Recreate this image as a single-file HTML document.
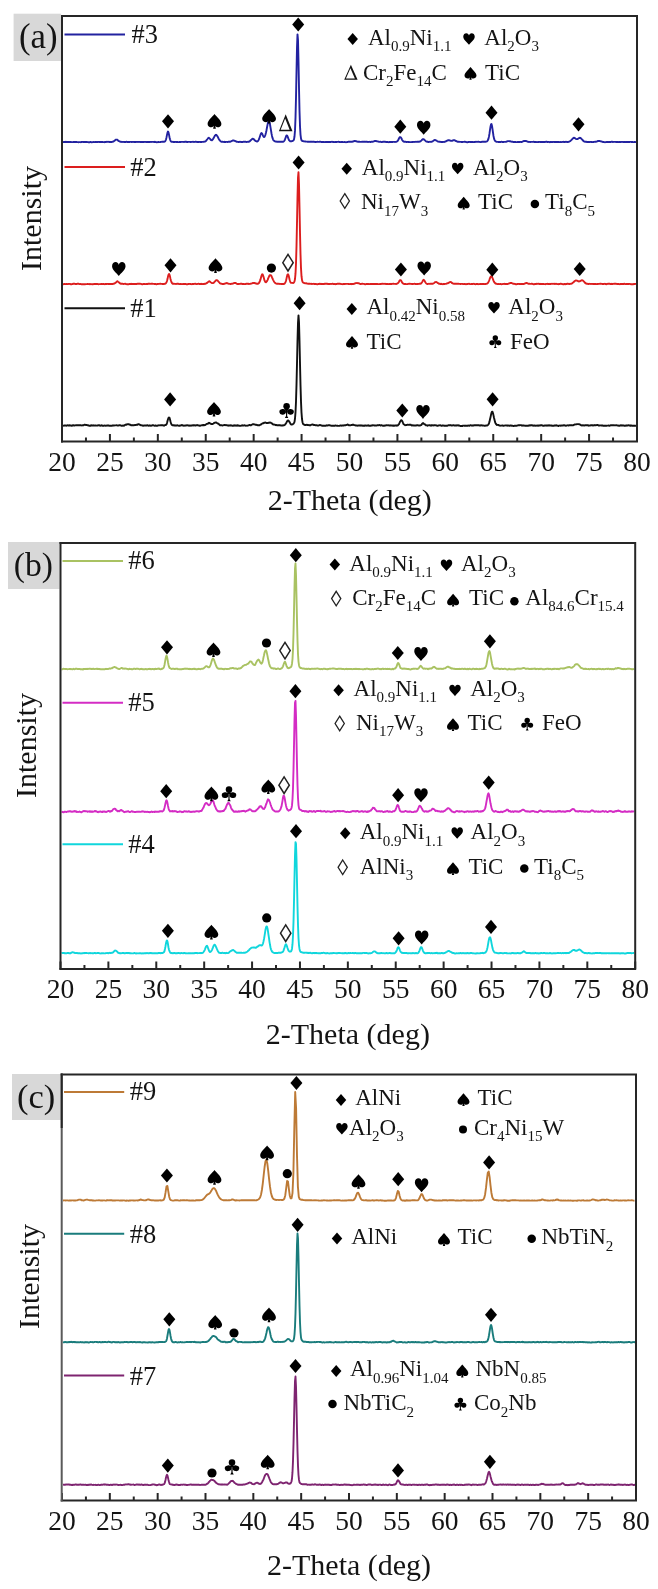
<!DOCTYPE html>
<html><head><meta charset="utf-8"><style>
html,body{margin:0;padding:0;background:#fff;overflow:hidden;}
svg{display:block;font-family:"Liberation Serif", serif;will-change:transform;}
</style></head><body>
<svg width="658" height="1589" viewBox="0 0 658 1589">
<rect width="658" height="1589" fill="#fff"/>
<rect x="13.6" y="13.7" width="47.4" height="47.3" fill="#d8d8d8"/>
<text x="19.0" y="48.0" font-size="34.8" fill="#141414">(a)</text>
<text x="267.7" y="510" font-size="30" fill="#141414">2-Theta (deg)</text>
<text transform="translate(40.5,218.5) rotate(-90)" font-size="30" text-anchor="middle" fill="#141414">Intensity</text>
<text x="62.00" y="470.5" font-size="27.5" text-anchor="middle" fill="#141414">20</text>
<text x="109.92" y="470.5" font-size="27.5" text-anchor="middle" fill="#141414">25</text>
<text x="157.83" y="470.5" font-size="27.5" text-anchor="middle" fill="#141414">30</text>
<text x="205.75" y="470.5" font-size="27.5" text-anchor="middle" fill="#141414">35</text>
<text x="253.67" y="470.5" font-size="27.5" text-anchor="middle" fill="#141414">40</text>
<text x="301.58" y="470.5" font-size="27.5" text-anchor="middle" fill="#141414">45</text>
<text x="349.50" y="470.5" font-size="27.5" text-anchor="middle" fill="#141414">50</text>
<text x="397.42" y="470.5" font-size="27.5" text-anchor="middle" fill="#141414">55</text>
<text x="445.33" y="470.5" font-size="27.5" text-anchor="middle" fill="#141414">60</text>
<text x="493.25" y="470.5" font-size="27.5" text-anchor="middle" fill="#141414">65</text>
<text x="541.17" y="470.5" font-size="27.5" text-anchor="middle" fill="#141414">70</text>
<text x="589.08" y="470.5" font-size="27.5" text-anchor="middle" fill="#141414">75</text>
<text x="637.00" y="470.5" font-size="27.5" text-anchor="middle" fill="#141414">80</text>
<rect x="8" y="542" width="51.5" height="47" fill="#d8d8d8"/>
<text x="13.8" y="576.4" font-size="33.6" fill="#141414">(b)</text>
<text x="265.8" y="1043.5" font-size="30" fill="#141414">2-Theta (deg)</text>
<text transform="translate(35.8,745.5) rotate(-90)" font-size="30" text-anchor="middle" fill="#141414">Intensity</text>
<text x="60.50" y="997.5" font-size="27.5" text-anchor="middle" fill="#141414">20</text>
<text x="108.39" y="997.5" font-size="27.5" text-anchor="middle" fill="#141414">25</text>
<text x="156.28" y="997.5" font-size="27.5" text-anchor="middle" fill="#141414">30</text>
<text x="204.18" y="997.5" font-size="27.5" text-anchor="middle" fill="#141414">35</text>
<text x="252.07" y="997.5" font-size="27.5" text-anchor="middle" fill="#141414">40</text>
<text x="299.96" y="997.5" font-size="27.5" text-anchor="middle" fill="#141414">45</text>
<text x="347.85" y="997.5" font-size="27.5" text-anchor="middle" fill="#141414">50</text>
<text x="395.74" y="997.5" font-size="27.5" text-anchor="middle" fill="#141414">55</text>
<text x="443.63" y="997.5" font-size="27.5" text-anchor="middle" fill="#141414">60</text>
<text x="491.53" y="997.5" font-size="27.5" text-anchor="middle" fill="#141414">65</text>
<text x="539.42" y="997.5" font-size="27.5" text-anchor="middle" fill="#141414">70</text>
<text x="587.31" y="997.5" font-size="27.5" text-anchor="middle" fill="#141414">75</text>
<text x="635.20" y="997.5" font-size="27.5" text-anchor="middle" fill="#141414">80</text>
<rect x="12" y="1074" width="49" height="46" fill="#d8d8d8"/>
<text x="17.0" y="1108.4" font-size="34.5" fill="#141414">(c)</text>
<text x="267" y="1575" font-size="30" fill="#141414">2-Theta (deg)</text>
<text transform="translate(38.6,1276.5) rotate(-90)" font-size="30" text-anchor="middle" fill="#141414">Intensity</text>
<text x="62.00" y="1529.5" font-size="27.5" text-anchor="middle" fill="#141414">20</text>
<text x="109.83" y="1529.5" font-size="27.5" text-anchor="middle" fill="#141414">25</text>
<text x="157.67" y="1529.5" font-size="27.5" text-anchor="middle" fill="#141414">30</text>
<text x="205.50" y="1529.5" font-size="27.5" text-anchor="middle" fill="#141414">35</text>
<text x="253.33" y="1529.5" font-size="27.5" text-anchor="middle" fill="#141414">40</text>
<text x="301.17" y="1529.5" font-size="27.5" text-anchor="middle" fill="#141414">45</text>
<text x="349.00" y="1529.5" font-size="27.5" text-anchor="middle" fill="#141414">50</text>
<text x="396.83" y="1529.5" font-size="27.5" text-anchor="middle" fill="#141414">55</text>
<text x="444.67" y="1529.5" font-size="27.5" text-anchor="middle" fill="#141414">60</text>
<text x="492.50" y="1529.5" font-size="27.5" text-anchor="middle" fill="#141414">65</text>
<text x="540.33" y="1529.5" font-size="27.5" text-anchor="middle" fill="#141414">70</text>
<text x="588.17" y="1529.5" font-size="27.5" text-anchor="middle" fill="#141414">75</text>
<text x="636.00" y="1529.5" font-size="27.5" text-anchor="middle" fill="#141414">80</text>
<polyline points="63.0,141.9 63.5,142.0 64.0,142.0 64.5,142.0 65.0,142.0 65.5,141.9 66.0,141.8 66.5,142.0 67.0,141.9 67.5,141.9 68.0,142.1 68.5,142.0 69.0,142.1 69.5,142.0 70.0,142.1 70.5,142.0 71.0,142.0 71.5,142.1 72.0,142.1 72.5,142.1 73.0,142.1 73.5,142.0 74.0,142.0 74.5,142.0 75.0,142.0 75.5,141.9 76.0,142.0 76.5,142.0 77.0,142.1 77.5,142.1 78.0,142.1 78.5,142.2 79.0,142.1 79.5,142.1 80.0,142.1 80.5,142.1 81.0,142.2 81.5,142.0 82.0,141.9 82.5,141.9 83.0,142.0 83.5,142.0 84.0,142.0 84.5,142.0 85.0,142.0 85.5,142.0 86.0,141.9 86.5,142.0 87.0,142.0 87.5,142.1 88.0,142.1 88.5,142.2 89.0,142.2 89.5,142.2 90.0,142.2 90.5,142.0 91.0,142.1 91.5,142.2 92.0,142.2 92.5,142.1 93.0,142.1 93.5,142.0 94.0,142.1 94.5,142.1 95.0,142.0 95.5,141.9 96.0,142.0 96.5,142.1 97.0,142.0 97.5,142.1 98.0,142.0 98.5,141.9 99.0,141.9 99.5,142.0 100.0,142.1 100.5,141.9 101.0,142.0 101.5,141.9 102.0,142.0 102.5,141.9 103.0,142.1 103.5,142.1 104.0,142.1 104.5,142.2 105.0,142.0 105.5,141.9 106.0,142.0 106.5,141.9 107.0,141.8 107.5,141.9 108.0,141.9 108.5,141.9 109.0,141.8 109.5,142.0 110.0,141.9 110.5,142.0 111.0,142.1 111.5,142.0 112.0,141.9 112.5,141.8 113.0,141.7 113.5,141.4 114.0,141.1 114.5,140.7 115.0,140.4 115.5,139.9 116.0,139.6 116.5,139.6 117.0,139.6 117.5,139.9 118.0,140.5 118.5,140.9 119.0,141.2 119.5,141.4 120.0,141.6 120.5,141.8 121.0,141.8 121.5,141.9 122.0,142.0 122.5,141.9 123.0,141.9 123.5,141.9 124.0,142.0 124.5,142.0 125.0,142.0 125.5,142.1 126.0,141.9 126.5,141.8 127.0,141.9 127.5,142.1 128.0,142.0 128.5,142.0 129.0,142.0 129.5,142.0 130.0,141.9 130.5,141.9 131.0,141.9 131.5,142.0 132.0,141.9 132.5,141.9 133.0,142.0 133.5,141.9 134.0,141.9 134.5,142.0 135.0,142.0 135.5,141.9 136.0,142.0 136.5,141.9 137.0,141.9 137.5,141.9 138.0,142.0 138.5,141.9 139.0,141.9 139.5,141.9 140.0,142.0 140.5,142.0 141.0,142.1 141.5,142.0 142.0,141.9 142.5,142.0 143.0,142.1 143.5,142.0 144.0,142.0 144.5,141.9 145.0,141.9 145.5,141.9 146.0,142.0 146.5,142.1 147.0,142.0 147.5,141.9 148.0,142.0 148.5,142.0 149.0,142.1 149.5,142.0 150.0,141.9 150.5,141.9 151.0,142.0 151.5,141.9 152.0,141.9 152.5,141.9 153.0,141.9 153.5,141.9 154.0,142.0 154.5,141.9 155.0,141.8 155.5,142.0 156.0,142.1 156.5,142.2 157.0,142.1 157.5,142.1 158.0,142.2 158.5,142.0 159.0,142.1 159.5,142.1 160.0,142.1 160.5,142.0 161.0,141.9 161.5,141.9 162.0,141.8 162.5,141.8 163.0,141.8 163.5,141.8 164.0,141.8 164.5,141.6 165.0,141.4 165.5,140.7 166.0,139.5 166.5,137.4 167.0,134.9 167.5,132.6 168.0,131.5 168.5,132.5 169.0,134.6 169.5,137.2 170.0,139.3 170.5,140.7 171.0,141.4 171.5,141.8 172.0,141.9 172.5,141.9 173.0,141.8 173.5,142.0 174.0,142.0 174.5,142.0 175.0,142.0 175.5,141.9 176.0,141.9 176.5,142.0 177.0,141.9 177.5,142.0 178.0,142.1 178.5,142.1 179.0,142.1 179.5,142.0 180.0,142.0 180.5,142.1 181.0,141.9 181.5,141.9 182.0,141.9 182.5,141.9 183.0,141.9 183.5,141.9 184.0,142.0 184.5,141.9 185.0,141.8 185.5,141.8 186.0,141.8 186.5,141.8 187.0,142.0 187.5,142.0 188.0,141.9 188.5,141.9 189.0,141.9 189.5,141.9 190.0,141.9 190.5,142.0 191.0,142.0 191.5,141.9 192.0,141.9 192.5,141.9 193.0,141.8 193.5,141.9 194.0,142.0 194.5,141.9 195.0,141.9 195.5,141.8 196.0,141.8 196.5,141.9 197.0,142.0 197.5,142.0 198.0,142.0 198.5,142.0 199.0,142.0 199.5,141.9 200.0,141.9 200.5,142.0 201.0,141.9 201.5,142.0 202.0,141.9 202.5,141.9 203.0,141.9 203.5,141.9 204.0,141.7 204.5,141.6 205.0,141.5 205.5,141.3 206.0,140.9 206.5,140.2 207.0,139.6 207.5,139.0 208.0,138.3 208.5,137.9 209.0,137.8 209.5,138.3 210.0,138.8 210.5,139.5 211.0,140.0 211.5,140.2 212.0,140.2 212.5,139.8 213.0,139.1 213.5,138.3 214.0,137.3 214.5,136.3 215.0,135.7 215.5,135.0 216.0,134.8 216.5,135.0 217.0,135.7 217.5,136.4 218.0,137.3 218.5,138.4 219.0,139.2 219.5,140.1 220.0,140.7 220.5,141.2 221.0,141.6 221.5,141.7 222.0,141.9 222.5,141.8 223.0,141.9 223.5,141.9 224.0,142.0 224.5,141.8 225.0,141.9 225.5,142.0 226.0,141.9 226.5,141.9 227.0,141.9 227.5,142.0 228.0,141.9 228.5,141.8 229.0,141.8 229.5,141.8 230.0,141.8 230.5,141.6 231.0,141.4 231.5,141.2 232.0,140.9 232.5,140.7 233.0,140.4 233.5,140.4 234.0,140.6 234.5,140.7 235.0,141.0 235.5,141.1 236.0,141.4 236.5,141.7 237.0,141.8 237.5,141.9 238.0,141.9 238.5,142.0 239.0,142.0 239.5,141.9 240.0,141.8 240.5,141.9 241.0,142.0 241.5,142.0 242.0,142.0 242.5,142.0 243.0,141.9 243.5,141.8 244.0,141.8 244.5,141.9 245.0,141.8 245.5,141.8 246.0,141.9 246.5,142.0 247.0,141.9 247.5,141.9 248.0,141.8 248.5,141.8 249.0,141.7 249.5,141.4 250.0,141.0 250.5,140.5 251.0,140.1 251.5,139.6 252.0,139.1 252.5,138.8 253.0,138.8 253.5,139.1 254.0,139.4 254.5,140.1 255.0,140.5 255.5,140.9 256.0,141.2 256.5,141.4 257.0,141.5 257.5,141.3 258.0,140.9 258.5,140.2 259.0,139.2 259.5,137.7 260.0,136.2 260.5,134.7 261.0,133.5 261.5,133.1 262.0,133.5 262.5,134.5 263.0,135.7 263.5,136.6 264.0,137.1 264.5,136.8 265.0,135.9 265.5,134.5 266.0,132.5 266.5,130.2 267.0,127.5 267.5,124.9 268.0,122.5 268.5,121.2 269.0,120.9 269.5,122.1 270.0,124.5 270.5,127.3 271.0,130.4 271.5,133.5 272.0,135.9 272.5,137.9 273.0,139.3 273.5,140.3 274.0,140.7 274.5,141.1 275.0,141.3 275.5,141.5 276.0,141.5 276.5,141.6 277.0,141.8 277.5,141.7 278.0,141.8 278.5,141.7 279.0,141.6 279.5,141.7 280.0,141.6 280.5,141.8 281.0,141.9 281.5,141.7 282.0,141.8 282.5,141.7 283.0,141.7 283.5,141.6 284.0,141.1 284.5,140.5 285.0,139.4 285.5,138.0 286.0,136.5 286.5,135.5 287.0,135.5 287.5,136.3 288.0,137.6 288.5,138.9 289.0,140.1 289.5,140.7 290.0,141.2 290.5,141.3 291.0,141.3 291.5,141.2 292.0,141.1 292.5,141.0 293.0,140.7 293.5,140.4 294.0,139.3 294.5,136.5 295.0,130.4 295.5,117.9 296.0,97.8 296.5,72.0 297.0,47.4 297.5,34.4 298.0,40.2 298.5,61.4 299.0,87.9 299.5,110.8 300.0,126.1 300.5,134.6 301.0,138.5 301.5,140.1 302.0,140.8 302.5,141.0 303.0,141.1 303.5,141.2 304.0,141.4 304.5,141.4 305.0,141.5 305.5,141.5 306.0,141.6 306.5,141.6 307.0,141.6 307.5,141.7 308.0,141.7 308.5,141.8 309.0,141.8 309.5,141.9 310.0,141.8 310.5,141.8 311.0,141.7 311.5,141.7 312.0,141.8 312.5,141.9 313.0,141.8 313.5,141.8 314.0,141.8 314.5,141.9 315.0,142.0 315.5,142.0 316.0,142.0 316.5,141.9 317.0,141.9 317.5,141.8 318.0,141.9 318.5,141.9 319.0,141.9 319.5,141.8 320.0,141.9 320.5,141.8 321.0,141.9 321.5,142.0 322.0,142.1 322.5,142.0 323.0,142.0 323.5,142.0 324.0,142.0 324.5,142.1 325.0,142.1 325.5,142.0 326.0,142.1 326.5,142.0 327.0,142.0 327.5,142.1 328.0,141.9 328.5,142.0 329.0,142.0 329.5,142.0 330.0,142.0 330.5,142.0 331.0,141.9 331.5,141.9 332.0,141.8 332.5,141.9 333.0,142.0 333.5,142.0 334.0,142.0 334.5,142.1 335.0,142.1 335.5,142.0 336.0,142.0 336.5,142.0 337.0,141.9 337.5,141.9 338.0,141.9 338.5,141.8 339.0,141.9 339.5,142.0 340.0,142.0 340.5,142.1 341.0,142.1 341.5,141.9 342.0,142.0 342.5,142.0 343.0,142.1 343.5,142.1 344.0,142.1 344.5,142.0 345.0,142.1 345.5,142.1 346.0,142.2 346.5,142.1 347.0,142.1 347.5,142.0 348.0,141.9 348.5,141.8 349.0,141.8 349.5,141.8 350.0,141.8 350.5,141.8 351.0,141.9 351.5,141.8 352.0,141.7 352.5,141.7 353.0,141.5 353.5,141.3 354.0,141.2 354.5,141.0 355.0,140.9 355.5,141.1 356.0,141.2 356.5,141.3 357.0,141.5 357.5,141.6 358.0,141.8 358.5,141.8 359.0,141.8 359.5,141.8 360.0,141.9 360.5,141.9 361.0,141.9 361.5,141.9 362.0,141.8 362.5,141.8 363.0,141.9 363.5,141.8 364.0,141.8 364.5,141.8 365.0,141.8 365.5,141.9 366.0,141.8 366.5,141.8 367.0,141.8 367.5,141.9 368.0,142.0 368.5,141.9 369.0,141.9 369.5,141.9 370.0,141.8 370.5,142.0 371.0,141.9 371.5,141.8 372.0,141.8 372.5,141.7 373.0,141.6 373.5,141.5 374.0,141.3 374.5,141.0 375.0,141.0 375.5,140.9 376.0,141.0 376.5,141.1 377.0,141.4 377.5,141.4 378.0,141.5 378.5,141.6 379.0,141.8 379.5,141.9 380.0,141.9 380.5,141.8 381.0,141.9 381.5,142.1 382.0,142.1 382.5,141.9 383.0,141.8 383.5,141.8 384.0,141.8 384.5,141.8 385.0,141.7 385.5,141.9 386.0,142.0 386.5,141.9 387.0,142.1 387.5,142.0 388.0,142.1 388.5,142.1 389.0,142.2 389.5,142.0 390.0,141.9 390.5,142.0 391.0,142.1 391.5,141.9 392.0,141.9 392.5,142.0 393.0,141.9 393.5,141.9 394.0,141.9 394.5,141.9 395.0,142.0 395.5,141.9 396.0,141.9 396.5,141.8 397.0,141.5 397.5,141.1 398.0,140.4 398.5,139.5 399.0,138.4 399.5,137.5 400.0,137.1 400.5,137.1 401.0,137.6 401.5,138.5 402.0,139.6 402.5,140.5 403.0,141.1 403.5,141.5 404.0,141.7 404.5,141.8 405.0,141.9 405.5,141.8 406.0,141.9 406.5,142.0 407.0,142.0 407.5,141.9 408.0,141.9 408.5,142.0 409.0,142.0 409.5,142.1 410.0,142.1 410.5,142.1 411.0,142.1 411.5,142.1 412.0,142.0 412.5,142.0 413.0,141.9 413.5,141.9 414.0,142.0 414.5,141.9 415.0,141.9 415.5,141.9 416.0,141.8 416.5,141.9 417.0,141.9 417.5,141.8 418.0,141.8 418.5,141.8 419.0,141.9 419.5,141.7 420.0,141.5 420.5,141.4 421.0,140.9 421.5,140.4 422.0,139.8 422.5,139.4 423.0,139.1 423.5,139.1 424.0,139.5 424.5,139.9 425.0,140.4 425.5,140.9 426.0,141.4 426.5,141.6 427.0,141.6 427.5,141.9 428.0,141.8 428.5,142.0 429.0,141.9 429.5,141.9 430.0,141.8 430.5,141.9 431.0,141.9 431.5,141.8 432.0,141.6 432.5,141.4 433.0,141.0 433.5,140.7 434.0,140.3 434.5,140.0 435.0,140.0 435.5,140.1 436.0,140.4 436.5,140.6 437.0,141.0 437.5,141.3 438.0,141.6 438.5,141.6 439.0,141.7 439.5,141.8 440.0,141.8 440.5,141.9 441.0,142.0 441.5,141.9 442.0,142.0 442.5,142.0 443.0,141.9 443.5,141.9 444.0,142.0 444.5,141.9 445.0,141.7 445.5,141.5 446.0,141.3 446.5,140.9 447.0,140.8 447.5,140.5 448.0,140.3 448.5,140.2 449.0,140.1 449.5,140.3 450.0,140.5 450.5,140.6 451.0,140.9 451.5,140.9 452.0,140.9 452.5,140.6 453.0,140.3 453.5,140.1 454.0,140.1 454.5,140.2 455.0,140.4 455.5,140.8 456.0,141.0 456.5,141.2 457.0,141.5 457.5,141.7 458.0,141.8 458.5,141.9 459.0,141.8 459.5,141.9 460.0,141.9 460.5,141.9 461.0,141.9 461.5,142.0 462.0,142.0 462.5,142.0 463.0,141.9 463.5,141.9 464.0,141.9 464.5,141.8 465.0,141.8 465.5,141.9 466.0,142.0 466.5,142.1 467.0,142.2 467.5,142.2 468.0,142.1 468.5,142.0 469.0,141.9 469.5,141.9 470.0,142.0 470.5,142.0 471.0,141.9 471.5,142.0 472.0,142.0 472.5,142.0 473.0,142.1 473.5,142.1 474.0,142.0 474.5,141.9 475.0,142.0 475.5,141.9 476.0,141.8 476.5,141.9 477.0,141.9 477.5,141.9 478.0,141.8 478.5,141.8 479.0,141.9 479.5,141.9 480.0,142.0 480.5,142.1 481.0,142.1 481.5,141.9 482.0,141.8 482.5,141.8 483.0,141.8 483.5,141.8 484.0,141.7 484.5,141.8 485.0,141.7 485.5,141.7 486.0,141.6 486.5,141.6 487.0,141.4 487.5,140.9 488.0,140.0 488.5,138.6 489.0,136.4 489.5,133.4 490.0,129.9 490.5,126.6 491.0,124.4 491.5,124.1 492.0,126.0 492.5,129.2 493.0,132.7 493.5,136.0 494.0,138.4 494.5,139.9 495.0,140.8 495.5,141.2 496.0,141.6 496.5,141.8 497.0,141.9 497.5,141.9 498.0,141.9 498.5,142.0 499.0,142.1 499.5,142.0 500.0,142.0 500.5,142.0 501.0,141.9 501.5,141.8 502.0,141.9 502.5,142.0 503.0,142.0 503.5,142.0 504.0,141.9 504.5,141.9 505.0,141.9 505.5,141.9 506.0,141.9 506.5,141.6 507.0,141.4 507.5,141.3 508.0,141.1 508.5,141.1 509.0,141.1 509.5,141.2 510.0,141.3 510.5,141.3 511.0,141.5 511.5,141.6 512.0,141.8 512.5,141.8 513.0,141.9 513.5,142.0 514.0,141.9 514.5,142.0 515.0,141.9 515.5,142.0 516.0,142.1 516.5,142.1 517.0,142.1 517.5,142.0 518.0,142.1 518.5,142.0 519.0,141.9 519.5,142.0 520.0,141.9 520.5,141.9 521.0,142.0 521.5,142.0 522.0,141.8 522.5,141.6 523.0,141.4 523.5,141.2 524.0,141.0 524.5,141.1 525.0,140.9 525.5,140.9 526.0,141.0 526.5,141.1 527.0,141.4 527.5,141.6 528.0,141.8 528.5,141.9 529.0,142.0 529.5,141.9 530.0,141.9 530.5,142.0 531.0,141.9 531.5,141.9 532.0,141.9 532.5,141.9 533.0,141.9 533.5,141.8 534.0,141.8 534.5,142.0 535.0,141.9 535.5,142.0 536.0,141.9 536.5,142.1 537.0,142.1 537.5,142.1 538.0,142.0 538.5,141.9 539.0,142.0 539.5,141.9 540.0,141.9 540.5,142.0 541.0,142.1 541.5,141.9 542.0,142.1 542.5,142.0 543.0,142.0 543.5,141.9 544.0,141.9 544.5,142.1 545.0,142.0 545.5,141.9 546.0,141.8 546.5,141.8 547.0,141.8 547.5,142.0 548.0,141.9 548.5,141.9 549.0,142.0 549.5,142.1 550.0,142.2 550.5,142.0 551.0,142.0 551.5,142.1 552.0,142.0 552.5,142.1 553.0,142.0 553.5,141.9 554.0,141.9 554.5,142.0 555.0,142.0 555.5,142.0 556.0,142.0 556.5,142.0 557.0,142.0 557.5,142.0 558.0,142.1 558.5,142.0 559.0,142.0 559.5,142.1 560.0,142.1 560.5,142.0 561.0,142.1 561.5,142.1 562.0,142.0 562.5,141.9 563.0,141.9 563.5,141.8 564.0,142.0 564.5,141.9 565.0,142.0 565.5,141.9 566.0,141.8 566.5,141.9 567.0,142.0 567.5,142.0 568.0,142.0 568.5,141.9 569.0,141.8 569.5,141.5 570.0,141.2 570.5,140.9 571.0,140.4 571.5,139.9 572.0,139.3 572.5,138.8 573.0,138.3 573.5,137.9 574.0,137.8 574.5,137.9 575.0,138.2 575.5,138.6 576.0,138.9 576.5,139.1 577.0,139.1 577.5,139.1 578.0,138.8 578.5,138.3 579.0,138.1 579.5,137.9 580.0,137.8 580.5,138.0 581.0,138.3 581.5,138.9 582.0,139.4 582.5,140.0 583.0,140.5 583.5,141.0 584.0,141.4 584.5,141.6 585.0,141.7 585.5,141.8 586.0,141.8 586.5,141.8 587.0,142.0 587.5,142.0 588.0,141.9 588.5,142.0 589.0,142.0 589.5,142.1 590.0,142.0 590.5,141.9 591.0,141.9 591.5,142.0 592.0,142.0 592.5,142.1 593.0,142.1 593.5,142.0 594.0,141.9 594.5,141.9 595.0,141.8 595.5,141.7 596.0,141.7 596.5,141.6 597.0,141.5 597.5,141.2 598.0,141.0 598.5,140.9 599.0,141.0 599.5,141.0 600.0,141.1 600.5,141.3 601.0,141.4 601.5,141.5 602.0,141.7 602.5,141.9 603.0,142.0 603.5,142.0 604.0,142.1 604.5,142.1 605.0,142.2 605.5,142.1 606.0,142.1 606.5,142.0 607.0,142.1 607.5,142.0 608.0,142.0 608.5,142.1 609.0,142.0 609.5,141.9 610.0,142.0 610.5,142.0 611.0,141.9 611.5,141.8 612.0,141.9 612.5,141.8 613.0,142.0 613.5,141.9 614.0,141.9 614.5,141.9 615.0,141.9 615.5,141.9 616.0,142.0 616.5,142.0 617.0,142.0 617.5,141.9 618.0,142.1 618.5,142.1 619.0,141.9 619.5,141.9 620.0,142.0 620.5,142.1 621.0,142.0 621.5,141.9 622.0,141.9 622.5,141.9 623.0,142.0 623.5,142.1 624.0,142.0 624.5,142.0 625.0,142.0 625.5,142.1 626.0,142.0 626.5,142.0 627.0,141.9 627.5,142.0 628.0,141.9 628.5,142.0 629.0,142.0 629.5,142.0 630.0,141.9 630.5,141.9 631.0,141.9 631.5,142.0 632.0,142.0 632.5,142.0 633.0,142.1 633.5,142.1 634.0,142.1 634.5,142.0 635.0,141.9 635.5,142.1 636.0,141.9" fill="none" stroke="#2222a0" stroke-width="1.9" stroke-linejoin="round"/>
<polyline points="63.0,284.1 63.5,284.2 64.0,284.0 64.5,283.9 65.0,284.0 65.5,284.1 66.0,284.1 66.5,284.0 67.0,284.0 67.5,284.1 68.0,284.1 68.5,283.9 69.0,283.9 69.5,283.9 70.0,284.0 70.5,284.2 71.0,284.2 71.5,284.2 72.0,284.1 72.5,284.0 73.0,283.8 73.5,283.7 74.0,283.8 74.5,283.8 75.0,283.9 75.5,284.0 76.0,284.0 76.5,284.0 77.0,283.9 77.5,283.8 78.0,283.8 78.5,283.8 79.0,283.9 79.5,284.1 80.0,284.1 80.5,284.0 81.0,284.1 81.5,284.2 82.0,284.2 82.5,284.2 83.0,284.2 83.5,284.2 84.0,284.1 84.5,284.2 85.0,284.3 85.5,284.1 86.0,284.1 86.5,284.1 87.0,284.1 87.5,284.0 88.0,284.0 88.5,284.1 89.0,284.1 89.5,284.2 90.0,284.0 90.5,284.1 91.0,284.2 91.5,284.1 92.0,284.1 92.5,284.2 93.0,284.2 93.5,284.1 94.0,284.0 94.5,283.9 95.0,284.0 95.5,283.9 96.0,284.1 96.5,284.0 97.0,284.1 97.5,284.0 98.0,284.1 98.5,284.2 99.0,284.1 99.5,284.1 100.0,284.1 100.5,284.1 101.0,284.0 101.5,283.9 102.0,283.9 102.5,284.1 103.0,284.1 103.5,283.9 104.0,284.1 104.5,284.1 105.0,284.2 105.5,284.0 106.0,284.1 106.5,283.9 107.0,284.0 107.5,283.9 108.0,283.9 108.5,284.0 109.0,283.9 109.5,283.9 110.0,284.1 110.5,283.9 111.0,283.9 111.5,284.0 112.0,284.0 112.5,284.0 113.0,283.8 113.5,283.8 114.0,283.6 114.5,283.5 115.0,283.1 115.5,282.9 116.0,282.3 116.5,281.9 117.0,281.4 117.5,281.3 118.0,281.7 118.5,282.0 119.0,282.4 119.5,283.0 120.0,283.4 120.5,283.5 121.0,283.9 121.5,283.8 122.0,283.7 122.5,283.8 123.0,283.9 123.5,284.0 124.0,283.9 124.5,283.9 125.0,283.8 125.5,283.8 126.0,284.0 126.5,284.1 127.0,284.2 127.5,284.2 128.0,284.2 128.5,284.2 129.0,284.1 129.5,284.0 130.0,284.0 130.5,284.0 131.0,283.8 131.5,283.9 132.0,284.0 132.5,283.9 133.0,284.0 133.5,283.9 134.0,284.0 134.5,283.9 135.0,284.1 135.5,284.0 136.0,284.0 136.5,284.0 137.0,283.8 137.5,283.9 138.0,283.8 138.5,283.8 139.0,283.7 139.5,283.7 140.0,283.7 140.5,283.9 141.0,283.9 141.5,284.1 142.0,284.2 142.5,284.3 143.0,284.1 143.5,284.0 144.0,283.9 144.5,284.0 145.0,284.0 145.5,284.1 146.0,284.1 146.5,284.0 147.0,284.0 147.5,284.0 148.0,283.8 148.5,283.7 149.0,283.8 149.5,283.8 150.0,283.9 150.5,283.9 151.0,283.8 151.5,283.8 152.0,283.8 152.5,283.8 153.0,283.9 153.5,283.9 154.0,283.9 154.5,284.0 155.0,283.9 155.5,284.0 156.0,284.2 156.5,284.2 157.0,284.1 157.5,284.0 158.0,284.0 158.5,283.9 159.0,283.9 159.5,283.9 160.0,283.8 160.5,283.8 161.0,283.9 161.5,283.9 162.0,283.9 162.5,284.1 163.0,284.0 163.5,283.9 164.0,284.0 164.5,283.9 165.0,283.7 165.5,283.6 166.0,283.1 166.5,282.2 167.0,281.0 167.5,279.1 168.0,276.6 168.5,274.7 169.0,273.9 169.5,274.7 170.0,276.6 170.5,278.9 171.0,280.8 171.5,282.2 172.0,283.1 172.5,283.7 173.0,283.7 173.5,283.9 174.0,283.8 174.5,283.9 175.0,283.9 175.5,283.9 176.0,284.0 176.5,283.9 177.0,283.8 177.5,283.8 178.0,283.7 178.5,283.9 179.0,284.0 179.5,284.1 180.0,284.1 180.5,283.9 181.0,284.0 181.5,284.1 182.0,284.1 182.5,284.1 183.0,284.0 183.5,284.0 184.0,284.1 184.5,284.0 185.0,284.0 185.5,284.0 186.0,284.1 186.5,284.2 187.0,284.2 187.5,284.2 188.0,284.1 188.5,283.9 189.0,284.0 189.5,283.9 190.0,283.9 190.5,284.0 191.0,284.1 191.5,284.1 192.0,284.2 192.5,284.0 193.0,283.9 193.5,284.1 194.0,283.9 194.5,283.9 195.0,283.8 195.5,283.7 196.0,284.0 196.5,284.1 197.0,284.1 197.5,283.9 198.0,283.9 198.5,283.8 199.0,283.9 199.5,284.0 200.0,284.0 200.5,284.0 201.0,283.8 201.5,283.9 202.0,284.1 202.5,284.1 203.0,283.9 203.5,283.9 204.0,284.0 204.5,283.8 205.0,283.9 205.5,283.7 206.0,283.6 206.5,283.2 207.0,283.0 207.5,282.6 208.0,282.1 208.5,281.6 209.0,281.4 209.5,281.3 210.0,281.7 210.5,282.2 211.0,282.5 211.5,282.8 212.0,283.1 212.5,283.1 213.0,283.1 213.5,282.9 214.0,282.5 214.5,281.8 215.0,281.4 215.5,280.7 216.0,280.3 216.5,280.1 217.0,280.2 217.5,280.6 218.0,281.0 218.5,281.6 219.0,282.2 219.5,282.7 220.0,283.3 220.5,283.6 221.0,283.6 221.5,283.7 222.0,283.9 222.5,284.0 223.0,284.0 223.5,284.0 224.0,283.8 224.5,283.8 225.0,283.6 225.5,283.4 226.0,283.3 226.5,283.2 227.0,283.0 227.5,283.3 228.0,283.6 228.5,283.6 229.0,283.9 229.5,283.9 230.0,283.9 230.5,284.0 231.0,283.8 231.5,283.9 232.0,283.8 232.5,283.6 233.0,283.5 233.5,283.3 234.0,283.0 234.5,283.1 235.0,282.9 235.5,282.9 236.0,283.2 236.5,283.6 237.0,283.8 237.5,284.0 238.0,284.0 238.5,284.0 239.0,284.0 239.5,283.9 240.0,283.9 240.5,283.8 241.0,283.7 241.5,283.9 242.0,283.8 242.5,284.0 243.0,284.0 243.5,284.0 244.0,284.0 244.5,284.1 245.0,284.1 245.5,284.0 246.0,283.8 246.5,283.8 247.0,283.9 247.5,283.8 248.0,283.7 248.5,283.8 249.0,284.0 249.5,283.9 250.0,283.9 250.5,283.7 251.0,283.6 251.5,283.6 252.0,283.4 252.5,283.2 253.0,283.0 253.5,283.0 254.0,283.1 254.5,282.9 255.0,283.2 255.5,283.3 256.0,283.5 256.5,283.7 257.0,283.7 257.5,283.7 258.0,283.7 258.5,283.3 259.0,282.9 259.5,282.1 260.0,280.9 260.5,279.4 261.0,277.5 261.5,275.8 262.0,274.5 262.5,274.3 263.0,275.2 263.5,276.8 264.0,278.6 264.5,280.4 265.0,281.4 265.5,282.1 266.0,282.2 266.5,281.8 267.0,281.1 267.5,280.1 268.0,279.0 268.5,277.7 269.0,276.6 269.5,275.5 270.0,275.1 270.5,275.1 271.0,275.3 271.5,276.2 272.0,277.4 272.5,278.5 273.0,279.6 273.5,280.6 274.0,281.5 274.5,282.3 275.0,282.8 275.5,283.2 276.0,283.5 276.5,283.6 277.0,283.8 277.5,283.8 278.0,283.8 278.5,283.9 279.0,283.8 279.5,283.9 280.0,284.0 280.5,283.9 281.0,283.9 281.5,284.0 282.0,284.0 282.5,284.0 283.0,284.0 283.5,284.0 284.0,283.8 284.5,283.7 285.0,283.0 285.5,282.1 286.0,280.7 286.5,278.6 287.0,276.3 287.5,274.5 288.0,274.2 288.5,275.1 289.0,277.1 289.5,279.3 290.0,281.0 290.5,282.3 291.0,282.8 291.5,282.9 292.0,282.9 292.5,282.9 293.0,283.0 293.5,282.8 294.0,282.4 294.5,281.4 295.0,279.0 295.5,273.7 296.0,263.5 296.5,246.4 297.0,222.8 297.5,197.3 298.0,177.5 298.5,172.2 299.0,184.2 299.5,207.2 300.0,232.7 300.5,253.9 301.0,268.1 301.5,276.2 302.0,280.0 302.5,281.7 303.0,282.4 303.5,282.7 304.0,283.0 304.5,283.1 305.0,283.2 305.5,283.4 306.0,283.4 306.5,283.3 307.0,283.6 307.5,283.6 308.0,283.7 308.5,283.6 309.0,283.7 309.5,283.8 310.0,283.8 310.5,283.9 311.0,283.9 311.5,283.8 312.0,284.0 312.5,283.9 313.0,283.9 313.5,283.9 314.0,283.8 314.5,284.0 315.0,284.0 315.5,284.0 316.0,284.0 316.5,284.1 317.0,284.2 317.5,284.2 318.0,284.1 318.5,284.0 319.0,284.0 319.5,283.8 320.0,283.7 320.5,284.0 321.0,283.8 321.5,284.0 322.0,284.0 322.5,284.1 323.0,283.9 323.5,283.9 324.0,284.0 324.5,283.8 325.0,283.7 325.5,283.8 326.0,283.7 326.5,283.7 327.0,283.9 327.5,283.8 328.0,284.0 328.5,284.0 329.0,283.9 329.5,284.0 330.0,283.9 330.5,283.9 331.0,284.0 331.5,283.9 332.0,283.9 332.5,283.8 333.0,283.8 333.5,284.0 334.0,284.1 334.5,284.0 335.0,284.1 335.5,284.2 336.0,284.0 336.5,284.0 337.0,283.9 337.5,283.8 338.0,283.7 338.5,283.7 339.0,283.7 339.5,283.7 340.0,283.8 340.5,283.9 341.0,284.0 341.5,284.1 342.0,284.1 342.5,284.1 343.0,284.2 343.5,284.0 344.0,283.9 344.5,284.0 345.0,284.0 345.5,283.9 346.0,283.9 346.5,283.9 347.0,283.9 347.5,283.9 348.0,283.9 348.5,284.0 349.0,284.1 349.5,284.1 350.0,284.0 350.5,283.9 351.0,284.0 351.5,284.2 352.0,284.0 352.5,284.0 353.0,284.0 353.5,284.0 354.0,283.7 354.5,283.7 355.0,283.4 355.5,283.2 356.0,283.1 356.5,283.1 357.0,283.0 357.5,283.1 358.0,283.2 358.5,283.3 359.0,283.3 359.5,283.6 360.0,283.8 360.5,284.0 361.0,284.0 361.5,283.9 362.0,283.8 362.5,283.8 363.0,283.9 363.5,283.9 364.0,283.9 364.5,284.1 365.0,284.2 365.5,284.2 366.0,284.1 366.5,284.0 367.0,283.9 367.5,284.0 368.0,284.1 368.5,284.0 369.0,284.1 369.5,284.1 370.0,284.0 370.5,284.0 371.0,284.1 371.5,284.0 372.0,284.1 372.5,283.9 373.0,284.0 373.5,283.9 374.0,284.1 374.5,284.0 375.0,283.9 375.5,284.0 376.0,283.9 376.5,284.0 377.0,284.1 377.5,284.0 378.0,284.1 378.5,284.1 379.0,284.1 379.5,284.1 380.0,284.0 380.5,284.0 381.0,284.0 381.5,283.9 382.0,283.8 382.5,283.9 383.0,283.8 383.5,283.9 384.0,283.9 384.5,283.9 385.0,283.8 385.5,283.9 386.0,284.1 386.5,283.9 387.0,284.0 387.5,284.0 388.0,284.1 388.5,284.1 389.0,284.0 389.5,283.9 390.0,284.0 390.5,284.0 391.0,283.8 391.5,284.0 392.0,283.9 392.5,283.9 393.0,283.8 393.5,283.8 394.0,283.9 394.5,283.9 395.0,283.9 395.5,283.9 396.0,284.0 396.5,283.8 397.0,283.8 397.5,283.5 398.0,283.1 398.5,282.6 399.0,281.7 399.5,280.7 400.0,280.1 400.5,280.1 401.0,280.5 401.5,281.3 402.0,282.3 402.5,283.1 403.0,283.4 403.5,283.7 404.0,284.0 404.5,284.1 405.0,284.0 405.5,284.0 406.0,284.1 406.5,284.1 407.0,284.1 407.5,284.1 408.0,283.9 408.5,283.9 409.0,283.8 409.5,283.9 410.0,283.8 410.5,283.9 411.0,283.9 411.5,283.9 412.0,284.1 412.5,284.0 413.0,284.0 413.5,283.9 414.0,283.9 414.5,283.8 415.0,283.9 415.5,284.0 416.0,283.9 416.5,284.1 417.0,284.1 417.5,283.9 418.0,284.0 418.5,283.9 419.0,283.9 419.5,283.8 420.0,283.8 420.5,283.7 421.0,283.5 421.5,283.0 422.0,282.3 422.5,281.4 423.0,280.4 423.5,279.8 424.0,280.1 424.5,280.7 425.0,281.6 425.5,282.5 426.0,283.1 426.5,283.6 427.0,283.8 427.5,284.0 428.0,283.9 428.5,283.9 429.0,283.8 429.5,283.9 430.0,283.9 430.5,283.8 431.0,283.8 431.5,283.8 432.0,283.8 432.5,283.8 433.0,283.6 433.5,283.3 434.0,283.1 434.5,282.7 435.0,282.2 435.5,282.1 436.0,282.0 436.5,282.2 437.0,282.4 437.5,282.8 438.0,283.2 438.5,283.4 439.0,283.8 439.5,283.7 440.0,283.8 440.5,284.0 441.0,283.8 441.5,283.9 442.0,284.1 442.5,284.1 443.0,284.2 443.5,283.9 444.0,284.0 444.5,284.0 445.0,283.9 445.5,283.9 446.0,283.9 446.5,283.7 447.0,283.4 447.5,283.3 448.0,283.2 448.5,282.9 449.0,282.6 449.5,282.2 450.0,282.1 450.5,282.0 451.0,282.1 451.5,282.5 452.0,283.0 452.5,283.2 453.0,283.6 453.5,283.6 454.0,283.8 454.5,283.7 455.0,283.8 455.5,283.8 456.0,283.7 456.5,283.8 457.0,283.9 457.5,283.8 458.0,283.9 458.5,283.8 459.0,283.9 459.5,283.9 460.0,283.9 460.5,284.1 461.0,283.9 461.5,283.9 462.0,283.9 462.5,283.9 463.0,284.1 463.5,284.1 464.0,284.0 464.5,284.0 465.0,284.0 465.5,284.1 466.0,284.2 466.5,284.1 467.0,284.0 467.5,284.0 468.0,283.9 468.5,283.9 469.0,283.8 469.5,283.9 470.0,284.1 470.5,284.1 471.0,284.1 471.5,284.0 472.0,284.0 472.5,284.0 473.0,283.9 473.5,283.9 474.0,283.8 474.5,284.0 475.0,284.1 475.5,284.2 476.0,284.1 476.5,283.9 477.0,283.9 477.5,284.0 478.0,284.2 478.5,284.1 479.0,284.1 479.5,284.1 480.0,284.0 480.5,284.0 481.0,284.0 481.5,284.1 482.0,284.0 482.5,284.0 483.0,284.0 483.5,284.0 484.0,283.9 484.5,284.1 485.0,284.1 485.5,284.0 486.0,283.9 486.5,283.9 487.0,283.7 487.5,283.4 488.0,282.9 488.5,281.9 489.0,280.8 489.5,279.5 490.0,278.1 490.5,277.0 491.0,276.4 491.5,276.2 492.0,276.8 492.5,278.0 493.0,279.3 493.5,280.6 494.0,281.8 494.5,282.6 495.0,283.0 495.5,283.5 496.0,283.7 496.5,283.8 497.0,283.9 497.5,284.1 498.0,284.1 498.5,284.0 499.0,284.1 499.5,284.1 500.0,284.0 500.5,284.0 501.0,284.1 501.5,284.2 502.0,284.1 502.5,284.1 503.0,284.0 503.5,283.9 504.0,283.9 504.5,283.8 505.0,284.0 505.5,283.9 506.0,284.0 506.5,284.0 507.0,283.9 507.5,284.0 508.0,283.8 508.5,283.6 509.0,283.5 509.5,283.2 510.0,283.2 510.5,283.0 511.0,282.9 511.5,283.0 512.0,283.2 512.5,283.5 513.0,283.8 513.5,283.7 514.0,283.8 514.5,283.9 515.0,284.0 515.5,284.2 516.0,284.2 516.5,284.2 517.0,284.1 517.5,284.0 518.0,284.0 518.5,283.9 519.0,283.9 519.5,284.0 520.0,284.0 520.5,284.1 521.0,284.0 521.5,283.9 522.0,284.0 522.5,284.0 523.0,283.9 523.5,284.0 524.0,284.0 524.5,283.7 525.0,283.4 525.5,283.3 526.0,283.2 526.5,283.0 527.0,283.1 527.5,283.2 528.0,283.6 528.5,283.8 529.0,283.9 529.5,283.8 530.0,283.9 530.5,283.9 531.0,283.9 531.5,283.8 532.0,283.8 532.5,283.9 533.0,284.1 533.5,284.2 534.0,284.1 534.5,284.2 535.0,284.0 535.5,283.9 536.0,284.0 536.5,283.8 537.0,283.8 537.5,283.9 538.0,283.9 538.5,283.8 539.0,283.9 539.5,284.0 540.0,283.8 540.5,284.0 541.0,284.0 541.5,284.0 542.0,284.0 542.5,283.9 543.0,284.1 543.5,283.9 544.0,284.1 544.5,284.1 545.0,284.1 545.5,284.2 546.0,284.0 546.5,283.9 547.0,283.9 547.5,283.8 548.0,284.0 548.5,284.0 549.0,284.1 549.5,284.0 550.0,283.8 550.5,284.0 551.0,283.9 551.5,283.9 552.0,283.8 552.5,283.9 553.0,283.9 553.5,283.9 554.0,283.8 554.5,283.8 555.0,284.0 555.5,283.9 556.0,283.8 556.5,283.9 557.0,284.0 557.5,284.1 558.0,284.1 558.5,284.2 559.0,284.0 559.5,284.1 560.0,283.9 560.5,283.8 561.0,283.8 561.5,283.9 562.0,284.0 562.5,284.1 563.0,284.2 563.5,284.3 564.0,284.2 564.5,284.0 565.0,284.2 565.5,284.2 566.0,284.0 566.5,284.0 567.0,283.8 567.5,283.7 568.0,283.8 568.5,283.9 569.0,284.0 569.5,284.1 570.0,283.8 570.5,283.9 571.0,283.9 571.5,283.7 572.0,283.4 572.5,283.0 573.0,282.5 573.5,282.2 574.0,281.8 574.5,281.2 575.0,280.9 575.5,280.7 576.0,280.4 576.5,280.6 577.0,280.6 577.5,280.8 578.0,281.1 578.5,281.4 579.0,281.5 579.5,281.2 580.0,281.2 580.5,280.9 581.0,280.7 581.5,280.4 582.0,280.3 582.5,280.4 583.0,280.6 583.5,281.1 584.0,281.6 584.5,282.2 585.0,282.8 585.5,283.0 586.0,283.5 586.5,283.7 587.0,283.7 587.5,283.7 588.0,284.0 588.5,284.0 589.0,283.8 589.5,283.9 590.0,283.9 590.5,283.9 591.0,284.0 591.5,283.9 592.0,283.9 592.5,283.9 593.0,284.1 593.5,283.9 594.0,284.0 594.5,284.1 595.0,283.9 595.5,284.0 596.0,284.0 596.5,284.1 597.0,284.1 597.5,284.0 598.0,284.0 598.5,283.9 599.0,283.9 599.5,283.9 600.0,283.8 600.5,283.8 601.0,283.8 601.5,283.9 602.0,283.9 602.5,284.0 603.0,283.9 603.5,284.0 604.0,283.9 604.5,283.9 605.0,283.8 605.5,284.0 606.0,284.2 606.5,284.2 607.0,284.0 607.5,283.9 608.0,283.8 608.5,283.8 609.0,283.9 609.5,283.8 610.0,283.8 610.5,284.0 611.0,284.1 611.5,283.9 612.0,283.8 612.5,284.0 613.0,283.9 613.5,283.9 614.0,283.8 614.5,283.8 615.0,283.8 615.5,283.8 616.0,283.8 616.5,283.9 617.0,284.0 617.5,284.0 618.0,283.9 618.5,284.0 619.0,284.1 619.5,284.1 620.0,284.2 620.5,284.0 621.0,284.1 621.5,284.0 622.0,284.0 622.5,284.0 623.0,284.0 623.5,284.0 624.0,283.8 624.5,283.7 625.0,284.0 625.5,284.1 626.0,284.1 626.5,283.9 627.0,284.0 627.5,284.0 628.0,284.0 628.5,284.0 629.0,283.9 629.5,283.9 630.0,284.0 630.5,284.1 631.0,284.2 631.5,284.1 632.0,284.2 632.5,284.2 633.0,284.2 633.5,284.2 634.0,284.0 634.5,283.9 635.0,284.0 635.5,283.9 636.0,283.9" fill="none" stroke="#dc1e1e" stroke-width="1.9" stroke-linejoin="round"/>
<polyline points="63.0,425.3 63.5,425.6 64.0,425.7 64.5,425.5 65.0,425.5 65.5,425.5 66.0,425.6 66.5,425.7 67.0,425.4 67.5,425.2 68.0,425.5 68.5,425.5 69.0,425.6 69.5,425.3 70.0,425.3 70.5,425.5 71.0,425.4 71.5,425.7 72.0,425.8 72.5,425.4 73.0,425.2 73.5,425.3 74.0,425.6 74.5,425.5 75.0,425.4 75.5,425.4 76.0,425.2 76.5,425.1 77.0,425.2 77.5,425.3 78.0,425.3 78.5,425.2 79.0,425.2 79.5,425.3 80.0,425.2 80.5,425.1 81.0,425.4 81.5,425.4 82.0,425.5 82.5,425.2 83.0,425.4 83.5,425.4 84.0,424.9 84.5,424.7 85.0,424.8 85.5,424.9 86.0,425.1 86.5,425.0 87.0,425.2 87.5,425.4 88.0,425.3 88.5,425.4 89.0,425.7 89.5,425.8 90.0,425.7 90.5,425.7 91.0,425.3 91.5,425.3 92.0,425.5 92.5,425.5 93.0,425.3 93.5,425.4 94.0,425.5 94.5,425.6 95.0,425.5 95.5,425.5 96.0,425.5 96.5,425.6 97.0,425.6 97.5,425.5 98.0,425.5 98.5,425.2 99.0,425.1 99.5,425.4 100.0,425.7 100.5,425.7 101.0,425.5 101.5,425.3 102.0,425.4 102.5,425.7 103.0,425.8 103.5,425.7 104.0,425.8 104.5,425.5 105.0,425.5 105.5,425.8 106.0,425.7 106.5,425.6 107.0,425.4 107.5,425.5 108.0,425.7 108.5,425.4 109.0,425.6 109.5,425.7 110.0,425.8 110.5,425.8 111.0,425.9 111.5,425.7 112.0,425.7 112.5,425.6 113.0,425.3 113.5,425.6 114.0,425.6 114.5,425.4 115.0,425.4 115.5,425.4 116.0,425.4 116.5,425.3 117.0,425.4 117.5,425.5 118.0,425.6 118.5,425.5 119.0,425.2 119.5,425.2 120.0,425.1 120.5,425.3 121.0,425.6 121.5,425.7 122.0,425.8 122.5,425.8 123.0,425.5 123.5,425.7 124.0,425.7 124.5,425.3 125.0,424.9 125.5,424.7 126.0,424.9 126.5,424.6 127.0,424.3 127.5,424.4 128.0,424.3 128.5,424.2 129.0,424.3 129.5,424.6 130.0,424.7 130.5,424.8 131.0,425.2 131.5,425.3 132.0,425.3 132.5,425.3 133.0,425.1 133.5,425.2 134.0,425.2 134.5,425.1 135.0,424.9 135.5,425.1 136.0,425.0 136.5,424.7 137.0,424.6 137.5,424.7 138.0,424.3 138.5,424.2 139.0,424.2 139.5,424.7 140.0,424.7 140.5,425.1 141.0,425.3 141.5,425.4 142.0,425.3 142.5,425.6 143.0,425.7 143.5,425.7 144.0,425.4 144.5,425.5 145.0,425.5 145.5,425.5 146.0,425.4 146.5,425.5 147.0,425.3 147.5,425.2 148.0,425.6 148.5,425.8 149.0,425.5 149.5,425.7 150.0,425.5 150.5,425.8 151.0,425.8 151.5,425.6 152.0,425.4 152.5,425.2 153.0,425.5 153.5,425.2 154.0,425.5 154.5,425.8 155.0,425.7 155.5,425.4 156.0,425.7 156.5,425.8 157.0,425.8 157.5,425.7 158.0,425.5 158.5,425.4 159.0,425.3 159.5,425.4 160.0,425.4 160.5,425.3 161.0,425.1 161.5,425.3 162.0,425.3 162.5,425.3 163.0,425.3 163.5,425.5 164.0,425.7 164.5,425.3 165.0,425.1 165.5,424.9 166.0,425.0 166.5,424.4 167.0,423.0 167.5,421.1 168.0,419.3 168.5,417.9 169.0,417.4 169.5,417.8 170.0,419.6 170.5,421.5 171.0,423.1 171.5,424.5 172.0,424.9 172.5,425.3 173.0,425.2 173.5,425.1 174.0,425.5 174.5,425.3 175.0,425.5 175.5,425.5 176.0,425.7 176.5,425.5 177.0,425.4 177.5,425.3 178.0,425.6 178.5,425.6 179.0,425.8 179.5,425.9 180.0,425.5 180.5,425.5 181.0,425.3 181.5,425.1 182.0,425.0 182.5,425.4 183.0,425.6 183.5,425.7 184.0,425.5 184.5,425.6 185.0,425.7 185.5,425.5 186.0,425.6 186.5,425.4 187.0,425.2 187.5,425.2 188.0,425.5 188.5,425.5 189.0,425.8 189.5,425.6 190.0,425.4 190.5,425.6 191.0,425.7 191.5,425.4 192.0,425.5 192.5,425.3 193.0,425.1 193.5,425.5 194.0,425.2 194.5,425.2 195.0,425.6 195.5,425.5 196.0,425.3 196.5,425.2 197.0,425.1 197.5,425.4 198.0,425.2 198.5,425.5 199.0,425.4 199.5,425.7 200.0,425.8 200.5,425.6 201.0,425.4 201.5,425.4 202.0,425.2 202.5,425.4 203.0,425.1 203.5,424.9 204.0,425.3 204.5,425.1 205.0,425.0 205.5,424.8 206.0,424.4 206.5,423.9 207.0,423.9 207.5,423.8 208.0,423.7 208.5,423.1 209.0,422.8 209.5,423.0 210.0,423.4 210.5,423.6 211.0,423.9 211.5,424.1 212.0,424.0 212.5,424.0 213.0,423.8 213.5,423.5 214.0,423.0 214.5,422.7 215.0,422.8 215.5,422.5 216.0,422.5 216.5,422.7 217.0,423.1 217.5,423.3 218.0,423.5 218.5,423.9 219.0,424.2 219.5,424.8 220.0,425.2 220.5,425.2 221.0,425.2 221.5,425.3 222.0,425.4 222.5,425.5 223.0,425.3 223.5,425.1 224.0,425.1 224.5,425.0 225.0,425.2 225.5,425.1 226.0,425.0 226.5,425.3 227.0,425.2 227.5,425.5 228.0,425.5 228.5,425.7 229.0,425.4 229.5,425.4 230.0,425.6 230.5,425.3 231.0,425.6 231.5,425.4 232.0,425.6 232.5,425.8 233.0,425.9 233.5,425.6 234.0,425.3 234.5,425.4 235.0,425.7 235.5,425.5 236.0,425.7 236.5,425.4 237.0,425.7 237.5,425.3 238.0,425.3 238.5,425.6 239.0,425.7 239.5,425.8 240.0,425.9 240.5,425.9 241.0,425.8 241.5,425.5 242.0,425.4 242.5,425.3 243.0,425.5 243.5,425.6 244.0,425.4 244.5,425.2 245.0,425.5 245.5,425.7 246.0,425.6 246.5,425.6 247.0,425.7 247.5,425.6 248.0,425.5 248.5,425.4 249.0,425.2 249.5,425.0 250.0,425.2 250.5,425.2 251.0,425.2 251.5,424.8 252.0,424.6 252.5,424.4 253.0,424.1 253.5,424.1 254.0,424.4 254.5,424.4 255.0,424.6 255.5,424.8 256.0,424.8 256.5,424.8 257.0,425.0 257.5,425.2 258.0,425.3 258.5,425.3 259.0,425.3 259.5,425.3 260.0,424.9 260.5,424.7 261.0,424.5 261.5,424.0 262.0,423.7 262.5,423.4 263.0,423.3 263.5,423.2 264.0,422.8 264.5,422.8 265.0,422.6 265.5,422.5 266.0,422.8 266.5,423.1 267.0,422.9 267.5,423.0 268.0,423.1 268.5,422.7 269.0,422.6 269.5,422.7 270.0,422.5 270.5,422.6 271.0,422.9 271.5,423.1 272.0,423.5 272.5,424.0 273.0,424.4 273.5,424.6 274.0,424.5 274.5,424.6 275.0,424.7 275.5,425.0 276.0,425.2 276.5,425.0 277.0,425.3 277.5,425.4 278.0,425.3 278.5,425.3 279.0,425.1 279.5,425.3 280.0,425.1 280.5,425.4 281.0,425.6 281.5,425.5 282.0,425.3 282.5,425.5 283.0,425.6 283.5,425.2 284.0,425.2 284.5,425.1 285.0,424.7 285.5,424.1 286.0,423.2 286.5,422.4 287.0,421.5 287.5,420.6 288.0,420.5 288.5,420.7 289.0,421.2 289.5,422.1 290.0,422.8 290.5,423.9 291.0,424.5 291.5,424.4 292.0,424.5 292.5,424.4 293.0,424.0 293.5,423.7 294.0,423.0 294.5,421.8 295.0,418.5 295.5,412.3 296.0,401.5 296.5,384.7 297.0,363.5 297.5,340.7 298.0,322.7 298.5,315.4 299.0,322.4 299.5,340.7 300.0,363.5 300.5,385.1 301.0,401.6 301.5,412.6 302.0,419.0 302.5,422.2 303.0,423.8 303.5,424.3 304.0,424.5 304.5,424.8 305.0,425.0 305.5,425.0 306.0,425.0 306.5,424.9 307.0,424.7 307.5,425.1 308.0,424.9 308.5,425.1 309.0,425.1 309.5,425.4 310.0,425.3 310.5,425.3 311.0,424.8 311.5,424.6 312.0,424.6 312.5,424.5 313.0,424.7 313.5,424.8 314.0,425.1 314.5,424.9 315.0,425.1 315.5,425.2 316.0,425.2 316.5,425.2 317.0,425.4 317.5,425.5 318.0,425.5 318.5,425.5 319.0,425.4 319.5,425.2 320.0,425.0 320.5,425.1 321.0,425.3 321.5,425.5 322.0,425.7 322.5,425.6 323.0,425.8 323.5,425.6 324.0,425.7 324.5,425.6 325.0,425.7 325.5,425.8 326.0,425.6 326.5,425.3 327.0,425.5 327.5,425.5 328.0,425.4 328.5,425.1 329.0,425.2 329.5,425.3 330.0,425.3 330.5,425.6 331.0,425.6 331.5,425.7 332.0,425.8 332.5,425.8 333.0,425.7 333.5,425.7 334.0,425.7 334.5,425.7 335.0,425.7 335.5,425.5 336.0,425.6 336.5,425.6 337.0,425.8 337.5,425.8 338.0,425.9 338.5,425.9 339.0,425.9 339.5,425.8 340.0,425.6 340.5,425.4 341.0,425.5 341.5,425.7 342.0,425.6 342.5,425.4 343.0,425.6 343.5,425.5 344.0,425.5 344.5,425.2 345.0,425.3 345.5,425.4 346.0,425.2 346.5,424.9 347.0,424.9 347.5,424.5 348.0,424.7 348.5,425.1 349.0,425.3 349.5,425.3 350.0,425.4 350.5,425.4 351.0,425.2 351.5,424.9 352.0,425.1 352.5,424.8 353.0,424.5 353.5,424.8 354.0,425.0 354.5,425.1 355.0,425.2 355.5,425.5 356.0,425.3 356.5,425.5 357.0,425.6 357.5,425.7 358.0,425.5 358.5,425.6 359.0,425.4 359.5,425.5 360.0,425.3 360.5,425.5 361.0,425.7 361.5,425.5 362.0,425.4 362.5,425.7 363.0,425.7 363.5,425.8 364.0,425.4 364.5,425.7 365.0,425.7 365.5,425.5 366.0,425.5 366.5,425.6 367.0,425.7 367.5,425.5 368.0,425.5 368.5,425.3 369.0,425.7 369.5,425.6 370.0,425.8 370.5,425.8 371.0,425.7 371.5,425.5 372.0,425.5 372.5,425.3 373.0,425.2 373.5,425.4 374.0,425.4 374.5,425.6 375.0,425.4 375.5,425.5 376.0,425.6 376.5,425.5 377.0,425.3 377.5,425.3 378.0,425.4 378.5,425.2 379.0,425.1 379.5,425.0 380.0,425.3 380.5,425.6 381.0,425.4 381.5,425.2 382.0,425.4 382.5,425.6 383.0,425.8 383.5,425.8 384.0,425.6 384.5,425.7 385.0,425.4 385.5,425.5 386.0,425.3 386.5,425.3 387.0,425.4 387.5,425.4 388.0,425.2 388.5,425.2 389.0,425.5 389.5,425.5 390.0,425.5 390.5,425.3 391.0,425.5 391.5,425.4 392.0,425.5 392.5,425.7 393.0,425.9 393.5,425.5 394.0,425.6 394.5,425.8 395.0,425.5 395.5,425.4 396.0,425.5 396.5,425.7 397.0,425.4 397.5,425.5 398.0,425.3 398.5,424.6 399.0,424.2 399.5,423.0 400.0,421.8 400.5,421.1 401.0,420.3 401.5,420.3 402.0,420.7 402.5,421.7 403.0,422.9 403.5,424.0 404.0,424.4 404.5,424.6 405.0,425.2 405.5,425.1 406.0,425.1 406.5,425.0 407.0,424.9 407.5,424.7 408.0,424.9 408.5,424.9 409.0,424.8 409.5,424.8 410.0,424.7 410.5,424.6 411.0,424.9 411.5,425.3 412.0,425.5 412.5,425.3 413.0,425.2 413.5,425.5 414.0,425.6 414.5,425.4 415.0,425.5 415.5,425.5 416.0,425.5 416.5,425.3 417.0,425.3 417.5,425.3 418.0,425.2 418.5,425.5 419.0,425.4 419.5,425.5 420.0,425.5 420.5,425.4 421.0,425.2 421.5,424.8 422.0,423.9 422.5,423.6 423.0,423.0 423.5,423.3 424.0,423.8 424.5,424.4 425.0,424.5 425.5,424.7 426.0,425.3 426.5,425.4 427.0,425.4 427.5,425.7 428.0,425.3 428.5,425.4 429.0,425.4 429.5,425.2 430.0,425.3 430.5,425.5 431.0,425.7 431.5,425.3 432.0,425.4 432.5,425.2 433.0,425.5 433.5,425.3 434.0,425.1 434.5,425.2 435.0,425.4 435.5,425.4 436.0,425.2 436.5,425.5 437.0,425.7 437.5,425.8 438.0,425.6 438.5,425.5 439.0,425.3 439.5,425.4 440.0,425.4 440.5,425.3 441.0,425.6 441.5,425.8 442.0,425.7 442.5,425.4 443.0,425.5 443.5,425.5 444.0,425.8 444.5,425.8 445.0,425.8 445.5,425.8 446.0,425.7 446.5,425.8 447.0,425.9 447.5,425.6 448.0,425.4 448.5,425.3 449.0,425.4 449.5,425.2 450.0,425.2 450.5,425.4 451.0,425.2 451.5,425.5 452.0,425.6 452.5,425.4 453.0,425.3 453.5,425.3 454.0,425.3 454.5,425.5 455.0,425.5 455.5,425.5 456.0,425.3 456.5,425.6 457.0,425.5 457.5,425.4 458.0,425.2 458.5,425.6 459.0,425.5 459.5,425.7 460.0,425.9 460.5,426.0 461.0,426.0 461.5,426.0 462.0,426.0 462.5,426.0 463.0,425.6 463.5,425.6 464.0,425.6 464.5,425.8 465.0,425.8 465.5,425.8 466.0,425.8 466.5,425.6 467.0,425.8 467.5,425.8 468.0,425.6 468.5,425.5 469.0,425.8 469.5,425.7 470.0,425.4 470.5,425.2 471.0,425.4 471.5,425.5 472.0,425.7 472.5,425.4 473.0,425.4 473.5,425.6 474.0,425.3 474.5,425.1 475.0,425.3 475.5,425.2 476.0,425.1 476.5,425.1 477.0,425.3 477.5,425.4 478.0,425.2 478.5,425.1 479.0,425.4 479.5,425.5 480.0,425.3 480.5,425.6 481.0,425.2 481.5,425.2 482.0,425.5 482.5,425.6 483.0,425.4 483.5,425.6 484.0,425.6 484.5,425.7 485.0,425.8 485.5,425.6 486.0,425.5 486.5,425.4 487.0,425.5 487.5,425.3 488.0,425.0 488.5,424.4 489.0,423.4 489.5,421.6 490.0,419.3 490.5,417.2 491.0,414.9 491.5,412.8 492.0,411.7 492.5,411.7 493.0,413.2 493.5,415.4 494.0,417.8 494.5,419.7 495.0,421.9 495.5,423.2 496.0,424.0 496.5,424.5 497.0,425.0 497.5,424.9 498.0,424.9 498.5,425.0 499.0,425.4 499.5,425.5 500.0,425.7 500.5,425.6 501.0,425.6 501.5,425.6 502.0,425.5 502.5,425.5 503.0,425.7 503.5,425.8 504.0,425.6 504.5,425.6 505.0,425.5 505.5,425.4 506.0,425.4 506.5,425.5 507.0,425.5 507.5,425.8 508.0,425.5 508.5,425.5 509.0,425.8 509.5,425.8 510.0,425.7 510.5,425.5 511.0,425.5 511.5,425.7 512.0,425.8 512.5,425.8 513.0,425.9 513.5,426.0 514.0,426.0 514.5,425.7 515.0,425.6 515.5,425.7 516.0,425.6 516.5,425.7 517.0,425.6 517.5,425.5 518.0,425.4 518.5,425.2 519.0,425.3 519.5,425.3 520.0,425.1 520.5,425.1 521.0,425.1 521.5,425.5 522.0,425.5 522.5,425.4 523.0,425.7 523.5,425.5 524.0,425.5 524.5,425.6 525.0,425.7 525.5,425.6 526.0,425.7 526.5,425.6 527.0,425.7 527.5,425.6 528.0,425.8 528.5,425.8 529.0,425.5 529.5,425.3 530.0,425.6 530.5,425.4 531.0,425.2 531.5,425.2 532.0,425.3 532.5,425.6 533.0,425.5 533.5,425.6 534.0,425.8 534.5,425.4 535.0,425.5 535.5,425.8 536.0,425.7 536.5,425.6 537.0,425.5 537.5,425.7 538.0,425.9 538.5,425.5 539.0,425.5 539.5,425.5 540.0,425.6 540.5,425.3 541.0,425.3 541.5,425.2 542.0,425.3 542.5,425.6 543.0,425.7 543.5,425.8 544.0,425.8 544.5,425.4 545.0,425.4 545.5,425.5 546.0,425.4 546.5,425.4 547.0,425.7 547.5,425.4 548.0,425.6 548.5,425.4 549.0,425.3 549.5,425.6 550.0,425.4 550.5,425.5 551.0,425.4 551.5,425.7 552.0,425.9 552.5,425.6 553.0,425.6 553.5,425.8 554.0,425.7 554.5,425.4 555.0,425.6 555.5,425.5 556.0,425.5 556.5,425.2 557.0,425.6 557.5,425.6 558.0,425.8 558.5,426.0 559.0,425.6 559.5,425.6 560.0,425.5 560.5,425.7 561.0,425.8 561.5,425.5 562.0,425.4 562.5,425.5 563.0,425.5 563.5,425.3 564.0,425.2 564.5,425.3 565.0,425.5 565.5,425.7 566.0,425.7 566.5,425.6 567.0,425.4 567.5,425.4 568.0,425.3 568.5,425.5 569.0,425.3 569.5,425.2 570.0,425.3 570.5,425.3 571.0,425.3 571.5,425.4 572.0,425.2 572.5,425.4 573.0,425.4 573.5,425.2 574.0,424.8 574.5,424.5 575.0,424.5 575.5,424.4 576.0,424.4 576.5,424.4 577.0,424.1 577.5,424.1 578.0,424.1 578.5,424.1 579.0,424.2 579.5,424.4 580.0,424.5 580.5,424.9 581.0,425.2 581.5,425.3 582.0,425.5 582.5,425.3 583.0,425.2 583.5,425.4 584.0,425.6 584.5,425.5 585.0,425.2 585.5,425.1 586.0,425.1 586.5,425.3 587.0,425.2 587.5,425.1 588.0,425.4 588.5,425.7 589.0,425.5 589.5,425.6 590.0,425.5 590.5,425.3 591.0,425.3 591.5,425.2 592.0,425.1 592.5,425.4 593.0,425.6 593.5,425.3 594.0,425.1 594.5,425.4 595.0,425.2 595.5,425.2 596.0,425.2 596.5,425.1 597.0,425.0 597.5,425.0 598.0,425.1 598.5,425.5 599.0,425.6 599.5,425.4 600.0,425.5 600.5,425.4 601.0,425.4 601.5,425.4 602.0,425.7 602.5,425.5 603.0,425.7 603.5,425.7 604.0,425.8 604.5,425.7 605.0,425.9 605.5,425.7 606.0,425.7 606.5,425.7 607.0,425.6 607.5,425.6 608.0,425.6 608.5,425.5 609.0,425.7 609.5,425.7 610.0,425.6 610.5,425.3 611.0,425.4 611.5,425.3 612.0,425.2 612.5,425.3 613.0,425.4 613.5,425.3 614.0,425.2 614.5,425.4 615.0,425.4 615.5,425.4 616.0,425.2 616.5,425.3 617.0,425.4 617.5,425.5 618.0,425.5 618.5,425.7 619.0,425.7 619.5,425.8 620.0,425.4 620.5,425.3 621.0,425.5 621.5,425.3 622.0,425.6 622.5,425.4 623.0,425.6 623.5,425.4 624.0,425.6 624.5,425.8 625.0,425.6 625.5,425.8 626.0,425.5 626.5,425.7 627.0,425.5 627.5,425.5 628.0,425.3 628.5,425.4 629.0,425.3 629.5,425.5 630.0,425.7 630.5,425.7 631.0,425.3 631.5,425.6 632.0,425.8 632.5,425.8 633.0,425.6 633.5,425.6 634.0,425.8 634.5,425.6 635.0,425.7 635.5,425.7 636.0,425.6" fill="none" stroke="#111111" stroke-width="1.9" stroke-linejoin="round"/>
<polyline points="61.5,669.2 62.0,669.3 62.5,669.2 63.0,669.0 63.5,668.7 64.0,668.9 64.5,668.9 65.0,669.1 65.5,669.0 66.0,669.1 66.5,669.0 67.0,669.1 67.5,669.2 68.0,669.1 68.5,669.1 69.0,669.1 69.5,668.9 70.0,669.0 70.5,669.2 71.0,669.0 71.5,669.1 72.0,669.2 72.5,669.3 73.0,669.1 73.5,668.8 74.0,669.1 74.5,669.2 75.0,669.1 75.5,668.8 76.0,668.7 76.5,668.9 77.0,668.8 77.5,669.1 78.0,669.1 78.5,668.9 79.0,669.0 79.5,668.9 80.0,669.2 80.5,669.4 81.0,669.2 81.5,669.2 82.0,669.2 82.5,669.3 83.0,669.5 83.5,669.0 84.0,668.9 84.5,669.0 85.0,668.9 85.5,669.0 86.0,668.8 86.5,669.1 87.0,669.1 87.5,668.8 88.0,669.0 88.5,668.9 89.0,668.8 89.5,668.8 90.0,668.7 90.5,668.7 91.0,669.0 91.5,669.1 92.0,668.8 92.5,669.0 93.0,668.7 93.5,668.8 94.0,669.1 94.5,669.1 95.0,669.0 95.5,668.9 96.0,668.9 96.5,668.7 97.0,669.1 97.5,668.8 98.0,668.8 98.5,669.0 99.0,669.0 99.5,669.2 100.0,669.0 100.5,669.3 101.0,669.4 101.5,669.3 102.0,669.4 102.5,669.2 103.0,669.3 103.5,669.3 104.0,669.2 104.5,669.1 105.0,669.2 105.5,669.0 106.0,668.8 106.5,669.0 107.0,668.9 107.5,668.9 108.0,669.1 108.5,668.8 109.0,668.6 109.5,668.5 110.0,668.7 110.5,668.6 111.0,668.4 111.5,668.3 112.0,668.4 112.5,667.9 113.0,667.5 113.5,667.4 114.0,667.2 114.5,667.0 115.0,667.1 115.5,667.3 116.0,667.5 116.5,667.9 117.0,668.1 117.5,668.6 118.0,668.6 118.5,668.8 119.0,669.1 119.5,669.1 120.0,668.8 120.5,668.5 121.0,668.2 121.5,667.9 122.0,667.9 122.5,668.3 123.0,668.7 123.5,668.6 124.0,668.5 124.5,668.7 125.0,668.6 125.5,668.5 126.0,668.8 126.5,668.7 127.0,668.9 127.5,668.9 128.0,669.2 128.5,669.3 129.0,668.9 129.5,668.8 130.0,669.1 130.5,669.1 131.0,669.0 131.5,669.2 132.0,669.3 132.5,669.2 133.0,669.1 133.5,668.8 134.0,668.8 134.5,668.7 135.0,668.9 135.5,669.0 136.0,668.8 136.5,668.9 137.0,668.7 137.5,668.6 138.0,668.8 138.5,668.9 139.0,669.1 139.5,669.2 140.0,669.2 140.5,668.9 141.0,669.1 141.5,668.8 142.0,669.0 142.5,669.2 143.0,669.3 143.5,669.4 144.0,669.2 144.5,669.2 145.0,669.3 145.5,669.0 146.0,669.2 146.5,669.4 147.0,669.2 147.5,669.3 148.0,669.1 148.5,668.9 149.0,669.1 149.5,668.8 150.0,669.0 150.5,669.3 151.0,669.0 151.5,669.3 152.0,668.9 152.5,669.1 153.0,668.9 153.5,669.2 154.0,669.1 154.5,669.3 155.0,668.9 155.5,668.7 156.0,669.0 156.5,669.0 157.0,669.0 157.5,668.7 158.0,668.6 158.5,668.7 159.0,668.5 159.5,669.0 160.0,669.1 160.5,669.3 161.0,669.2 161.5,669.0 162.0,668.6 162.5,668.7 163.0,668.3 163.5,667.9 164.0,666.8 164.5,665.0 165.0,662.2 165.5,659.1 166.0,656.8 166.5,655.6 167.0,656.8 167.5,659.2 168.0,662.2 168.5,664.7 169.0,666.7 169.5,667.8 170.0,668.2 170.5,668.4 171.0,668.7 171.5,669.0 172.0,668.9 172.5,668.7 173.0,668.7 173.5,668.7 174.0,668.8 174.5,669.0 175.0,669.0 175.5,668.8 176.0,668.8 176.5,668.8 177.0,668.8 177.5,668.8 178.0,669.2 178.5,669.1 179.0,669.1 179.5,669.2 180.0,669.2 180.5,669.3 181.0,669.1 181.5,669.1 182.0,669.3 182.5,669.0 183.0,669.1 183.5,669.0 184.0,668.7 184.5,668.6 185.0,668.9 185.5,668.7 186.0,668.9 186.5,668.7 187.0,668.7 187.5,668.6 188.0,668.8 188.5,669.0 189.0,668.8 189.5,668.9 190.0,669.2 190.5,669.0 191.0,669.0 191.5,669.1 192.0,669.2 192.5,668.9 193.0,669.0 193.5,668.8 194.0,668.6 194.5,669.0 195.0,668.8 195.5,669.1 196.0,669.2 196.5,669.2 197.0,669.2 197.5,669.2 198.0,669.0 198.5,668.9 199.0,668.8 199.5,669.0 200.0,669.1 200.5,669.2 201.0,668.9 201.5,668.9 202.0,668.7 202.5,668.7 203.0,668.6 203.5,668.5 204.0,668.1 204.5,667.6 205.0,667.2 205.5,666.5 206.0,666.4 206.5,666.2 207.0,666.4 207.5,666.6 208.0,667.2 208.5,667.1 209.0,667.3 209.5,667.1 210.0,666.1 210.5,665.1 211.0,663.4 211.5,661.7 212.0,660.1 212.5,659.0 213.0,658.4 213.5,659.0 214.0,659.7 214.5,661.2 215.0,662.7 215.5,664.1 216.0,665.5 216.5,666.5 217.0,667.6 217.5,668.1 218.0,668.5 218.5,668.7 219.0,668.8 219.5,668.8 220.0,668.7 220.5,668.6 221.0,668.9 221.5,668.7 222.0,668.8 222.5,669.0 223.0,669.0 223.5,669.2 224.0,669.3 224.5,669.1 225.0,668.8 225.5,668.9 226.0,668.9 226.5,669.1 227.0,669.0 227.5,669.0 228.0,669.1 228.5,668.9 229.0,668.9 229.5,668.8 230.0,668.3 230.5,668.4 231.0,668.3 231.5,668.3 232.0,668.1 232.5,668.0 233.0,668.0 233.5,668.2 234.0,668.6 234.5,668.6 235.0,668.4 235.5,668.5 236.0,668.4 236.5,668.6 237.0,668.9 237.5,669.1 238.0,668.7 238.5,668.6 239.0,668.3 239.5,668.5 240.0,668.5 240.5,668.1 241.0,668.0 241.5,667.5 242.0,667.1 242.5,666.6 243.0,665.9 243.5,665.8 244.0,665.5 244.5,665.1 245.0,665.0 245.5,664.9 246.0,664.9 246.5,664.5 247.0,664.2 247.5,663.9 248.0,663.8 248.5,663.4 249.0,662.6 249.5,662.1 250.0,661.4 250.5,661.4 251.0,661.6 251.5,661.7 252.0,662.7 252.5,663.5 253.0,664.0 253.5,664.6 254.0,664.8 254.5,665.1 255.0,665.0 255.5,664.0 256.0,662.9 256.5,661.9 257.0,661.1 257.5,660.3 258.0,659.8 258.5,659.5 259.0,660.1 259.5,660.9 260.0,662.0 260.5,662.8 261.0,663.4 261.5,663.7 262.0,663.0 262.5,662.0 263.0,659.9 263.5,657.4 264.0,655.3 264.5,652.8 265.0,651.4 265.5,650.4 266.0,650.3 266.5,651.4 267.0,653.6 267.5,655.9 268.0,658.6 268.5,660.8 269.0,663.3 269.5,664.9 270.0,666.4 270.5,667.0 271.0,667.8 271.5,668.1 272.0,668.3 272.5,668.2 273.0,668.4 273.5,668.7 274.0,668.5 274.5,668.6 275.0,668.4 275.5,668.8 276.0,669.0 276.5,669.0 277.0,668.9 277.5,668.6 278.0,668.4 278.5,668.7 279.0,668.9 279.5,669.1 280.0,669.1 280.5,668.9 281.0,668.6 281.5,668.4 282.0,668.0 282.5,667.3 283.0,666.3 283.5,664.7 284.0,663.3 284.5,662.2 285.0,661.7 285.5,662.8 286.0,664.3 286.5,665.9 287.0,666.7 287.5,667.8 288.0,668.1 288.5,668.2 289.0,668.0 289.5,667.8 290.0,667.5 290.5,667.3 291.0,667.0 291.5,666.0 292.0,663.7 292.5,659.1 293.0,649.6 293.5,633.7 294.0,611.3 294.5,587.3 295.0,568.7 295.5,563.4 296.0,574.9 296.5,596.6 297.0,620.6 297.5,640.5 298.0,654.3 298.5,661.6 299.0,665.2 299.5,666.9 300.0,667.5 300.5,668.0 301.0,667.9 301.5,668.1 302.0,668.3 302.5,668.5 303.0,668.6 303.5,668.5 304.0,668.6 304.5,668.9 305.0,668.8 305.5,668.9 306.0,669.0 306.5,668.8 307.0,668.7 307.5,669.0 308.0,668.8 308.5,668.8 309.0,668.7 309.5,669.1 310.0,669.0 310.5,669.2 311.0,668.9 311.5,668.8 312.0,668.9 312.5,668.8 313.0,668.9 313.5,668.9 314.0,668.7 314.5,668.6 315.0,668.7 315.5,668.8 316.0,668.7 316.5,668.6 317.0,668.5 317.5,668.5 318.0,668.6 318.5,668.7 319.0,668.8 319.5,669.1 320.0,669.1 320.5,669.2 321.0,669.0 321.5,669.0 322.0,669.1 322.5,669.3 323.0,669.0 323.5,668.7 324.0,668.6 324.5,668.7 325.0,669.0 325.5,668.8 326.0,669.0 326.5,669.1 327.0,669.2 327.5,669.4 328.0,669.0 328.5,669.1 329.0,668.9 329.5,668.7 330.0,668.7 330.5,668.8 331.0,668.6 331.5,668.6 332.0,668.6 332.5,668.5 333.0,668.5 333.5,668.4 334.0,668.5 334.5,668.6 335.0,668.7 335.5,668.9 336.0,669.0 336.5,669.0 337.0,668.9 337.5,669.0 338.0,668.8 338.5,668.7 339.0,668.6 339.5,668.8 340.0,668.7 340.5,668.7 341.0,668.7 341.5,668.8 342.0,669.0 342.5,669.0 343.0,669.1 343.5,668.9 344.0,669.1 344.5,669.2 345.0,669.1 345.5,669.0 346.0,669.0 346.5,668.8 347.0,668.9 347.5,669.2 348.0,669.0 348.5,669.0 349.0,668.9 349.5,669.1 350.0,669.0 350.5,668.9 351.0,669.1 351.5,669.0 352.0,669.2 352.5,669.1 353.0,669.1 353.5,668.9 354.0,669.0 354.5,669.0 355.0,668.8 355.5,669.1 356.0,668.8 356.5,668.9 357.0,669.1 357.5,669.0 358.0,668.9 358.5,668.9 359.0,669.2 359.5,668.9 360.0,669.1 360.5,669.1 361.0,669.1 361.5,669.1 362.0,669.1 362.5,669.3 363.0,669.4 363.5,669.3 364.0,669.1 364.5,669.0 365.0,669.2 365.5,669.1 366.0,668.8 366.5,668.9 367.0,668.7 367.5,668.8 368.0,668.9 368.5,669.0 369.0,669.0 369.5,669.2 370.0,669.2 370.5,669.4 371.0,669.4 371.5,669.1 372.0,669.2 372.5,669.0 373.0,669.3 373.5,669.2 374.0,669.1 374.5,668.9 375.0,669.1 375.5,669.0 376.0,668.7 376.5,669.0 377.0,668.7 377.5,668.6 378.0,668.5 378.5,668.8 379.0,668.9 379.5,668.9 380.0,669.2 380.5,669.1 381.0,668.9 381.5,669.2 382.0,668.9 382.5,668.7 383.0,668.6 383.5,669.0 384.0,669.0 384.5,668.9 385.0,668.9 385.5,668.8 386.0,669.0 386.5,669.1 387.0,668.9 387.5,668.8 388.0,669.0 388.5,669.0 389.0,669.0 389.5,668.8 390.0,669.1 390.5,669.1 391.0,669.3 391.5,669.2 392.0,669.2 392.5,668.8 393.0,669.1 393.5,669.2 394.0,668.8 394.5,668.5 395.0,668.6 395.5,668.3 396.0,667.4 396.5,666.7 397.0,665.1 397.5,663.8 398.0,663.0 398.5,663.1 399.0,664.1 399.5,665.4 400.0,666.9 400.5,668.0 401.0,668.2 401.5,668.5 402.0,668.7 402.5,668.7 403.0,668.9 403.5,668.6 404.0,668.5 404.5,668.7 405.0,668.7 405.5,668.6 406.0,668.7 406.5,668.9 407.0,669.0 407.5,669.0 408.0,669.0 408.5,669.0 409.0,669.2 409.5,669.3 410.0,669.4 410.5,669.5 411.0,669.4 411.5,669.0 412.0,669.1 412.5,668.9 413.0,668.8 413.5,668.8 414.0,668.6 414.5,668.7 415.0,668.6 415.5,668.6 416.0,668.7 416.5,668.9 417.0,669.0 417.5,668.8 418.0,668.8 418.5,668.4 419.0,667.8 419.5,667.1 420.0,666.4 420.5,665.8 421.0,666.1 421.5,666.5 422.0,667.2 422.5,667.9 423.0,668.4 423.5,668.7 424.0,668.6 424.5,668.5 425.0,668.7 425.5,668.8 426.0,668.6 426.5,668.6 427.0,668.6 427.5,669.0 428.0,669.2 428.5,668.8 429.0,668.8 429.5,668.7 430.0,668.5 430.5,668.4 431.0,668.6 431.5,668.6 432.0,668.0 432.5,667.8 433.0,667.2 433.5,667.1 434.0,666.8 434.5,667.0 435.0,667.3 435.5,667.9 436.0,668.2 436.5,668.7 437.0,668.6 437.5,668.8 438.0,668.7 438.5,668.6 439.0,669.0 439.5,668.7 440.0,668.7 440.5,668.7 441.0,668.6 441.5,668.9 442.0,669.0 442.5,668.9 443.0,668.8 443.5,668.9 444.0,668.4 444.5,668.4 445.0,668.3 445.5,668.1 446.0,667.7 446.5,667.3 447.0,666.9 447.5,666.7 448.0,666.7 448.5,666.8 449.0,667.3 449.5,667.3 450.0,667.5 450.5,668.1 451.0,668.3 451.5,668.3 452.0,668.7 452.5,668.5 453.0,668.6 453.5,668.7 454.0,668.8 454.5,668.7 455.0,669.1 455.5,669.1 456.0,668.9 456.5,669.0 457.0,668.9 457.5,669.0 458.0,669.0 458.5,668.9 459.0,669.1 459.5,668.8 460.0,669.1 460.5,669.0 461.0,669.0 461.5,668.8 462.0,668.9 462.5,668.8 463.0,668.9 463.5,669.1 464.0,668.8 464.5,668.6 465.0,669.0 465.5,668.8 466.0,669.0 466.5,669.1 467.0,669.2 467.5,668.8 468.0,669.0 468.5,669.2 469.0,668.8 469.5,668.6 470.0,669.0 470.5,669.1 471.0,669.1 471.5,669.2 472.0,669.2 472.5,668.9 473.0,668.7 473.5,668.6 474.0,668.8 474.5,669.0 475.0,669.2 475.5,669.0 476.0,668.8 476.5,668.8 477.0,669.1 477.5,668.9 478.0,669.1 478.5,669.1 479.0,669.2 479.5,668.8 480.0,669.0 480.5,668.9 481.0,669.0 481.5,668.7 482.0,668.6 482.5,668.7 483.0,668.6 483.5,668.6 484.0,668.3 484.5,668.1 485.0,667.9 485.5,667.1 486.0,666.2 486.5,664.2 487.0,661.6 487.5,658.7 488.0,655.7 488.5,652.9 489.0,651.5 489.5,651.1 490.0,652.5 490.5,655.3 491.0,658.1 491.5,661.0 492.0,663.7 492.5,665.8 493.0,667.3 493.5,668.2 494.0,668.7 494.5,668.5 495.0,668.9 495.5,668.7 496.0,668.5 496.5,668.7 497.0,668.5 497.5,668.4 498.0,668.4 498.5,668.9 499.0,668.8 499.5,669.0 500.0,669.2 500.5,669.0 501.0,668.7 501.5,668.7 502.0,668.9 502.5,669.0 503.0,668.9 503.5,669.1 504.0,668.8 504.5,668.6 505.0,668.7 505.5,668.9 506.0,669.1 506.5,669.3 507.0,669.4 507.5,669.5 508.0,669.3 508.5,669.2 509.0,668.8 509.5,668.9 510.0,669.2 510.5,669.3 511.0,669.1 511.5,669.1 512.0,669.2 512.5,669.4 513.0,669.4 513.5,669.3 514.0,669.4 514.5,669.5 515.0,669.0 515.5,669.3 516.0,669.0 516.5,668.7 517.0,668.7 517.5,668.6 518.0,668.5 518.5,668.8 519.0,668.8 519.5,668.7 520.0,668.9 520.5,668.7 521.0,668.7 521.5,668.6 522.0,668.4 522.5,668.4 523.0,668.0 523.5,668.1 524.0,668.0 524.5,668.1 525.0,668.3 525.5,668.8 526.0,668.7 526.5,668.8 527.0,668.8 527.5,668.6 528.0,668.5 528.5,668.8 529.0,669.1 529.5,668.9 530.0,668.9 530.5,669.1 531.0,668.8 531.5,668.8 532.0,669.0 532.5,668.8 533.0,668.8 533.5,668.9 534.0,668.8 534.5,668.7 535.0,668.5 535.5,669.0 536.0,669.2 536.5,669.0 537.0,668.8 537.5,668.9 538.0,668.9 538.5,669.2 539.0,669.0 539.5,668.8 540.0,669.1 540.5,668.8 541.0,668.8 541.5,668.7 542.0,669.0 542.5,669.3 543.0,669.1 543.5,669.1 544.0,669.2 544.5,669.1 545.0,669.2 545.5,669.0 546.0,669.1 546.5,668.9 547.0,668.7 547.5,668.6 548.0,668.6 548.5,669.0 549.0,668.9 549.5,669.0 550.0,668.7 550.5,669.0 551.0,669.1 551.5,669.2 552.0,669.4 552.5,668.9 553.0,669.1 553.5,668.8 554.0,669.1 554.5,668.8 555.0,668.8 555.5,668.9 556.0,668.9 556.5,669.1 557.0,668.8 557.5,669.1 558.0,668.8 558.5,669.1 559.0,669.2 559.5,668.8 560.0,668.6 560.5,668.5 561.0,668.4 561.5,668.4 562.0,668.4 562.5,668.5 563.0,668.5 563.5,668.3 564.0,668.5 564.5,668.3 565.0,668.0 565.5,668.0 566.0,667.7 566.5,667.6 567.0,667.5 567.5,667.1 568.0,667.2 568.5,667.2 569.0,666.9 569.5,667.0 570.0,667.3 570.5,667.5 571.0,667.6 571.5,667.7 572.0,667.6 572.5,667.5 573.0,666.8 573.5,666.6 574.0,666.2 574.5,665.6 575.0,664.8 575.5,664.4 576.0,664.3 576.5,664.3 577.0,664.1 577.5,664.1 578.0,664.7 578.5,665.0 579.0,665.7 579.5,666.2 580.0,666.6 580.5,667.5 581.0,667.9 581.5,668.0 582.0,668.3 582.5,668.4 583.0,668.6 583.5,668.9 584.0,669.1 584.5,668.8 585.0,668.6 585.5,669.0 586.0,668.7 586.5,669.0 587.0,669.1 587.5,669.1 588.0,669.1 588.5,669.0 589.0,669.2 589.5,669.3 590.0,669.1 590.5,668.9 591.0,668.9 591.5,668.8 592.0,668.9 592.5,669.2 593.0,669.0 593.5,669.2 594.0,669.0 594.5,668.9 595.0,669.1 595.5,669.1 596.0,669.3 596.5,669.2 597.0,669.0 597.5,669.2 598.0,669.0 598.5,668.7 599.0,668.7 599.5,669.1 600.0,668.8 600.5,669.1 601.0,669.1 601.5,669.2 602.0,669.2 602.5,668.9 603.0,668.9 603.5,669.2 604.0,669.3 604.5,669.1 605.0,669.1 605.5,669.0 606.0,668.9 606.5,668.9 607.0,668.8 607.5,669.1 608.0,668.8 608.5,668.7 609.0,668.9 609.5,669.1 610.0,669.2 610.5,668.9 611.0,668.9 611.5,669.2 612.0,669.3 612.5,669.0 613.0,669.2 613.5,669.4 614.0,668.9 614.5,669.0 615.0,668.7 615.5,668.3 616.0,668.3 616.5,668.5 617.0,668.4 617.5,668.0 618.0,668.2 618.5,668.0 619.0,668.2 619.5,668.2 620.0,668.4 620.5,668.5 621.0,668.7 621.5,668.8 622.0,669.1 622.5,669.0 623.0,669.2 623.5,669.1 624.0,668.8 624.5,669.0 625.0,669.2 625.5,669.1 626.0,669.0 626.5,669.1 627.0,668.9 627.5,668.8 628.0,668.9 628.5,668.7 629.0,668.8 629.5,668.8 630.0,668.9 630.5,668.9 631.0,669.0 631.5,669.1 632.0,669.3 632.5,669.1 633.0,669.2 633.5,669.0 634.0,668.8" fill="none" stroke="#a9c262" stroke-width="1.9" stroke-linejoin="round"/>
<polyline points="61.5,811.7 62.0,811.8 62.5,812.0 63.0,812.2 63.5,812.1 64.0,812.3 64.5,811.6 65.0,811.6 65.5,811.9 66.0,811.9 66.5,812.1 67.0,811.6 67.5,811.6 68.0,811.4 68.5,811.5 69.0,811.6 69.5,811.2 70.0,811.1 70.5,811.1 71.0,811.7 71.5,811.8 72.0,811.5 72.5,811.8 73.0,811.4 73.5,811.6 74.0,811.3 74.5,811.0 75.0,811.5 75.5,811.3 76.0,811.2 76.5,811.8 77.0,812.0 77.5,811.7 78.0,812.0 78.5,811.9 79.0,811.9 79.5,811.5 80.0,811.9 80.5,811.9 81.0,812.2 81.5,812.3 82.0,811.8 82.5,811.6 83.0,811.3 83.5,811.2 84.0,811.0 84.5,811.1 85.0,811.4 85.5,811.1 86.0,811.4 86.5,811.4 87.0,811.3 87.5,811.7 88.0,811.6 88.5,811.5 89.0,811.5 89.5,811.7 90.0,811.3 90.5,811.8 91.0,811.3 91.5,811.6 92.0,811.9 92.5,811.4 93.0,811.7 93.5,811.6 94.0,811.6 94.5,811.2 95.0,811.0 95.5,811.0 96.0,811.6 96.5,811.3 97.0,811.7 97.5,812.0 98.0,812.2 98.5,811.8 99.0,811.6 99.5,811.6 100.0,811.8 100.5,811.4 101.0,811.7 101.5,811.9 102.0,812.1 102.5,811.5 103.0,811.9 103.5,811.4 104.0,811.4 104.5,811.5 105.0,811.9 105.5,811.6 106.0,812.0 106.5,811.8 107.0,811.6 107.5,811.4 108.0,811.2 108.5,811.0 109.0,810.9 109.5,811.3 110.0,811.8 110.5,811.3 111.0,810.9 111.5,811.2 112.0,810.9 112.5,810.2 113.0,809.5 113.5,809.1 114.0,808.9 114.5,808.7 115.0,808.8 115.5,809.0 116.0,810.0 116.5,810.1 117.0,810.7 117.5,811.3 118.0,811.0 118.5,811.2 119.0,811.4 119.5,811.0 120.0,810.8 120.5,810.1 121.0,810.0 121.5,810.0 122.0,810.7 122.5,810.8 123.0,811.1 123.5,811.7 124.0,812.0 124.5,812.2 125.0,811.9 125.5,811.8 126.0,811.9 126.5,811.7 127.0,811.5 127.5,811.5 128.0,811.2 128.5,811.3 129.0,811.8 129.5,812.1 130.0,812.0 130.5,811.8 131.0,811.6 131.5,811.3 132.0,811.2 132.5,811.6 133.0,811.9 133.5,811.7 134.0,811.9 134.5,812.0 135.0,812.0 135.5,811.9 136.0,812.0 136.5,811.7 137.0,811.8 137.5,811.6 138.0,811.6 138.5,811.8 139.0,811.9 139.5,811.6 140.0,811.9 140.5,811.9 141.0,811.9 141.5,811.4 142.0,811.5 142.5,811.3 143.0,811.6 143.5,811.5 144.0,811.8 144.5,811.8 145.0,812.0 145.5,811.7 146.0,811.8 146.5,811.9 147.0,812.0 147.5,811.7 148.0,811.9 148.5,812.1 149.0,812.0 149.5,812.2 150.0,812.3 150.5,812.0 151.0,811.9 151.5,811.5 152.0,811.8 152.5,812.1 153.0,811.8 153.5,811.9 154.0,811.9 154.5,812.0 155.0,811.5 155.5,811.8 156.0,811.8 156.5,811.8 157.0,811.6 157.5,811.7 158.0,811.9 158.5,811.8 159.0,811.9 159.5,811.4 160.0,811.2 160.5,811.2 161.0,811.5 161.5,811.2 162.0,811.4 162.5,811.5 163.0,810.9 163.5,810.5 164.0,809.5 164.5,807.8 165.0,805.6 165.5,803.3 166.0,801.1 166.5,800.3 167.0,801.0 167.5,803.3 168.0,805.9 168.5,808.2 169.0,809.9 169.5,810.5 170.0,811.4 170.5,811.1 171.0,811.2 171.5,811.1 172.0,811.2 172.5,811.0 173.0,811.5 173.5,811.4 174.0,811.1 174.5,811.4 175.0,811.1 175.5,811.3 176.0,811.3 176.5,811.5 177.0,811.9 177.5,812.0 178.0,811.8 178.5,811.9 179.0,811.9 179.5,811.7 180.0,811.3 180.5,811.5 181.0,811.6 181.5,811.9 182.0,812.2 182.5,812.0 183.0,811.7 183.5,812.0 184.0,811.4 184.5,811.2 185.0,811.4 185.5,811.5 186.0,811.3 186.5,811.5 187.0,811.8 187.5,811.6 188.0,811.5 188.5,811.3 189.0,811.2 189.5,811.7 190.0,811.6 190.5,811.9 191.0,812.1 191.5,811.9 192.0,811.6 192.5,811.9 193.0,811.8 193.5,811.6 194.0,811.4 194.5,811.8 195.0,811.7 195.5,811.4 196.0,811.4 196.5,811.2 197.0,811.4 197.5,811.4 198.0,811.2 198.5,811.5 199.0,811.7 199.5,811.1 200.0,811.2 200.5,810.9 201.0,811.1 201.5,810.9 202.0,810.1 202.5,809.2 203.0,808.1 203.5,807.6 204.0,806.2 204.5,805.1 205.0,804.0 205.5,803.4 206.0,803.0 206.5,803.2 207.0,803.2 207.5,804.1 208.0,804.5 208.5,805.1 209.0,805.2 209.5,804.9 210.0,804.4 210.5,803.5 211.0,802.4 211.5,801.6 212.0,801.0 212.5,800.4 213.0,800.6 213.5,801.6 214.0,803.4 214.5,805.1 215.0,806.4 215.5,807.3 216.0,808.7 216.5,809.5 217.0,810.2 217.5,810.8 218.0,811.2 218.5,811.2 219.0,811.6 219.5,811.4 220.0,811.3 220.5,811.6 221.0,811.3 221.5,811.1 222.0,811.4 222.5,810.9 223.0,811.1 223.5,811.0 224.0,810.5 224.5,809.7 225.0,809.2 225.5,808.6 226.0,807.0 226.5,805.8 227.0,804.7 227.5,803.8 228.0,803.1 228.5,802.7 229.0,803.2 229.5,804.3 230.0,804.9 230.5,806.0 231.0,807.6 231.5,808.8 232.0,809.7 232.5,809.9 233.0,810.7 233.5,811.3 234.0,811.8 234.5,811.8 235.0,811.3 235.5,811.7 236.0,811.4 236.5,811.5 237.0,811.9 237.5,811.9 238.0,811.4 238.5,811.3 239.0,811.7 239.5,811.3 240.0,811.5 240.5,811.4 241.0,811.2 241.5,811.4 242.0,811.1 242.5,810.9 243.0,811.1 243.5,810.9 244.0,810.8 244.5,811.1 245.0,811.4 245.5,811.7 246.0,811.2 246.5,811.0 247.0,810.7 247.5,810.6 248.0,810.3 248.5,810.3 249.0,809.8 249.5,809.2 250.0,809.5 250.5,809.4 251.0,809.9 251.5,810.3 252.0,811.0 252.5,811.2 253.0,811.3 253.5,811.2 254.0,811.3 254.5,811.1 255.0,811.2 255.5,811.1 256.0,810.5 256.5,810.0 257.0,809.6 257.5,809.4 258.0,808.4 258.5,808.0 259.0,807.5 259.5,806.5 260.0,806.5 260.5,806.1 261.0,806.1 261.5,806.9 262.0,807.3 262.5,808.3 263.0,808.7 263.5,808.7 264.0,809.0 264.5,808.1 265.0,807.6 265.5,806.1 266.0,804.5 266.5,803.5 267.0,802.0 267.5,800.4 268.0,799.3 268.5,799.6 269.0,800.2 269.5,801.4 270.0,802.4 270.5,804.2 271.0,805.7 271.5,807.0 272.0,808.2 272.5,809.4 273.0,809.9 273.5,810.4 274.0,810.5 274.5,811.1 275.0,811.3 275.5,811.5 276.0,811.4 276.5,811.6 277.0,811.5 277.5,811.5 278.0,811.4 278.5,811.5 279.0,811.2 279.5,810.6 280.0,810.0 280.5,809.2 281.0,807.8 281.5,806.4 282.0,803.7 282.5,800.8 283.0,797.4 283.5,795.7 284.0,795.9 284.5,797.4 285.0,800.0 285.5,803.1 286.0,805.5 286.5,807.5 287.0,808.8 287.5,809.7 288.0,810.1 288.5,810.7 289.0,810.4 289.5,810.2 290.0,810.0 290.5,809.7 291.0,809.2 291.5,808.0 292.0,805.4 292.5,799.1 293.0,788.1 293.5,769.5 294.0,745.4 294.5,720.2 295.0,702.8 295.5,700.9 296.0,716.0 296.5,739.9 297.0,765.2 297.5,784.9 298.0,798.0 298.5,805.1 299.0,808.1 299.5,809.3 300.0,809.6 300.5,809.9 301.0,810.0 301.5,810.3 302.0,811.0 302.5,811.0 303.0,810.9 303.5,811.0 304.0,810.9 304.5,811.3 305.0,811.5 305.5,811.1 306.0,811.0 306.5,811.3 307.0,811.7 307.5,811.7 308.0,811.5 308.5,811.9 309.0,811.3 309.5,811.0 310.0,811.4 310.5,811.4 311.0,811.0 311.5,811.3 312.0,811.7 312.5,811.7 313.0,811.5 313.5,811.2 314.0,811.0 314.5,811.5 315.0,811.5 315.5,811.9 316.0,811.4 316.5,811.2 317.0,811.0 317.5,811.1 318.0,810.9 318.5,811.0 319.0,811.1 319.5,811.1 320.0,810.9 320.5,810.8 321.0,811.5 321.5,811.3 322.0,811.4 322.5,811.4 323.0,811.5 323.5,811.2 324.0,811.2 324.5,811.0 325.0,811.3 325.5,811.7 326.0,811.7 326.5,811.9 327.0,811.6 327.5,811.2 328.0,811.4 328.5,811.4 329.0,811.5 329.5,811.5 330.0,811.6 330.5,811.8 331.0,812.0 331.5,811.7 332.0,811.6 332.5,811.8 333.0,811.5 333.5,811.2 334.0,811.2 334.5,811.0 335.0,811.5 335.5,811.8 336.0,811.5 336.5,811.3 337.0,811.0 337.5,811.1 338.0,810.9 338.5,811.1 339.0,811.4 339.5,811.2 340.0,811.0 340.5,811.4 341.0,811.1 341.5,811.1 342.0,811.1 342.5,811.2 343.0,811.0 343.5,811.2 344.0,811.2 344.5,811.5 345.0,811.6 345.5,811.9 346.0,811.9 346.5,812.0 347.0,811.9 347.5,811.7 348.0,811.9 348.5,811.9 349.0,812.1 349.5,812.1 350.0,812.1 350.5,811.7 351.0,811.9 351.5,811.7 352.0,811.3 352.5,811.1 353.0,811.0 353.5,811.1 354.0,811.4 354.5,811.3 355.0,811.1 355.5,811.5 356.0,811.6 356.5,811.2 357.0,811.0 357.5,810.9 358.0,811.1 358.5,811.6 359.0,811.9 359.5,811.9 360.0,811.5 360.5,811.5 361.0,811.4 361.5,811.3 362.0,811.0 362.5,811.3 363.0,811.7 363.5,811.8 364.0,811.4 364.5,811.5 365.0,811.2 365.5,811.5 366.0,811.5 366.5,811.9 367.0,812.0 367.5,811.5 368.0,811.3 368.5,811.7 369.0,811.5 369.5,811.2 370.0,810.9 370.5,810.7 371.0,810.4 371.5,809.6 372.0,809.2 372.5,808.4 373.0,807.6 373.5,807.8 374.0,808.0 374.5,808.2 375.0,809.4 375.5,809.6 376.0,810.3 376.5,810.8 377.0,811.4 377.5,811.4 378.0,811.3 378.5,811.2 379.0,811.1 379.5,811.3 380.0,811.3 380.5,811.6 381.0,811.4 381.5,811.3 382.0,811.2 382.5,811.7 383.0,811.9 383.5,812.1 384.0,812.0 384.5,811.7 385.0,811.4 385.5,811.7 386.0,811.6 386.5,811.2 387.0,811.1 387.5,811.0 388.0,811.4 388.5,811.8 389.0,811.4 389.5,811.7 390.0,811.5 390.5,811.7 391.0,811.9 391.5,811.9 392.0,812.0 392.5,811.7 393.0,811.2 393.5,811.3 394.0,811.4 394.5,811.0 395.0,810.6 395.5,809.9 396.0,808.6 396.5,807.3 397.0,805.9 397.5,805.0 398.0,805.2 398.5,806.0 399.0,807.8 399.5,809.4 400.0,810.7 400.5,811.3 401.0,811.6 401.5,811.7 402.0,811.9 402.5,811.6 403.0,811.7 403.5,811.8 404.0,811.7 404.5,811.5 405.0,811.2 405.5,811.0 406.0,811.1 406.5,811.3 407.0,811.6 407.5,811.8 408.0,811.5 408.5,811.9 409.0,811.6 409.5,811.7 410.0,811.3 410.5,811.6 411.0,811.7 411.5,812.0 412.0,812.1 412.5,812.1 413.0,812.1 413.5,812.1 414.0,811.9 414.5,811.5 415.0,811.5 415.5,811.8 416.0,811.3 416.5,811.5 417.0,811.1 417.5,810.3 418.0,809.0 418.5,807.9 419.0,806.6 419.5,805.9 420.0,805.8 420.5,806.3 421.0,807.0 421.5,807.9 422.0,808.7 422.5,809.9 423.0,810.6 423.5,811.2 424.0,811.3 424.5,811.7 425.0,811.4 425.5,811.3 426.0,811.2 426.5,811.4 427.0,811.8 427.5,811.4 428.0,811.5 428.5,811.6 429.0,811.2 429.5,810.7 430.0,810.6 430.5,810.6 431.0,810.4 431.5,809.9 432.0,809.2 432.5,808.7 433.0,808.6 433.5,809.1 434.0,809.2 434.5,809.5 435.0,810.2 435.5,811.0 436.0,810.9 436.5,810.8 437.0,810.8 437.5,811.2 438.0,811.4 438.5,811.2 439.0,811.1 439.5,811.3 440.0,811.5 440.5,811.7 441.0,811.8 441.5,811.3 442.0,811.3 442.5,811.6 443.0,811.8 443.5,811.3 444.0,811.3 444.5,811.0 445.0,810.9 445.5,810.0 446.0,809.7 446.5,809.5 447.0,809.0 447.5,808.4 448.0,808.2 448.5,808.3 449.0,808.4 449.5,808.8 450.0,809.5 450.5,809.7 451.0,810.5 451.5,811.0 452.0,811.5 452.5,811.7 453.0,811.8 453.5,812.1 454.0,812.2 454.5,812.1 455.0,812.2 455.5,811.6 456.0,811.3 456.5,811.1 457.0,811.0 457.5,811.1 458.0,811.3 458.5,811.5 459.0,811.7 459.5,811.3 460.0,811.4 460.5,811.5 461.0,811.4 461.5,811.2 462.0,811.4 462.5,811.4 463.0,811.6 463.5,811.6 464.0,811.9 464.5,812.2 465.0,811.6 465.5,811.8 466.0,811.9 466.5,811.6 467.0,811.3 467.5,811.4 468.0,811.3 468.5,811.6 469.0,811.9 469.5,811.7 470.0,811.5 470.5,811.5 471.0,811.7 471.5,811.9 472.0,811.8 472.5,811.5 473.0,811.4 473.5,811.7 474.0,811.7 474.5,811.3 475.0,811.3 475.5,811.2 476.0,811.5 476.5,811.1 477.0,811.1 477.5,811.0 478.0,811.2 478.5,811.7 479.0,811.6 479.5,811.5 480.0,811.8 480.5,811.3 481.0,811.3 481.5,811.6 482.0,811.1 482.5,811.4 483.0,811.1 483.5,810.6 484.0,810.2 484.5,809.7 485.0,808.6 485.5,807.1 486.0,804.4 486.5,801.5 487.0,798.9 487.5,796.0 488.0,794.1 488.5,793.3 489.0,794.3 489.5,797.2 490.0,800.3 490.5,803.3 491.0,805.6 491.5,807.7 492.0,809.5 492.5,810.3 493.0,810.9 493.5,811.5 494.0,811.6 494.5,811.7 495.0,811.2 495.5,810.9 496.0,811.4 496.5,811.4 497.0,811.7 497.5,811.9 498.0,812.1 498.5,811.8 499.0,812.1 499.5,812.1 500.0,812.2 500.5,811.6 501.0,811.8 501.5,811.6 502.0,812.0 502.5,812.2 503.0,811.7 503.5,811.6 504.0,811.3 504.5,811.3 505.0,811.0 505.5,810.9 506.0,810.3 506.5,809.8 507.0,809.8 507.5,809.6 508.0,809.9 508.5,810.8 509.0,811.4 509.5,811.2 510.0,811.0 510.5,811.5 511.0,811.9 511.5,811.9 512.0,811.5 512.5,811.3 513.0,811.7 513.5,812.0 514.0,811.5 514.5,811.3 515.0,811.3 515.5,811.2 516.0,811.6 516.5,811.5 517.0,811.7 517.5,811.4 518.0,811.5 518.5,811.9 519.0,811.9 519.5,811.4 520.0,811.0 520.5,811.2 521.0,810.8 521.5,810.4 522.0,810.0 522.5,809.7 523.0,809.9 523.5,809.8 524.0,810.2 524.5,810.4 525.0,810.9 525.5,811.4 526.0,811.2 526.5,811.4 527.0,811.6 527.5,811.2 528.0,811.6 528.5,811.5 529.0,811.5 529.5,811.6 530.0,811.9 530.5,811.4 531.0,811.5 531.5,811.1 532.0,811.2 532.5,811.2 533.0,811.0 533.5,811.1 534.0,811.2 534.5,811.5 535.0,811.9 535.5,811.6 536.0,811.6 536.5,811.8 537.0,812.0 537.5,812.1 538.0,812.2 538.5,811.6 539.0,811.0 539.5,811.1 540.0,810.5 540.5,810.5 541.0,810.8 541.5,811.0 542.0,811.1 542.5,811.6 543.0,811.5 543.5,811.6 544.0,811.9 544.5,811.5 545.0,811.4 545.5,811.5 546.0,811.6 546.5,811.3 547.0,811.4 547.5,811.1 548.0,811.0 548.5,811.1 549.0,811.0 549.5,811.6 550.0,811.4 550.5,811.3 551.0,811.6 551.5,811.8 552.0,811.5 552.5,811.8 553.0,811.8 553.5,811.6 554.0,811.7 554.5,811.5 555.0,811.3 555.5,811.7 556.0,811.6 556.5,811.9 557.0,811.5 557.5,811.3 558.0,811.0 558.5,811.4 559.0,811.6 559.5,811.2 560.0,811.0 560.5,811.5 561.0,811.5 561.5,811.8 562.0,811.4 562.5,811.5 563.0,811.2 563.5,811.6 564.0,811.7 564.5,811.7 565.0,811.4 565.5,811.8 566.0,811.4 566.5,811.1 567.0,811.4 567.5,811.1 568.0,810.9 568.5,811.1 569.0,811.2 569.5,811.4 570.0,811.2 570.5,810.4 571.0,810.1 571.5,810.0 572.0,809.2 572.5,809.2 573.0,809.0 573.5,809.1 574.0,809.2 574.5,810.1 575.0,810.5 575.5,811.2 576.0,811.3 576.5,811.2 577.0,811.1 577.5,811.1 578.0,811.7 578.5,811.4 579.0,811.1 579.5,811.2 580.0,811.0 580.5,811.2 581.0,811.4 581.5,811.6 582.0,811.3 582.5,811.2 583.0,811.3 583.5,811.6 584.0,811.5 584.5,811.6 585.0,811.9 585.5,811.5 586.0,811.4 586.5,811.4 587.0,811.5 587.5,811.9 588.0,811.8 588.5,811.8 589.0,811.6 589.5,811.8 590.0,811.8 590.5,811.4 591.0,810.8 591.5,810.5 592.0,810.3 592.5,810.7 593.0,810.6 593.5,810.9 594.0,811.3 594.5,811.8 595.0,811.4 595.5,811.7 596.0,811.5 596.5,811.2 597.0,811.5 597.5,811.8 598.0,811.8 598.5,811.3 599.0,811.8 599.5,811.6 600.0,811.7 600.5,811.9 601.0,811.6 601.5,811.5 602.0,811.4 602.5,811.2 603.0,811.0 603.5,811.4 604.0,811.4 604.5,811.8 605.0,811.4 605.5,811.3 606.0,811.2 606.5,811.7 607.0,811.9 607.5,812.1 608.0,811.9 608.5,811.5 609.0,811.4 609.5,811.3 610.0,811.0 610.5,811.3 611.0,811.3 611.5,811.1 612.0,811.3 612.5,811.8 613.0,812.0 613.5,811.8 614.0,811.4 614.5,811.7 615.0,811.3 615.5,811.4 616.0,811.0 616.5,811.4 617.0,811.2 617.5,810.8 618.0,810.5 618.5,810.5 619.0,811.0 619.5,811.1 620.0,811.0 620.5,811.3 621.0,811.7 621.5,811.6 622.0,811.7 622.5,812.0 623.0,811.7 623.5,811.9 624.0,811.8 624.5,811.4 625.0,811.1 625.5,811.7 626.0,811.6 626.5,811.6 627.0,811.9 627.5,811.8 628.0,811.7 628.5,811.5 629.0,811.7 629.5,811.5 630.0,811.5 630.5,811.8 631.0,811.8 631.5,811.4 632.0,811.2 632.5,811.5 633.0,811.7 633.5,811.4 634.0,811.9" fill="none" stroke="#d42cc4" stroke-width="1.9" stroke-linejoin="round"/>
<polyline points="61.5,953.1 62.0,953.0 62.5,953.0 63.0,953.0 63.5,952.9 64.0,953.0 64.5,953.2 65.0,953.3 65.5,953.4 66.0,953.2 66.5,953.2 67.0,953.1 67.5,953.0 68.0,952.9 68.5,952.9 69.0,953.2 69.5,953.3 70.0,953.3 70.5,953.3 71.0,952.9 71.5,952.6 72.0,952.4 72.5,952.3 73.0,952.4 73.5,952.6 74.0,952.5 74.5,952.8 75.0,953.0 75.5,953.1 76.0,953.0 76.5,953.1 77.0,953.0 77.5,953.2 78.0,953.4 78.5,953.3 79.0,953.2 79.5,953.4 80.0,953.3 80.5,953.4 81.0,953.5 81.5,953.4 82.0,953.3 82.5,953.3 83.0,953.2 83.5,953.1 84.0,953.0 84.5,953.2 85.0,953.0 85.5,952.9 86.0,953.1 86.5,953.0 87.0,953.1 87.5,953.1 88.0,953.1 88.5,953.3 89.0,953.2 89.5,953.1 90.0,953.0 90.5,953.2 91.0,953.1 91.5,953.1 92.0,953.2 92.5,953.1 93.0,953.2 93.5,953.3 94.0,953.1 94.5,953.0 95.0,953.0 95.5,953.2 96.0,953.2 96.5,953.1 97.0,953.1 97.5,953.0 98.0,953.1 98.5,952.9 99.0,953.1 99.5,953.3 100.0,953.4 100.5,953.4 101.0,953.5 101.5,953.2 102.0,953.1 102.5,953.3 103.0,953.4 103.5,953.3 104.0,953.4 104.5,953.4 105.0,953.4 105.5,953.2 106.0,953.1 106.5,953.1 107.0,953.0 107.5,953.0 108.0,953.3 108.5,953.2 109.0,953.0 109.5,952.9 110.0,952.8 110.5,953.1 111.0,953.0 111.5,952.9 112.0,952.7 112.5,952.8 113.0,952.5 113.5,952.0 114.0,951.4 114.5,950.8 115.0,950.5 115.5,950.6 116.0,950.7 116.5,951.0 117.0,951.6 117.5,952.0 118.0,952.7 118.5,952.8 119.0,953.0 119.5,953.2 120.0,953.1 120.5,953.4 121.0,953.3 121.5,953.1 122.0,953.1 122.5,953.0 123.0,953.0 123.5,953.0 124.0,953.2 124.5,953.3 125.0,953.3 125.5,953.1 126.0,953.0 126.5,953.0 127.0,952.9 127.5,952.9 128.0,953.2 128.5,953.0 129.0,952.9 129.5,953.2 130.0,953.2 130.5,953.4 131.0,953.3 131.5,953.4 132.0,953.4 132.5,953.4 133.0,953.4 133.5,953.3 134.0,953.1 134.5,953.0 135.0,953.2 135.5,953.4 136.0,953.5 136.5,953.3 137.0,953.3 137.5,953.4 138.0,953.4 138.5,953.4 139.0,953.3 139.5,953.3 140.0,953.4 140.5,953.2 141.0,953.4 141.5,953.5 142.0,953.2 142.5,953.4 143.0,953.5 143.5,953.4 144.0,953.2 144.5,953.3 145.0,953.1 145.5,953.3 146.0,953.3 146.5,953.1 147.0,953.0 147.5,953.1 148.0,953.2 148.5,953.3 149.0,953.4 149.5,953.2 150.0,953.0 150.5,953.2 151.0,953.0 151.5,953.2 152.0,953.1 152.5,953.2 153.0,953.3 153.5,953.4 154.0,953.3 154.5,953.4 155.0,953.2 155.5,953.3 156.0,953.1 156.5,953.3 157.0,953.4 157.5,953.3 158.0,953.2 158.5,953.0 159.0,952.9 159.5,953.0 160.0,953.0 160.5,953.2 161.0,953.2 161.5,953.0 162.0,952.9 162.5,953.0 163.0,952.9 163.5,952.4 164.0,952.1 164.5,951.0 165.0,948.8 165.5,946.2 166.0,943.2 166.5,941.1 167.0,940.4 167.5,941.7 168.0,944.3 168.5,947.5 169.0,949.7 169.5,951.2 170.0,952.2 170.5,952.9 171.0,953.0 171.5,953.0 172.0,953.2 172.5,953.3 173.0,953.0 173.5,953.2 174.0,953.1 174.5,953.0 175.0,953.2 175.5,953.1 176.0,953.3 176.5,953.1 177.0,953.3 177.5,953.1 178.0,953.0 178.5,953.0 179.0,953.0 179.5,953.1 180.0,953.3 180.5,953.3 181.0,953.1 181.5,953.0 182.0,953.1 182.5,953.1 183.0,953.2 183.5,953.2 184.0,953.0 184.5,953.0 185.0,953.2 185.5,953.1 186.0,953.2 186.5,953.4 187.0,953.4 187.5,953.4 188.0,953.3 188.5,953.2 189.0,953.3 189.5,953.3 190.0,953.4 190.5,953.2 191.0,953.3 191.5,953.4 192.0,953.3 192.5,953.2 193.0,953.1 193.5,953.2 194.0,953.1 194.5,953.2 195.0,953.0 195.5,952.9 196.0,952.9 196.5,953.1 197.0,953.0 197.5,953.2 198.0,953.1 198.5,953.1 199.0,953.1 199.5,953.1 200.0,952.9 200.5,953.0 201.0,953.2 201.5,953.0 202.0,953.0 202.5,952.8 203.0,952.6 203.5,952.0 204.0,951.3 204.5,950.5 205.0,949.3 205.5,947.9 206.0,946.7 206.5,946.0 207.0,945.8 207.5,946.7 208.0,948.0 208.5,949.4 209.0,950.8 209.5,951.6 210.0,952.1 210.5,951.8 211.0,951.5 211.5,950.8 212.0,949.8 212.5,948.6 213.0,947.4 213.5,946.0 214.0,945.2 214.5,944.7 215.0,944.9 215.5,945.8 216.0,946.9 216.5,948.0 217.0,949.2 217.5,950.3 218.0,951.3 218.5,952.1 219.0,952.7 219.5,952.8 220.0,952.9 220.5,953.1 221.0,953.0 221.5,953.0 222.0,952.8 222.5,952.8 223.0,952.9 223.5,953.1 224.0,953.1 224.5,953.0 225.0,953.2 225.5,953.2 226.0,953.0 226.5,952.8 227.0,953.0 227.5,953.1 228.0,953.1 228.5,952.9 229.0,952.5 229.5,952.0 230.0,951.6 230.5,951.2 231.0,951.0 231.5,950.7 232.0,950.5 232.5,950.1 233.0,950.0 233.5,950.2 234.0,950.7 234.5,950.9 235.0,951.5 235.5,951.9 236.0,952.2 236.5,952.7 237.0,952.7 237.5,952.8 238.0,952.8 238.5,952.7 239.0,952.6 239.5,952.7 240.0,952.6 240.5,952.6 241.0,952.9 241.5,952.8 242.0,952.9 242.5,952.9 243.0,952.9 243.5,952.8 244.0,952.9 244.5,952.8 245.0,952.7 245.5,952.5 246.0,952.3 246.5,952.1 247.0,951.8 247.5,951.4 248.0,950.9 248.5,950.6 249.0,950.1 249.5,949.4 250.0,948.8 250.5,948.6 251.0,948.1 251.5,947.7 252.0,947.6 252.5,947.6 253.0,947.5 253.5,947.5 254.0,947.6 254.5,947.5 255.0,947.8 255.5,947.6 256.0,947.7 256.5,947.3 257.0,946.8 257.5,946.7 258.0,946.4 258.5,945.8 259.0,945.5 259.5,945.3 260.0,945.3 260.5,945.1 261.0,945.4 261.5,945.5 262.0,945.3 262.5,944.7 263.0,943.5 263.5,941.4 264.0,939.0 264.5,936.1 265.0,932.8 265.5,929.6 266.0,927.4 266.5,926.5 267.0,926.7 267.5,928.4 268.0,931.4 268.5,934.8 269.0,938.2 269.5,941.8 270.0,944.8 270.5,947.4 271.0,949.3 271.5,950.5 272.0,951.5 272.5,952.1 273.0,952.3 273.5,952.6 274.0,952.8 274.5,953.0 275.0,953.1 275.5,953.0 276.0,953.0 276.5,953.0 277.0,952.9 277.5,953.1 278.0,952.9 278.5,952.7 279.0,952.9 279.5,952.8 280.0,952.8 280.5,952.9 281.0,952.7 281.5,952.5 282.0,952.2 282.5,952.1 283.0,951.6 283.5,950.6 284.0,949.0 284.5,947.6 285.0,946.0 285.5,944.7 286.0,944.2 286.5,945.0 287.0,946.4 287.5,948.0 288.0,949.3 288.5,950.6 289.0,951.1 289.5,951.6 290.0,951.6 290.5,951.5 291.0,951.4 291.5,950.6 292.0,948.7 292.5,944.2 293.0,935.8 293.5,921.8 294.0,901.3 294.5,877.3 295.0,855.2 295.5,842.1 296.0,843.7 296.5,859.2 297.0,882.5 297.5,906.2 298.0,925.3 298.5,938.1 299.0,945.3 299.5,948.9 300.0,950.9 300.5,951.8 301.0,952.0 301.5,952.3 302.0,952.4 302.5,952.5 303.0,952.7 303.5,952.7 304.0,952.7 304.5,952.7 305.0,952.7 305.5,952.6 306.0,952.6 306.5,952.7 307.0,952.9 307.5,952.8 308.0,953.0 308.5,952.8 309.0,953.1 309.5,952.9 310.0,952.8 310.5,952.8 311.0,953.1 311.5,953.1 312.0,953.3 312.5,953.2 313.0,953.0 313.5,953.0 314.0,953.0 314.5,953.2 315.0,953.0 315.5,953.0 316.0,953.2 316.5,953.0 317.0,953.2 317.5,953.1 318.0,953.1 318.5,953.2 319.0,953.3 319.5,953.1 320.0,953.2 320.5,953.1 321.0,953.2 321.5,953.0 322.0,953.1 322.5,953.0 323.0,952.9 323.5,952.8 324.0,952.9 324.5,952.9 325.0,953.2 325.5,953.2 326.0,953.1 326.5,953.3 327.0,953.1 327.5,953.0 328.0,953.3 328.5,953.4 329.0,953.4 329.5,953.5 330.0,953.2 330.5,953.3 331.0,953.3 331.5,953.3 332.0,953.4 332.5,953.1 333.0,953.0 333.5,952.9 334.0,953.0 334.5,953.1 335.0,953.1 335.5,953.1 336.0,953.2 336.5,953.3 337.0,953.4 337.5,953.1 338.0,953.0 338.5,953.0 339.0,952.9 339.5,953.1 340.0,953.0 340.5,953.1 341.0,953.1 341.5,953.1 342.0,953.2 342.5,953.4 343.0,953.2 343.5,953.1 344.0,953.3 344.5,953.2 345.0,953.0 345.5,952.9 346.0,953.2 346.5,953.3 347.0,953.4 347.5,953.3 348.0,953.1 348.5,953.0 349.0,953.2 349.5,953.1 350.0,953.0 350.5,953.0 351.0,953.1 351.5,953.1 352.0,953.1 352.5,953.0 353.0,952.9 353.5,953.1 354.0,953.2 354.5,953.2 355.0,953.0 355.5,953.0 356.0,953.1 356.5,953.3 357.0,953.2 357.5,953.4 358.0,953.3 358.5,953.1 359.0,953.2 359.5,953.2 360.0,953.3 360.5,953.3 361.0,953.1 361.5,953.1 362.0,953.2 362.5,953.1 363.0,952.9 363.5,952.9 364.0,952.9 364.5,953.0 365.0,953.0 365.5,953.1 366.0,953.0 366.5,953.0 367.0,953.1 367.5,953.2 368.0,953.4 368.5,953.5 369.0,953.2 369.5,953.1 370.0,953.2 370.5,953.2 371.0,953.1 371.5,953.1 372.0,952.8 372.5,952.5 373.0,951.9 373.5,951.7 374.0,951.4 374.5,951.4 375.0,951.4 375.5,951.9 376.0,952.4 376.5,952.5 377.0,953.0 377.5,953.2 378.0,953.1 378.5,953.3 379.0,953.4 379.5,953.3 380.0,953.3 380.5,953.1 381.0,953.0 381.5,953.0 382.0,953.2 382.5,953.1 383.0,953.1 383.5,953.1 384.0,953.2 384.5,953.4 385.0,953.4 385.5,953.3 386.0,953.2 386.5,953.0 387.0,953.1 387.5,953.3 388.0,953.4 388.5,953.1 389.0,953.1 389.5,953.0 390.0,953.0 390.5,953.2 391.0,953.1 391.5,953.3 392.0,953.4 392.5,953.4 393.0,953.2 393.5,953.3 394.0,953.4 394.5,953.4 395.0,952.9 395.5,952.5 396.0,951.9 396.5,951.1 397.0,949.8 397.5,948.3 398.0,947.4 398.5,947.2 399.0,947.9 399.5,949.1 400.0,950.5 400.5,951.7 401.0,952.2 401.5,952.7 402.0,952.8 402.5,952.8 403.0,953.0 403.5,953.0 404.0,953.0 404.5,953.0 405.0,953.1 405.5,953.0 406.0,953.1 406.5,953.0 407.0,953.2 407.5,953.1 408.0,953.2 408.5,953.2 409.0,953.2 409.5,953.1 410.0,953.1 410.5,953.2 411.0,953.2 411.5,953.2 412.0,953.1 412.5,953.2 413.0,953.0 413.5,953.1 414.0,953.2 414.5,953.2 415.0,953.2 415.5,953.2 416.0,953.0 416.5,953.2 417.0,953.2 417.5,953.2 418.0,953.1 418.5,952.6 419.0,951.8 419.5,950.6 420.0,949.2 420.5,947.9 421.0,947.1 421.5,947.1 422.0,948.2 422.5,949.5 423.0,950.8 423.5,951.9 424.0,952.5 424.5,953.0 425.0,953.2 425.5,953.1 426.0,953.3 426.5,953.1 427.0,953.0 427.5,953.2 428.0,953.0 428.5,952.9 429.0,953.1 429.5,953.0 430.0,953.1 430.5,953.2 431.0,953.1 431.5,953.0 432.0,953.3 432.5,953.2 433.0,953.1 433.5,953.1 434.0,953.2 434.5,953.1 435.0,953.0 435.5,953.2 436.0,953.0 436.5,952.9 437.0,952.8 437.5,953.2 438.0,953.1 438.5,953.2 439.0,953.2 439.5,953.4 440.0,953.2 440.5,953.2 441.0,953.2 441.5,953.0 442.0,953.0 442.5,953.2 443.0,953.2 443.5,953.1 444.0,953.2 444.5,953.0 445.0,952.9 445.5,952.7 446.0,952.3 446.5,952.0 447.0,951.7 447.5,951.3 448.0,951.1 448.5,950.9 449.0,951.0 449.5,951.2 450.0,951.5 450.5,951.9 451.0,952.0 451.5,952.3 452.0,952.7 452.5,952.8 453.0,953.1 453.5,952.9 454.0,953.2 454.5,953.3 455.0,953.5 455.5,953.5 456.0,953.4 456.5,953.3 457.0,953.3 457.5,953.4 458.0,953.4 458.5,953.3 459.0,953.4 459.5,953.2 460.0,953.2 460.5,953.0 461.0,953.2 461.5,953.2 462.0,953.3 462.5,953.1 463.0,953.0 463.5,953.1 464.0,953.3 464.5,953.2 465.0,953.1 465.5,953.1 466.0,953.3 466.5,953.1 467.0,953.3 467.5,953.0 468.0,953.2 468.5,953.3 469.0,953.2 469.5,953.3 470.0,953.2 470.5,953.0 471.0,953.0 471.5,953.0 472.0,953.1 472.5,953.2 473.0,953.2 473.5,953.4 474.0,953.4 474.5,953.4 475.0,953.5 475.5,953.5 476.0,953.5 476.5,953.3 477.0,953.2 477.5,953.3 478.0,953.3 478.5,953.4 479.0,953.4 479.5,953.4 480.0,953.2 480.5,953.2 481.0,953.0 481.5,953.1 482.0,953.0 482.5,952.8 483.0,953.1 483.5,953.2 484.0,953.0 484.5,952.7 485.0,952.7 485.5,952.5 486.0,951.7 486.5,950.9 487.0,949.5 487.5,947.4 488.0,944.6 488.5,941.7 489.0,939.1 489.5,937.5 490.0,937.2 490.5,938.2 491.0,940.2 491.5,943.1 492.0,945.6 492.5,948.1 493.0,949.8 493.5,951.0 494.0,951.8 494.5,952.5 495.0,952.6 495.5,952.6 496.0,952.8 496.5,952.9 497.0,953.0 497.5,953.1 498.0,953.2 498.5,953.3 499.0,953.2 499.5,953.2 500.0,953.0 500.5,953.0 501.0,952.9 501.5,953.1 502.0,953.1 502.5,953.2 503.0,953.3 503.5,953.2 504.0,953.1 504.5,953.0 505.0,953.1 505.5,953.1 506.0,952.9 506.5,953.2 507.0,953.2 507.5,953.4 508.0,953.4 508.5,953.4 509.0,953.4 509.5,953.4 510.0,953.3 510.5,953.4 511.0,953.5 511.5,953.2 512.0,953.0 512.5,953.0 513.0,953.0 513.5,953.2 514.0,953.2 514.5,953.3 515.0,953.2 515.5,953.2 516.0,953.1 516.5,953.2 517.0,953.1 517.5,952.9 518.0,953.0 518.5,953.1 519.0,953.3 519.5,953.1 520.0,953.3 520.5,953.3 521.0,952.9 521.5,952.8 522.0,952.6 522.5,952.2 523.0,951.8 523.5,951.3 524.0,951.3 524.5,951.7 525.0,952.1 525.5,952.4 526.0,952.9 526.5,953.1 527.0,953.0 527.5,953.0 528.0,952.9 528.5,953.0 529.0,952.9 529.5,953.0 530.0,953.0 530.5,953.2 531.0,953.3 531.5,953.1 532.0,953.3 532.5,953.3 533.0,953.1 533.5,953.3 534.0,953.1 534.5,953.1 535.0,953.2 535.5,953.0 536.0,953.1 536.5,953.3 537.0,953.2 537.5,953.3 538.0,953.1 538.5,953.3 539.0,953.5 539.5,953.2 540.0,953.3 540.5,953.2 541.0,953.0 541.5,953.0 542.0,953.1 542.5,953.1 543.0,953.2 543.5,953.0 544.0,953.0 544.5,953.0 545.0,953.1 545.5,953.3 546.0,953.2 546.5,953.1 547.0,953.3 547.5,953.3 548.0,953.4 548.5,953.4 549.0,953.3 549.5,953.2 550.0,953.0 550.5,953.2 551.0,953.3 551.5,953.4 552.0,953.5 552.5,953.4 553.0,953.3 553.5,953.4 554.0,953.2 554.5,953.1 555.0,953.2 555.5,953.2 556.0,953.2 556.5,953.1 557.0,953.1 557.5,953.0 558.0,953.0 558.5,953.0 559.0,953.0 559.5,953.1 560.0,953.1 560.5,953.0 561.0,953.1 561.5,953.2 562.0,953.1 562.5,953.0 563.0,953.1 563.5,953.2 564.0,953.0 564.5,953.1 565.0,953.0 565.5,953.2 566.0,953.0 566.5,953.2 567.0,953.0 567.5,953.0 568.0,952.9 568.5,953.0 569.0,953.0 569.5,952.6 570.0,952.2 570.5,952.1 571.0,951.7 571.5,951.2 572.0,950.8 572.5,950.4 573.0,950.2 573.5,950.0 574.0,949.9 574.5,950.0 575.0,950.5 575.5,950.7 576.0,950.8 576.5,950.9 577.0,950.6 577.5,950.3 578.0,950.1 578.5,949.7 579.0,949.7 579.5,949.5 580.0,949.8 580.5,950.1 581.0,950.6 581.5,950.9 582.0,951.5 582.5,952.1 583.0,952.2 583.5,952.6 584.0,952.7 584.5,953.0 585.0,953.2 585.5,953.0 586.0,953.0 586.5,953.1 587.0,953.3 587.5,953.4 588.0,953.1 588.5,953.0 589.0,953.0 589.5,953.2 590.0,953.3 590.5,953.3 591.0,953.4 591.5,953.4 592.0,953.5 592.5,953.4 593.0,953.2 593.5,953.3 594.0,953.3 594.5,953.4 595.0,953.2 595.5,953.0 596.0,953.0 596.5,953.0 597.0,953.0 597.5,952.9 598.0,953.1 598.5,953.1 599.0,953.0 599.5,952.9 600.0,953.1 600.5,953.0 601.0,953.2 601.5,953.1 602.0,953.3 602.5,953.1 603.0,953.1 603.5,953.2 604.0,953.2 604.5,953.2 605.0,953.3 605.5,953.2 606.0,953.3 606.5,953.3 607.0,953.2 607.5,953.1 608.0,953.1 608.5,953.2 609.0,953.2 609.5,953.2 610.0,953.2 610.5,953.4 611.0,953.4 611.5,953.2 612.0,953.3 612.5,953.3 613.0,953.4 613.5,953.3 614.0,953.3 614.5,953.3 615.0,953.2 615.5,953.1 616.0,953.2 616.5,953.2 617.0,953.3 617.5,953.2 618.0,953.1 618.5,953.2 619.0,953.2 619.5,953.4 620.0,953.5 620.5,953.3 621.0,953.3 621.5,953.3 622.0,953.3 622.5,953.3 623.0,953.2 623.5,953.3 624.0,953.4 624.5,953.5 625.0,953.5 625.5,953.5 626.0,953.3 626.5,953.4 627.0,953.2 627.5,953.0 628.0,953.1 628.5,953.0 629.0,953.0 629.5,953.1 630.0,953.0 630.5,953.0 631.0,953.1 631.5,953.3 632.0,953.1 632.5,953.1 633.0,953.1 633.5,953.0 634.0,953.0" fill="none" stroke="#10d6dc" stroke-width="1.9" stroke-linejoin="round"/>
<polyline points="63.0,1200.5 63.9,1200.4 64.8,1200.4 65.7,1200.5 66.6,1200.4 67.5,1200.4 68.4,1200.6 69.3,1200.4 70.2,1200.5 71.1,1200.5 72.0,1200.4 72.9,1200.4 73.8,1200.5 74.7,1200.5 75.6,1200.5 76.5,1200.4 77.4,1200.2 78.3,1199.9 79.2,1199.6 80.1,1199.6 81.0,1199.8 81.9,1200.3 82.8,1200.4 83.7,1200.5 84.6,1200.2 85.5,1199.9 86.4,1199.6 87.3,1199.6 88.2,1199.9 89.1,1200.1 90.0,1200.3 90.9,1200.3 91.8,1200.3 92.7,1200.5 93.6,1200.4 94.5,1200.6 95.4,1200.6 96.3,1200.4 97.2,1200.4 98.1,1200.4 99.0,1200.3 99.9,1200.4 100.8,1200.5 101.7,1200.4 102.6,1200.5 103.5,1200.4 104.4,1200.4 105.3,1200.6 106.2,1200.5 107.1,1200.3 108.0,1200.3 108.9,1200.4 109.8,1200.3 110.7,1200.2 111.6,1200.3 112.5,1200.5 113.4,1200.5 114.3,1200.5 115.2,1200.5 116.1,1200.4 117.0,1200.4 117.9,1200.4 118.8,1200.4 119.7,1200.6 120.6,1200.4 121.5,1200.5 122.4,1200.5 123.3,1200.4 124.2,1200.4 125.1,1200.6 126.0,1200.7 126.9,1200.5 127.8,1200.6 128.7,1200.7 129.6,1200.5 130.5,1200.5 131.4,1200.4 132.3,1200.4 133.2,1200.5 134.1,1200.5 135.0,1200.6 135.9,1200.4 136.8,1200.4 137.7,1200.5 138.6,1200.3 139.5,1200.0 140.4,1199.5 141.3,1199.7 142.2,1200.0 143.1,1200.1 144.0,1200.4 144.9,1200.4 145.8,1200.3 146.7,1199.9 147.6,1199.5 148.5,1199.4 149.4,1199.6 150.3,1200.1 151.2,1200.2 152.1,1200.4 153.0,1200.3 153.9,1200.4 154.8,1200.5 155.7,1200.5 156.6,1200.5 157.5,1200.4 158.4,1200.5 159.3,1200.4 160.2,1200.3 161.1,1200.5 162.0,1200.4 162.9,1200.2 163.8,1199.7 164.7,1197.3 165.6,1192.2 166.5,1186.3 167.4,1186.0 168.3,1191.4 169.2,1196.7 170.1,1199.5 171.0,1200.1 171.9,1200.4 172.8,1200.6 173.7,1200.6 174.6,1200.3 175.5,1200.2 176.4,1200.2 177.3,1200.3 178.2,1200.4 179.1,1200.6 180.0,1200.5 180.9,1200.3 181.8,1200.4 182.7,1200.3 183.6,1200.2 184.5,1200.3 185.4,1200.4 186.3,1200.3 187.2,1200.3 188.1,1200.4 189.0,1200.5 189.9,1200.4 190.8,1200.6 191.7,1200.4 192.6,1200.5 193.5,1200.5 194.4,1200.6 195.3,1200.5 196.2,1200.3 197.1,1200.2 198.0,1200.3 198.9,1200.2 199.8,1200.3 200.7,1200.1 201.6,1200.1 202.5,1199.7 203.4,1199.0 204.3,1198.1 205.2,1197.0 206.1,1195.9 207.0,1194.9 207.9,1194.3 208.8,1193.9 209.7,1193.3 210.6,1192.0 211.5,1190.6 212.4,1188.9 213.3,1188.2 214.2,1188.2 215.1,1189.1 216.0,1190.7 216.9,1192.8 217.8,1194.9 218.7,1196.5 219.6,1197.9 220.5,1198.9 221.4,1199.5 222.3,1199.9 223.2,1200.2 224.1,1200.1 225.0,1200.3 225.9,1200.3 226.8,1200.3 227.7,1200.4 228.6,1200.2 229.5,1200.3 230.4,1200.1 231.3,1199.9 232.2,1199.4 233.1,1199.5 234.0,1200.0 234.9,1200.3 235.8,1200.5 236.7,1200.3 237.6,1200.4 238.5,1200.4 239.4,1200.5 240.3,1200.4 241.2,1200.3 242.1,1200.2 243.0,1200.3 243.9,1200.2 244.8,1200.1 245.7,1200.2 246.6,1200.2 247.5,1200.3 248.4,1200.1 249.3,1200.3 250.2,1200.2 251.1,1200.3 252.0,1200.1 252.9,1200.3 253.8,1200.3 254.7,1200.3 255.6,1200.4 256.5,1200.3 257.4,1199.9 258.3,1199.5 259.2,1198.8 260.1,1197.5 261.0,1194.7 261.9,1190.0 262.8,1183.3 263.7,1175.0 264.6,1167.0 265.5,1161.2 266.4,1159.6 267.3,1163.3 268.2,1170.6 269.1,1179.1 270.0,1186.7 270.9,1192.5 271.8,1196.0 272.7,1198.0 273.6,1199.1 274.5,1199.5 275.4,1199.8 276.3,1200.0 277.2,1199.9 278.1,1199.9 279.0,1200.1 279.9,1199.9 280.8,1199.9 281.7,1200.0 282.6,1200.0 283.5,1199.7 284.4,1198.6 285.3,1195.2 286.2,1188.1 287.1,1181.0 288.0,1181.6 288.9,1189.1 289.8,1195.7 290.7,1198.4 291.6,1198.2 292.5,1193.1 293.4,1172.8 294.3,1129.1 295.2,1092.0 296.1,1108.3 297.0,1155.5 297.9,1186.6 298.8,1196.8 299.7,1199.1 300.6,1199.5 301.5,1199.7 302.4,1199.8 303.3,1200.0 304.2,1200.1 305.1,1200.2 306.0,1200.2 306.9,1200.2 307.8,1200.2 308.7,1200.2 309.6,1200.2 310.5,1200.3 311.4,1200.2 312.3,1200.4 313.2,1200.4 314.1,1200.3 315.0,1200.4 315.9,1200.3 316.8,1200.4 317.7,1200.4 318.6,1200.5 319.5,1200.6 320.4,1200.6 321.3,1200.5 322.2,1200.5 323.1,1200.4 324.0,1200.3 324.9,1200.4 325.8,1200.4 326.7,1200.5 327.6,1200.4 328.5,1200.6 329.4,1200.5 330.3,1200.4 331.2,1200.5 332.1,1200.4 333.0,1200.4 333.9,1200.3 334.8,1200.2 335.7,1200.4 336.6,1200.3 337.5,1200.3 338.4,1200.2 339.3,1200.2 340.2,1200.4 341.1,1200.6 342.0,1200.6 342.9,1200.5 343.8,1200.6 344.7,1200.5 345.6,1200.4 346.5,1200.5 347.4,1200.4 348.3,1200.3 349.2,1200.3 350.1,1200.3 351.0,1200.2 351.9,1200.3 352.8,1200.4 353.7,1200.0 354.6,1199.0 355.5,1197.5 356.4,1194.9 357.3,1192.9 358.2,1192.7 359.1,1194.4 360.0,1196.9 360.9,1198.9 361.8,1199.8 362.7,1200.1 363.6,1200.3 364.5,1200.4 365.4,1200.3 366.3,1200.3 367.2,1200.5 368.1,1200.4 369.0,1200.5 369.9,1200.5 370.8,1200.6 371.7,1200.4 372.6,1200.3 373.5,1200.5 374.4,1200.5 375.3,1200.4 376.2,1200.3 377.1,1200.3 378.0,1200.4 378.9,1200.5 379.8,1200.4 380.7,1200.3 381.6,1200.5 382.5,1200.4 383.4,1200.6 384.3,1200.7 385.2,1200.7 386.1,1200.7 387.0,1200.6 387.9,1200.4 388.8,1200.5 389.7,1200.5 390.6,1200.4 391.5,1200.5 392.4,1200.6 393.3,1200.5 394.2,1200.5 395.1,1200.0 396.0,1197.8 396.9,1194.1 397.8,1190.9 398.7,1191.7 399.6,1195.7 400.5,1198.7 401.4,1200.0 402.3,1200.5 403.2,1200.5 404.1,1200.5 405.0,1200.7 405.9,1200.5 406.8,1200.3 407.7,1200.5 408.6,1200.5 409.5,1200.4 410.4,1200.5 411.3,1200.4 412.2,1200.3 413.1,1200.3 414.0,1200.2 414.9,1200.3 415.8,1200.4 416.7,1200.4 417.6,1200.4 418.5,1199.7 419.4,1198.3 420.3,1196.1 421.2,1194.3 422.1,1194.1 423.0,1196.0 423.9,1198.3 424.8,1199.7 425.7,1200.3 426.6,1200.5 427.5,1200.6 428.4,1200.2 429.3,1199.8 430.2,1199.6 431.1,1199.6 432.0,1199.9 432.9,1200.2 433.8,1200.3 434.7,1200.5 435.6,1200.5 436.5,1200.4 437.4,1200.6 438.3,1200.5 439.2,1200.4 440.1,1200.5 441.0,1200.6 441.9,1200.5 442.8,1200.3 443.7,1200.3 444.6,1200.2 445.5,1200.3 446.4,1200.3 447.3,1200.5 448.2,1200.4 449.1,1200.3 450.0,1200.3 450.9,1200.3 451.8,1200.3 452.7,1200.3 453.6,1200.3 454.5,1200.4 455.4,1200.6 456.3,1200.5 457.2,1200.5 458.1,1200.4 459.0,1200.6 459.9,1200.6 460.8,1200.4 461.7,1200.5 462.6,1200.4 463.5,1200.3 464.4,1200.2 465.3,1200.4 466.2,1200.5 467.1,1200.4 468.0,1200.5 468.9,1200.5 469.8,1200.4 470.7,1200.5 471.6,1200.5 472.5,1200.6 473.4,1200.4 474.3,1200.4 475.2,1200.4 476.1,1200.5 477.0,1200.4 477.9,1200.4 478.8,1200.5 479.7,1200.3 480.6,1200.3 481.5,1200.3 482.4,1199.9 483.3,1199.6 484.2,1197.9 485.1,1194.4 486.0,1187.9 486.9,1179.6 487.8,1172.7 488.7,1171.5 489.6,1176.8 490.5,1185.4 491.4,1192.7 492.3,1197.2 493.2,1199.1 494.1,1199.8 495.0,1200.1 495.9,1200.0 496.8,1200.3 497.7,1200.3 498.6,1200.5 499.5,1200.4 500.4,1200.4 501.3,1200.5 502.2,1200.5 503.1,1200.5 504.0,1200.3 504.9,1200.3 505.8,1200.4 506.7,1200.5 507.6,1200.7 508.5,1200.7 509.4,1200.8 510.3,1200.5 511.2,1200.4 512.1,1200.3 513.0,1200.2 513.9,1200.2 514.8,1200.3 515.7,1200.3 516.6,1200.4 517.5,1200.4 518.4,1200.4 519.3,1200.6 520.2,1200.4 521.1,1200.6 522.0,1200.5 522.9,1200.6 523.8,1200.4 524.7,1200.5 525.6,1200.6 526.5,1200.5 527.4,1200.5 528.3,1200.5 529.2,1200.5 530.1,1200.6 531.0,1200.6 531.9,1200.5 532.8,1200.5 533.7,1200.6 534.6,1200.5 535.5,1200.6 536.4,1200.6 537.3,1200.5 538.2,1200.4 539.1,1200.3 540.0,1200.3 540.9,1200.1 541.8,1199.5 542.7,1199.5 543.6,1199.8 544.5,1200.2 545.4,1200.3 546.3,1200.4 547.2,1200.5 548.1,1200.5 549.0,1200.6 549.9,1200.6 550.8,1200.4 551.7,1200.4 552.6,1200.5 553.5,1200.3 554.4,1200.4 555.3,1200.1 556.2,1199.7 557.1,1199.5 558.0,1199.7 558.9,1200.2 559.8,1200.4 560.7,1200.5 561.6,1200.5 562.5,1200.6 563.4,1200.5 564.3,1200.6 565.2,1200.4 566.1,1200.6 567.0,1200.6 567.9,1200.5 568.8,1200.5 569.7,1200.6 570.6,1200.5 571.5,1200.6 572.4,1200.7 573.3,1200.7 574.2,1200.6 575.1,1200.6 576.0,1200.6 576.9,1200.7 577.8,1200.5 578.7,1200.4 579.6,1200.4 580.5,1200.6 581.4,1200.5 582.3,1200.4 583.2,1200.3 584.1,1200.5 585.0,1200.6 585.9,1200.6 586.8,1200.4 587.7,1200.5 588.6,1200.6 589.5,1200.5 590.4,1200.4 591.3,1200.0 592.2,1199.5 593.1,1199.5 594.0,1199.6 594.9,1199.9 595.8,1200.4 596.7,1200.3 597.6,1200.5 598.5,1200.6 599.4,1200.4 600.3,1200.3 601.2,1200.0 602.1,1199.7 603.0,1199.6 603.9,1199.8 604.8,1200.0 605.7,1199.9 606.6,1199.5 607.5,1199.6 608.4,1199.9 609.3,1200.2 610.2,1200.4 611.1,1200.4 612.0,1200.6 612.9,1200.6 613.8,1200.5 614.7,1200.3 615.6,1200.4 616.5,1200.3 617.4,1200.4 618.3,1200.5 619.2,1200.6 620.1,1200.5 621.0,1200.5 621.9,1200.6 622.8,1200.4 623.7,1200.4 624.6,1200.5 625.5,1200.5 626.4,1200.6 627.3,1200.4 628.2,1200.3 629.1,1200.4 630.0,1200.4 630.9,1200.4 631.8,1200.3 632.7,1200.4 633.6,1200.6 634.5,1200.7" fill="none" stroke="#bd7a36" stroke-width="1.9" stroke-linejoin="round"/>
<polyline points="63.0,1342.1 63.5,1342.3 64.0,1342.1 64.5,1342.2 65.0,1342.0 65.5,1342.0 66.0,1342.3 66.5,1342.1 67.0,1342.2 67.5,1342.2 68.0,1342.2 68.5,1342.2 69.0,1342.0 69.5,1342.3 70.0,1342.0 70.5,1342.0 71.0,1341.8 71.5,1341.9 72.0,1342.0 72.5,1342.2 73.0,1342.2 73.5,1342.0 74.0,1342.0 74.5,1342.3 75.0,1342.0 75.5,1342.2 76.0,1342.1 76.5,1342.2 77.0,1342.1 77.5,1342.3 78.0,1342.2 78.5,1342.3 79.0,1342.4 79.5,1342.4 80.0,1342.1 80.5,1342.0 81.0,1342.3 81.5,1342.2 82.0,1342.1 82.5,1342.3 83.0,1342.3 83.5,1342.4 84.0,1342.5 84.5,1342.3 85.0,1342.2 85.5,1342.4 86.0,1342.1 86.5,1342.3 87.0,1342.1 87.5,1342.2 88.0,1342.3 88.5,1342.5 89.0,1342.5 89.5,1342.4 90.0,1342.2 90.5,1342.0 91.0,1342.1 91.5,1342.1 92.0,1342.0 92.5,1342.2 93.0,1342.2 93.5,1342.3 94.0,1342.1 94.5,1342.0 95.0,1341.9 95.5,1341.9 96.0,1341.9 96.5,1342.0 97.0,1342.0 97.5,1342.2 98.0,1342.4 98.5,1342.2 99.0,1342.1 99.5,1342.0 100.0,1342.2 100.5,1342.4 101.0,1342.2 101.5,1342.3 102.0,1342.2 102.5,1341.9 103.0,1342.2 103.5,1342.1 104.0,1342.0 104.5,1342.0 105.0,1342.0 105.5,1342.0 106.0,1342.1 106.5,1342.1 107.0,1342.2 107.5,1342.1 108.0,1341.9 108.5,1341.8 109.0,1341.8 109.5,1342.0 110.0,1342.0 110.5,1342.2 111.0,1342.2 111.5,1342.3 112.0,1342.5 112.5,1342.2 113.0,1341.9 113.5,1341.9 114.0,1341.9 114.5,1342.1 115.0,1342.2 115.5,1342.2 116.0,1342.4 116.5,1342.1 117.0,1342.3 117.5,1342.1 118.0,1342.3 118.5,1342.0 119.0,1342.3 119.5,1342.4 120.0,1342.6 120.5,1342.4 121.0,1342.2 121.5,1342.4 122.0,1342.3 122.5,1342.1 123.0,1342.2 123.5,1342.2 124.0,1342.2 124.5,1342.0 125.0,1341.9 125.5,1342.1 126.0,1342.1 126.5,1342.0 127.0,1342.0 127.5,1342.2 128.0,1342.3 128.5,1342.2 129.0,1342.2 129.5,1342.1 130.0,1342.0 130.5,1341.9 131.0,1342.0 131.5,1341.9 132.0,1342.1 132.5,1342.3 133.0,1342.3 133.5,1342.0 134.0,1342.0 134.5,1342.1 135.0,1341.9 135.5,1342.3 136.0,1342.4 136.5,1342.3 137.0,1342.3 137.5,1342.1 138.0,1342.0 138.5,1342.1 139.0,1342.3 139.5,1342.3 140.0,1342.0 140.5,1342.1 141.0,1342.4 141.5,1342.4 142.0,1342.5 142.5,1342.6 143.0,1342.3 143.5,1342.2 144.0,1342.2 144.5,1342.4 145.0,1342.3 145.5,1342.4 146.0,1342.5 146.5,1342.4 147.0,1342.4 147.5,1342.5 148.0,1342.5 148.5,1342.3 149.0,1342.4 149.5,1342.2 150.0,1342.1 150.5,1342.4 151.0,1342.5 151.5,1342.3 152.0,1342.1 152.5,1342.2 153.0,1342.4 153.5,1342.4 154.0,1342.5 154.5,1342.5 155.0,1342.5 155.5,1342.4 156.0,1342.3 156.5,1342.2 157.0,1342.2 157.5,1342.2 158.0,1342.3 158.5,1342.2 159.0,1341.9 159.5,1342.1 160.0,1342.0 160.5,1342.0 161.0,1341.9 161.5,1342.1 162.0,1342.0 162.5,1341.9 163.0,1342.1 163.5,1342.1 164.0,1342.0 164.5,1342.1 165.0,1341.9 165.5,1341.6 166.0,1341.3 166.5,1340.3 167.0,1338.4 167.5,1335.5 168.0,1332.6 168.5,1330.0 169.0,1329.0 169.5,1329.9 170.0,1332.6 170.5,1335.7 171.0,1338.3 171.5,1340.2 172.0,1341.3 172.5,1342.0 173.0,1342.3 173.5,1342.4 174.0,1342.1 174.5,1342.2 175.0,1342.2 175.5,1342.0 176.0,1342.0 176.5,1342.3 177.0,1342.4 177.5,1342.5 178.0,1342.2 178.5,1342.2 179.0,1342.4 179.5,1342.4 180.0,1342.2 180.5,1342.0 181.0,1342.2 181.5,1342.4 182.0,1342.4 182.5,1342.2 183.0,1342.4 183.5,1342.4 184.0,1342.4 184.5,1342.4 185.0,1342.2 185.5,1342.1 186.0,1342.1 186.5,1342.0 187.0,1342.1 187.5,1341.9 188.0,1342.1 188.5,1342.1 189.0,1341.9 189.5,1341.9 190.0,1342.0 190.5,1342.0 191.0,1342.2 191.5,1342.0 192.0,1341.9 192.5,1341.9 193.0,1341.9 193.5,1342.1 194.0,1341.9 194.5,1341.8 195.0,1342.0 195.5,1342.2 196.0,1342.3 196.5,1342.3 197.0,1342.1 197.5,1342.3 198.0,1342.4 198.5,1342.3 199.0,1342.2 199.5,1342.4 200.0,1342.5 200.5,1342.6 201.0,1342.2 201.5,1342.1 202.0,1342.1 202.5,1341.9 203.0,1342.1 203.5,1341.9 204.0,1342.1 204.5,1342.1 205.0,1342.0 205.5,1341.9 206.0,1342.0 206.5,1341.8 207.0,1341.7 207.5,1341.6 208.0,1341.2 208.5,1340.9 209.0,1340.3 209.5,1339.7 210.0,1339.3 210.5,1338.6 211.0,1337.9 211.5,1337.4 212.0,1336.8 212.5,1336.2 213.0,1336.1 213.5,1335.9 214.0,1336.1 214.5,1336.1 215.0,1336.6 215.5,1336.7 216.0,1337.1 216.5,1337.7 217.0,1338.4 217.5,1339.1 218.0,1339.7 218.5,1339.9 219.0,1340.3 219.5,1340.5 220.0,1340.9 220.5,1341.5 221.0,1341.6 221.5,1341.8 222.0,1341.9 222.5,1341.8 223.0,1342.0 223.5,1341.8 224.0,1341.8 224.5,1341.9 225.0,1341.8 225.5,1342.2 226.0,1342.1 226.5,1342.2 227.0,1342.4 227.5,1342.1 228.0,1342.3 228.5,1342.0 229.0,1342.0 229.5,1342.0 230.0,1342.1 230.5,1341.6 231.0,1341.5 231.5,1341.0 232.0,1340.4 232.5,1339.7 233.0,1339.2 233.5,1339.0 234.0,1339.1 234.5,1339.4 235.0,1340.1 235.5,1340.5 236.0,1341.1 236.5,1341.2 237.0,1341.4 237.5,1341.8 238.0,1342.2 238.5,1342.1 239.0,1341.9 239.5,1341.9 240.0,1341.9 240.5,1341.9 241.0,1342.0 241.5,1342.0 242.0,1342.1 242.5,1342.3 243.0,1342.4 243.5,1342.4 244.0,1342.3 244.5,1342.1 245.0,1342.3 245.5,1342.1 246.0,1342.3 246.5,1342.2 247.0,1342.3 247.5,1342.2 248.0,1342.3 248.5,1342.1 249.0,1342.2 249.5,1342.3 250.0,1342.2 250.5,1342.2 251.0,1342.2 251.5,1342.1 252.0,1342.1 252.5,1342.1 253.0,1342.2 253.5,1342.0 254.0,1341.9 254.5,1342.1 255.0,1341.9 255.5,1342.1 256.0,1342.3 256.5,1342.1 257.0,1342.1 257.5,1342.0 258.0,1342.2 258.5,1342.0 259.0,1341.8 259.5,1341.7 260.0,1341.9 260.5,1341.8 261.0,1341.8 261.5,1342.1 262.0,1342.1 262.5,1342.0 263.0,1341.8 263.5,1341.4 264.0,1340.6 264.5,1339.9 265.0,1338.6 265.5,1337.1 266.0,1334.9 266.5,1332.8 267.0,1330.2 267.5,1328.6 268.0,1327.3 268.5,1327.2 269.0,1328.1 269.5,1330.1 270.0,1332.3 270.5,1334.8 271.0,1337.0 271.5,1338.5 272.0,1339.6 272.5,1340.4 273.0,1341.1 273.5,1341.7 274.0,1341.9 274.5,1341.9 275.0,1342.0 275.5,1342.1 276.0,1341.9 276.5,1342.1 277.0,1341.9 277.5,1341.7 278.0,1341.6 278.5,1341.8 279.0,1342.0 279.5,1341.9 280.0,1341.9 280.5,1342.0 281.0,1341.9 281.5,1341.9 282.0,1342.0 282.5,1341.9 283.0,1341.8 283.5,1341.9 284.0,1341.8 284.5,1341.5 285.0,1341.3 285.5,1341.0 286.0,1340.6 286.5,1340.1 287.0,1339.5 287.5,1339.2 288.0,1338.9 288.5,1339.1 289.0,1339.2 289.5,1339.7 290.0,1340.2 290.5,1340.8 291.0,1341.1 291.5,1341.4 292.0,1341.4 292.5,1341.4 293.0,1341.0 293.5,1340.3 294.0,1338.6 294.5,1334.6 295.0,1327.0 295.5,1313.2 296.0,1292.4 296.5,1267.4 297.0,1244.8 297.5,1233.5 298.0,1238.7 298.5,1257.7 299.0,1282.8 299.5,1305.6 300.0,1322.2 300.5,1332.1 301.0,1337.5 301.5,1339.6 302.0,1340.4 302.5,1341.0 303.0,1341.4 303.5,1341.7 304.0,1341.6 304.5,1341.8 305.0,1341.6 305.5,1341.6 306.0,1341.9 306.5,1342.0 307.0,1341.9 307.5,1342.0 308.0,1342.0 308.5,1342.0 309.0,1342.2 309.5,1342.3 310.0,1342.1 310.5,1342.2 311.0,1342.3 311.5,1342.3 312.0,1342.2 312.5,1342.1 313.0,1342.1 313.5,1342.1 314.0,1342.2 314.5,1342.0 315.0,1342.3 315.5,1342.1 316.0,1342.1 316.5,1342.0 317.0,1342.1 317.5,1341.9 318.0,1341.9 318.5,1341.9 319.0,1341.9 319.5,1342.0 320.0,1341.9 320.5,1342.0 321.0,1342.2 321.5,1342.2 322.0,1342.4 322.5,1342.5 323.0,1342.4 323.5,1342.3 324.0,1342.3 324.5,1342.5 325.0,1342.4 325.5,1342.4 326.0,1342.4 326.5,1342.3 327.0,1342.2 327.5,1342.2 328.0,1342.1 328.5,1342.1 329.0,1342.3 329.5,1342.1 330.0,1341.9 330.5,1342.2 331.0,1342.2 331.5,1342.3 332.0,1342.4 332.5,1342.4 333.0,1342.4 333.5,1342.5 334.0,1342.4 334.5,1342.3 335.0,1342.1 335.5,1342.0 336.0,1342.2 336.5,1342.4 337.0,1342.2 337.5,1342.2 338.0,1342.3 338.5,1342.3 339.0,1342.1 339.5,1342.4 340.0,1342.3 340.5,1342.4 341.0,1342.4 341.5,1342.3 342.0,1342.3 342.5,1342.1 343.0,1342.2 343.5,1342.2 344.0,1342.3 344.5,1342.1 345.0,1342.0 345.5,1341.9 346.0,1341.8 346.5,1341.8 347.0,1342.0 347.5,1342.1 348.0,1342.2 348.5,1342.2 349.0,1342.3 349.5,1342.0 350.0,1342.0 350.5,1341.9 351.0,1342.0 351.5,1342.1 352.0,1342.2 352.5,1342.2 353.0,1342.1 353.5,1342.1 354.0,1341.9 354.5,1341.9 355.0,1342.0 355.5,1342.1 356.0,1341.9 356.5,1342.2 357.0,1342.0 357.5,1341.9 358.0,1342.0 358.5,1342.0 359.0,1342.1 359.5,1342.2 360.0,1342.2 360.5,1342.4 361.0,1342.3 361.5,1342.3 362.0,1342.2 362.5,1342.0 363.0,1341.9 363.5,1341.9 364.0,1342.0 364.5,1341.9 365.0,1342.1 365.5,1342.2 366.0,1342.4 366.5,1342.1 367.0,1342.4 367.5,1342.1 368.0,1342.3 368.5,1342.5 369.0,1342.3 369.5,1342.4 370.0,1342.3 370.5,1342.3 371.0,1342.4 371.5,1342.5 372.0,1342.3 372.5,1342.1 373.0,1342.4 373.5,1342.3 374.0,1342.5 374.5,1342.2 375.0,1342.4 375.5,1342.1 376.0,1342.0 376.5,1342.0 377.0,1342.3 377.5,1342.2 378.0,1342.2 378.5,1342.1 379.0,1341.9 379.5,1342.0 380.0,1342.1 380.5,1342.0 381.0,1342.2 381.5,1342.1 382.0,1342.4 382.5,1342.5 383.0,1342.4 383.5,1342.1 384.0,1342.2 384.5,1342.2 385.0,1342.3 385.5,1342.2 386.0,1342.3 386.5,1342.5 387.0,1342.5 387.5,1342.1 388.0,1342.2 388.5,1342.3 389.0,1342.2 389.5,1342.4 390.0,1342.1 390.5,1341.8 391.0,1341.9 391.5,1341.5 392.0,1341.1 392.5,1341.0 393.0,1340.7 393.5,1340.8 394.0,1341.1 394.5,1341.4 395.0,1341.6 395.5,1341.6 396.0,1342.1 396.5,1342.3 397.0,1342.5 397.5,1342.4 398.0,1342.2 398.5,1342.3 399.0,1342.2 399.5,1342.0 400.0,1341.9 400.5,1342.0 401.0,1341.9 401.5,1341.9 402.0,1342.2 402.5,1342.4 403.0,1342.5 403.5,1342.4 404.0,1342.4 404.5,1342.2 405.0,1342.2 405.5,1342.5 406.0,1342.5 406.5,1342.6 407.0,1342.5 407.5,1342.3 408.0,1342.0 408.5,1342.0 409.0,1342.2 409.5,1342.2 410.0,1342.3 410.5,1342.4 411.0,1342.2 411.5,1342.0 412.0,1342.3 412.5,1342.3 413.0,1342.0 413.5,1342.2 414.0,1342.3 414.5,1342.4 415.0,1342.1 415.5,1342.0 416.0,1342.2 416.5,1342.3 417.0,1342.2 417.5,1342.4 418.0,1342.2 418.5,1342.4 419.0,1342.1 419.5,1342.1 420.0,1342.4 420.5,1342.4 421.0,1342.4 421.5,1342.5 422.0,1342.5 422.5,1342.4 423.0,1342.5 423.5,1342.4 424.0,1342.5 424.5,1342.5 425.0,1342.1 425.5,1342.1 426.0,1342.3 426.5,1342.1 427.0,1341.9 427.5,1342.0 428.0,1342.2 428.5,1342.4 429.0,1342.6 429.5,1342.5 430.0,1342.4 430.5,1342.4 431.0,1342.4 431.5,1342.4 432.0,1342.1 432.5,1342.1 433.0,1341.7 433.5,1341.5 434.0,1341.2 434.5,1341.3 435.0,1341.1 435.5,1341.2 436.0,1341.5 436.5,1341.6 437.0,1341.8 437.5,1341.9 438.0,1342.1 438.5,1342.3 439.0,1342.3 439.5,1342.4 440.0,1342.3 440.5,1342.4 441.0,1342.1 441.5,1342.1 442.0,1342.0 442.5,1342.3 443.0,1342.3 443.5,1342.2 444.0,1342.3 444.5,1342.4 445.0,1342.5 445.5,1342.5 446.0,1342.5 446.5,1342.5 447.0,1342.4 447.5,1342.3 448.0,1342.2 448.5,1342.1 449.0,1342.0 449.5,1342.1 450.0,1342.3 450.5,1342.1 451.0,1342.1 451.5,1342.0 452.0,1342.1 452.5,1341.9 453.0,1342.1 453.5,1342.3 454.0,1342.5 454.5,1342.3 455.0,1342.1 455.5,1342.2 456.0,1342.3 456.5,1342.1 457.0,1341.9 457.5,1342.1 458.0,1342.1 458.5,1342.1 459.0,1342.2 459.5,1342.4 460.0,1342.1 460.5,1342.0 461.0,1341.9 461.5,1342.1 462.0,1341.9 462.5,1342.2 463.0,1342.3 463.5,1342.2 464.0,1342.1 464.5,1342.3 465.0,1342.1 465.5,1342.2 466.0,1342.3 466.5,1342.3 467.0,1342.1 467.5,1341.9 468.0,1341.9 468.5,1342.1 469.0,1342.0 469.5,1342.3 470.0,1342.4 470.5,1342.4 471.0,1342.5 471.5,1342.4 472.0,1342.2 472.5,1342.1 473.0,1341.9 473.5,1342.0 474.0,1342.3 474.5,1342.2 475.0,1342.3 475.5,1342.2 476.0,1342.2 476.5,1342.1 477.0,1342.3 477.5,1342.2 478.0,1342.1 478.5,1342.1 479.0,1341.9 479.5,1341.9 480.0,1342.1 480.5,1342.1 481.0,1342.1 481.5,1342.0 482.0,1342.2 482.5,1342.3 483.0,1342.2 483.5,1341.9 484.0,1341.9 484.5,1342.2 485.0,1342.2 485.5,1341.9 486.0,1341.7 486.5,1341.8 487.0,1341.3 487.5,1340.8 488.0,1339.7 488.5,1337.8 489.0,1335.2 489.5,1332.1 490.0,1329.0 490.5,1326.2 491.0,1325.0 491.5,1325.9 492.0,1328.4 492.5,1332.0 493.0,1335.1 493.5,1337.7 494.0,1339.8 494.5,1340.9 495.0,1341.4 495.5,1341.5 496.0,1341.6 496.5,1341.7 497.0,1342.0 497.5,1342.0 498.0,1342.1 498.5,1342.0 499.0,1342.0 499.5,1342.3 500.0,1342.0 500.5,1342.2 501.0,1342.1 501.5,1342.1 502.0,1342.2 502.5,1342.1 503.0,1342.1 503.5,1342.1 504.0,1342.1 504.5,1341.9 505.0,1342.0 505.5,1342.0 506.0,1342.0 506.5,1342.0 507.0,1342.0 507.5,1342.2 508.0,1342.0 508.5,1341.9 509.0,1342.0 509.5,1342.1 510.0,1342.3 510.5,1342.0 511.0,1341.9 511.5,1342.0 512.0,1342.0 512.5,1342.0 513.0,1342.0 513.5,1341.9 514.0,1342.0 514.5,1342.0 515.0,1342.1 515.5,1342.3 516.0,1342.2 516.5,1342.4 517.0,1342.2 517.5,1342.0 518.0,1342.1 518.5,1342.0 519.0,1342.2 519.5,1342.0 520.0,1342.2 520.5,1342.1 521.0,1342.1 521.5,1342.0 522.0,1341.9 522.5,1341.8 523.0,1342.2 523.5,1342.0 524.0,1342.3 524.5,1342.2 525.0,1342.4 525.5,1342.2 526.0,1342.2 526.5,1342.3 527.0,1342.2 527.5,1342.2 528.0,1342.4 528.5,1342.3 529.0,1342.0 529.5,1342.1 530.0,1342.3 530.5,1342.2 531.0,1342.4 531.5,1342.2 532.0,1342.2 532.5,1342.2 533.0,1342.0 533.5,1341.9 534.0,1342.1 534.5,1342.3 535.0,1342.1 535.5,1342.3 536.0,1342.2 536.5,1342.2 537.0,1342.0 537.5,1341.8 538.0,1342.0 538.5,1342.3 539.0,1342.3 539.5,1342.1 540.0,1342.2 540.5,1342.0 541.0,1342.1 541.5,1342.2 542.0,1342.2 542.5,1342.1 543.0,1342.0 543.5,1342.0 544.0,1341.9 544.5,1342.1 545.0,1342.1 545.5,1342.0 546.0,1342.0 546.5,1341.8 547.0,1342.0 547.5,1342.1 548.0,1342.2 548.5,1342.2 549.0,1342.4 549.5,1342.2 550.0,1342.0 550.5,1342.1 551.0,1342.1 551.5,1342.1 552.0,1342.2 552.5,1342.2 553.0,1342.2 553.5,1342.3 554.0,1342.2 554.5,1342.2 555.0,1342.4 555.5,1342.2 556.0,1342.2 556.5,1342.2 557.0,1342.3 557.5,1342.1 558.0,1341.9 558.5,1341.9 559.0,1342.1 559.5,1342.0 560.0,1341.9 560.5,1342.0 561.0,1341.9 561.5,1342.1 562.0,1342.4 562.5,1342.4 563.0,1342.4 563.5,1342.3 564.0,1342.0 564.5,1342.0 565.0,1342.1 565.5,1342.1 566.0,1342.1 566.5,1342.3 567.0,1342.2 567.5,1342.1 568.0,1342.1 568.5,1342.4 569.0,1342.1 569.5,1342.1 570.0,1342.4 570.5,1342.3 571.0,1342.2 571.5,1342.1 572.0,1342.2 572.5,1342.0 573.0,1342.3 573.5,1342.4 574.0,1342.5 574.5,1342.2 575.0,1342.0 575.5,1342.0 576.0,1342.1 576.5,1342.1 577.0,1342.2 577.5,1342.0 578.0,1342.3 578.5,1342.1 579.0,1342.0 579.5,1341.9 580.0,1342.0 580.5,1341.9 581.0,1342.1 581.5,1342.1 582.0,1341.9 582.5,1342.0 583.0,1342.2 583.5,1342.2 584.0,1342.0 584.5,1342.1 585.0,1342.2 585.5,1342.2 586.0,1342.3 586.5,1342.1 587.0,1342.2 587.5,1342.3 588.0,1342.5 588.5,1342.3 589.0,1342.1 589.5,1342.3 590.0,1342.5 590.5,1342.6 591.0,1342.5 591.5,1342.3 592.0,1342.5 592.5,1342.2 593.0,1342.3 593.5,1342.4 594.0,1342.4 594.5,1342.4 595.0,1342.3 595.5,1342.4 596.0,1342.2 596.5,1342.3 597.0,1342.1 597.5,1342.0 598.0,1341.9 598.5,1341.9 599.0,1341.8 599.5,1342.1 600.0,1342.3 600.5,1342.4 601.0,1342.1 601.5,1342.1 602.0,1342.0 602.5,1342.1 603.0,1341.9 603.5,1342.2 604.0,1342.2 604.5,1342.0 605.0,1342.1 605.5,1342.0 606.0,1342.1 606.5,1342.1 607.0,1342.4 607.5,1342.2 608.0,1342.0 608.5,1342.1 609.0,1342.1 609.5,1342.1 610.0,1342.4 610.5,1342.5 611.0,1342.3 611.5,1342.1 612.0,1342.3 612.5,1342.4 613.0,1342.5 613.5,1342.4 614.0,1342.2 614.5,1342.2 615.0,1342.2 615.5,1342.3 616.0,1342.1 616.5,1342.4 617.0,1342.3 617.5,1342.2 618.0,1342.2 618.5,1342.0 619.0,1342.2 619.5,1342.2 620.0,1342.1 620.5,1341.9 621.0,1342.0 621.5,1342.2 622.0,1342.1 622.5,1342.4 623.0,1342.3 623.5,1342.3 624.0,1342.5 624.5,1342.3 625.0,1342.4 625.5,1342.2 626.0,1342.1 626.5,1342.2 627.0,1342.4 627.5,1342.1 628.0,1342.1 628.5,1341.9 629.0,1342.0 629.5,1341.9 630.0,1342.1 630.5,1342.3 631.0,1342.5 631.5,1342.5 632.0,1342.3 632.5,1342.3 633.0,1342.1 633.5,1342.1 634.0,1342.0 634.5,1342.3 635.0,1342.3" fill="none" stroke="#1a7c7c" stroke-width="1.9" stroke-linejoin="round"/>
<polyline points="63.0,1484.7 63.5,1484.6 64.0,1484.7 64.5,1484.6 65.0,1484.7 65.5,1484.7 66.0,1484.5 66.5,1484.6 67.0,1484.5 67.5,1484.6 68.0,1484.5 68.5,1484.4 69.0,1484.5 69.5,1484.8 70.0,1484.6 70.5,1484.6 71.0,1484.7 71.5,1485.0 72.0,1484.9 72.5,1484.8 73.0,1485.0 73.5,1484.7 74.0,1484.9 74.5,1484.8 75.0,1484.6 75.5,1484.5 76.0,1484.5 76.5,1484.8 77.0,1484.6 77.5,1484.7 78.0,1484.8 78.5,1484.8 79.0,1484.8 79.5,1484.6 80.0,1484.5 80.5,1484.5 81.0,1484.7 81.5,1484.7 82.0,1484.6 82.5,1484.7 83.0,1484.7 83.5,1484.7 84.0,1484.9 84.5,1484.9 85.0,1484.8 85.5,1484.8 86.0,1484.8 86.5,1485.0 87.0,1485.0 87.5,1484.8 88.0,1485.0 88.5,1484.8 89.0,1484.7 89.5,1484.9 90.0,1484.7 90.5,1484.7 91.0,1484.5 91.5,1484.7 92.0,1484.9 92.5,1484.9 93.0,1485.0 93.5,1484.8 94.0,1484.9 94.5,1484.9 95.0,1484.9 95.5,1484.8 96.0,1485.0 96.5,1485.1 97.0,1485.0 97.5,1485.0 98.0,1484.7 98.5,1484.8 99.0,1484.9 99.5,1485.1 100.0,1485.1 100.5,1484.9 101.0,1484.8 101.5,1484.9 102.0,1484.6 102.5,1484.7 103.0,1484.6 103.5,1484.5 104.0,1484.4 104.5,1484.7 105.0,1484.5 105.5,1484.5 106.0,1484.6 106.5,1484.8 107.0,1484.6 107.5,1484.7 108.0,1484.7 108.5,1484.9 109.0,1485.0 109.5,1485.1 110.0,1484.9 110.5,1484.8 111.0,1484.7 111.5,1484.9 112.0,1485.1 112.5,1484.8 113.0,1484.7 113.5,1484.6 114.0,1484.5 114.5,1484.6 115.0,1484.7 115.5,1484.6 116.0,1484.5 116.5,1484.6 117.0,1484.6 117.5,1484.7 118.0,1485.0 118.5,1485.0 119.0,1484.9 119.5,1484.9 120.0,1485.0 120.5,1484.7 121.0,1484.9 121.5,1485.0 122.0,1485.1 122.5,1485.1 123.0,1484.9 123.5,1484.8 124.0,1484.6 124.5,1484.8 125.0,1484.6 125.5,1484.4 126.0,1484.4 126.5,1484.4 127.0,1484.5 127.5,1484.4 128.0,1484.3 128.5,1484.3 129.0,1484.3 129.5,1484.5 130.0,1484.4 130.5,1484.7 131.0,1484.8 131.5,1484.6 132.0,1484.6 132.5,1484.6 133.0,1484.6 133.5,1484.5 134.0,1484.8 134.5,1485.0 135.0,1484.9 135.5,1484.9 136.0,1484.6 136.5,1484.5 137.0,1484.5 137.5,1484.5 138.0,1484.8 138.5,1484.6 139.0,1484.5 139.5,1484.8 140.0,1484.8 140.5,1484.6 141.0,1484.7 141.5,1484.5 142.0,1484.6 142.5,1484.9 143.0,1485.0 143.5,1485.0 144.0,1484.8 144.5,1484.7 145.0,1484.6 145.5,1484.8 146.0,1484.8 146.5,1484.9 147.0,1484.8 147.5,1484.7 148.0,1484.9 148.5,1485.1 149.0,1485.1 149.5,1485.1 150.0,1485.1 150.5,1485.1 151.0,1484.9 151.5,1484.8 152.0,1484.7 152.5,1484.5 153.0,1484.4 153.5,1484.4 154.0,1484.5 154.5,1484.7 155.0,1484.9 155.5,1484.8 156.0,1485.0 156.5,1485.2 157.0,1485.2 157.5,1485.0 158.0,1484.8 158.5,1484.6 159.0,1484.5 159.5,1484.5 160.0,1484.6 160.5,1484.9 161.0,1485.0 161.5,1484.8 162.0,1484.8 162.5,1484.9 163.0,1484.5 163.5,1484.4 164.0,1484.2 164.5,1483.5 165.0,1482.1 165.5,1480.0 166.0,1477.4 166.5,1475.7 167.0,1474.8 167.5,1475.7 168.0,1477.8 168.5,1479.9 169.0,1481.8 169.5,1483.4 170.0,1484.2 170.5,1484.4 171.0,1484.4 171.5,1484.4 172.0,1484.7 172.5,1484.9 173.0,1484.6 173.5,1484.8 174.0,1485.0 174.5,1485.0 175.0,1484.8 175.5,1484.8 176.0,1484.6 176.5,1484.4 177.0,1484.8 177.5,1484.9 178.0,1484.8 178.5,1485.0 179.0,1484.9 179.5,1485.0 180.0,1485.1 180.5,1484.8 181.0,1484.7 181.5,1484.6 182.0,1484.6 182.5,1484.7 183.0,1484.6 183.5,1484.6 184.0,1484.5 184.5,1484.8 185.0,1484.7 185.5,1484.7 186.0,1484.8 186.5,1485.0 187.0,1484.9 187.5,1485.0 188.0,1484.9 188.5,1484.9 189.0,1484.8 189.5,1484.6 190.0,1484.6 190.5,1484.5 191.0,1484.4 191.5,1484.7 192.0,1484.6 192.5,1484.6 193.0,1484.8 193.5,1484.8 194.0,1484.7 194.5,1484.7 195.0,1484.8 195.5,1484.9 196.0,1484.7 196.5,1484.7 197.0,1484.6 197.5,1484.6 198.0,1484.8 198.5,1484.8 199.0,1484.8 199.5,1484.9 200.0,1485.0 200.5,1484.9 201.0,1484.9 201.5,1484.8 202.0,1484.8 202.5,1484.8 203.0,1484.7 203.5,1484.7 204.0,1484.6 204.5,1484.8 205.0,1484.7 205.5,1484.7 206.0,1484.6 206.5,1484.1 207.0,1483.8 207.5,1483.7 208.0,1483.3 208.5,1482.6 209.0,1481.9 209.5,1481.5 210.0,1480.8 210.5,1480.4 211.0,1479.9 211.5,1479.8 212.0,1479.9 212.5,1480.0 213.0,1479.9 213.5,1480.3 214.0,1480.7 214.5,1480.9 215.0,1481.6 215.5,1482.3 216.0,1482.5 216.5,1483.2 217.0,1483.4 217.5,1483.7 218.0,1484.2 218.5,1484.4 219.0,1484.3 219.5,1484.4 220.0,1484.5 220.5,1484.5 221.0,1484.4 221.5,1484.4 222.0,1484.7 222.5,1484.4 223.0,1484.6 223.5,1484.6 224.0,1484.4 224.5,1484.4 225.0,1484.6 225.5,1484.6 226.0,1484.4 226.5,1484.6 227.0,1484.7 227.5,1484.6 228.0,1484.1 228.5,1483.7 229.0,1483.1 229.5,1482.8 230.0,1482.2 230.5,1481.5 231.0,1481.1 231.5,1481.0 232.0,1481.0 232.5,1480.8 233.0,1481.0 233.5,1481.7 234.0,1482.2 234.5,1482.8 235.0,1483.1 235.5,1483.3 236.0,1483.9 236.5,1484.1 237.0,1484.2 237.5,1484.6 238.0,1484.7 238.5,1484.9 239.0,1484.6 239.5,1484.8 240.0,1484.6 240.5,1484.8 241.0,1484.7 241.5,1484.7 242.0,1484.7 242.5,1484.9 243.0,1484.7 243.5,1484.5 244.0,1484.6 244.5,1484.5 245.0,1484.4 245.5,1484.2 246.0,1484.1 246.5,1483.9 247.0,1483.8 247.5,1483.5 248.0,1483.4 248.5,1483.0 249.0,1482.8 249.5,1482.5 250.0,1482.6 250.5,1482.6 251.0,1483.0 251.5,1483.2 252.0,1483.8 252.5,1484.1 253.0,1484.1 253.5,1484.1 254.0,1484.3 254.5,1483.8 255.0,1483.7 255.5,1483.3 256.0,1483.0 256.5,1482.9 257.0,1482.7 257.5,1482.7 258.0,1483.0 258.5,1483.5 259.0,1483.6 259.5,1483.9 260.0,1484.0 260.5,1483.9 261.0,1483.5 261.5,1483.0 262.0,1482.2 262.5,1481.3 263.0,1480.2 263.5,1479.4 264.0,1478.0 264.5,1476.7 265.0,1475.4 265.5,1474.7 266.0,1474.2 266.5,1473.9 267.0,1473.9 267.5,1474.3 268.0,1475.1 268.5,1476.3 269.0,1477.5 269.5,1478.8 270.0,1480.0 270.5,1481.3 271.0,1482.4 271.5,1483.0 272.0,1483.4 272.5,1484.0 273.0,1484.1 273.5,1484.2 274.0,1484.1 274.5,1484.2 275.0,1484.3 275.5,1484.4 276.0,1484.3 276.5,1484.4 277.0,1484.1 277.5,1484.0 278.0,1483.8 278.5,1483.6 279.0,1483.2 279.5,1482.8 280.0,1482.5 280.5,1482.3 281.0,1482.4 281.5,1482.5 282.0,1482.8 282.5,1483.1 283.0,1483.3 283.5,1483.4 284.0,1483.2 284.5,1482.9 285.0,1482.9 285.5,1482.4 286.0,1482.4 286.5,1482.5 287.0,1482.5 287.5,1483.0 288.0,1483.4 288.5,1483.6 289.0,1483.8 289.5,1483.9 290.0,1483.5 290.5,1483.3 291.0,1482.7 291.5,1481.5 292.0,1478.5 292.5,1472.2 293.0,1460.9 293.5,1443.8 294.0,1421.6 294.5,1398.5 295.0,1381.2 295.5,1376.5 296.0,1386.5 296.5,1406.9 297.0,1430.2 297.5,1451.1 298.0,1465.9 298.5,1475.0 299.0,1479.9 299.5,1482.2 300.0,1483.1 300.5,1483.3 301.0,1483.8 301.5,1484.1 302.0,1484.1 302.5,1484.2 303.0,1484.3 303.5,1484.2 304.0,1484.4 304.5,1484.3 305.0,1484.2 305.5,1484.2 306.0,1484.4 306.5,1484.3 307.0,1484.6 307.5,1484.8 308.0,1484.7 308.5,1484.6 309.0,1484.6 309.5,1484.7 310.0,1484.8 310.5,1484.8 311.0,1484.8 311.5,1484.6 312.0,1484.4 312.5,1484.4 313.0,1484.6 313.5,1484.6 314.0,1484.7 314.5,1484.4 315.0,1484.3 315.5,1484.4 316.0,1484.6 316.5,1484.7 317.0,1484.8 317.5,1484.7 318.0,1484.7 318.5,1484.7 319.0,1484.7 319.5,1484.5 320.0,1484.8 320.5,1484.6 321.0,1484.9 321.5,1485.1 322.0,1484.7 322.5,1484.7 323.0,1484.9 323.5,1485.1 324.0,1484.9 324.5,1484.7 325.0,1484.6 325.5,1484.9 326.0,1484.7 326.5,1484.8 327.0,1484.6 327.5,1484.7 328.0,1484.9 328.5,1484.7 329.0,1484.9 329.5,1484.8 330.0,1485.0 330.5,1485.0 331.0,1484.8 331.5,1485.0 332.0,1484.9 332.5,1484.6 333.0,1484.4 333.5,1484.6 334.0,1484.6 334.5,1484.6 335.0,1484.5 335.5,1484.5 336.0,1484.5 336.5,1484.8 337.0,1484.6 337.5,1484.8 338.0,1484.9 338.5,1484.7 339.0,1484.9 339.5,1485.0 340.0,1485.1 340.5,1484.9 341.0,1484.8 341.5,1484.7 342.0,1485.0 342.5,1484.9 343.0,1484.8 343.5,1484.8 344.0,1484.7 344.5,1484.5 345.0,1484.4 345.5,1484.7 346.0,1484.6 346.5,1484.9 347.0,1484.7 347.5,1484.6 348.0,1484.7 348.5,1484.6 349.0,1484.6 349.5,1484.9 350.0,1485.0 350.5,1485.1 351.0,1485.0 351.5,1485.1 352.0,1485.2 352.5,1485.1 353.0,1485.1 353.5,1484.7 354.0,1484.9 354.5,1484.8 355.0,1484.9 355.5,1484.9 356.0,1484.8 356.5,1484.6 357.0,1484.9 357.5,1484.7 358.0,1484.7 358.5,1484.7 359.0,1484.6 359.5,1484.8 360.0,1485.0 360.5,1484.8 361.0,1484.9 361.5,1484.7 362.0,1484.8 362.5,1484.7 363.0,1484.6 363.5,1484.5 364.0,1484.5 364.5,1484.8 365.0,1484.8 365.5,1484.7 366.0,1484.9 366.5,1485.1 367.0,1485.0 367.5,1484.7 368.0,1484.6 368.5,1484.5 369.0,1484.5 369.5,1484.4 370.0,1484.5 370.5,1484.5 371.0,1484.6 371.5,1484.9 372.0,1485.0 372.5,1484.9 373.0,1484.8 373.5,1484.8 374.0,1484.7 374.5,1484.7 375.0,1484.5 375.5,1484.5 376.0,1484.9 376.5,1484.6 377.0,1484.7 377.5,1484.8 378.0,1485.0 378.5,1484.8 379.0,1484.7 379.5,1484.6 380.0,1484.6 380.5,1484.7 381.0,1484.9 381.5,1485.0 382.0,1485.1 382.5,1484.8 383.0,1484.5 383.5,1484.7 384.0,1485.0 384.5,1484.9 385.0,1484.9 385.5,1484.6 386.0,1484.6 386.5,1484.9 387.0,1485.0 387.5,1485.1 388.0,1485.2 388.5,1484.9 389.0,1484.7 389.5,1484.5 390.0,1484.6 390.5,1484.8 391.0,1485.0 391.5,1485.0 392.0,1485.0 392.5,1485.0 393.0,1484.9 393.5,1484.8 394.0,1484.5 394.5,1484.7 395.0,1484.4 395.5,1484.3 396.0,1483.7 396.5,1482.7 397.0,1481.5 397.5,1480.6 398.0,1480.2 398.5,1480.6 399.0,1481.2 399.5,1482.0 400.0,1483.1 400.5,1483.9 401.0,1484.3 401.5,1484.4 402.0,1484.6 402.5,1484.5 403.0,1484.5 403.5,1484.6 404.0,1484.9 404.5,1484.9 405.0,1485.0 405.5,1484.9 406.0,1484.7 406.5,1484.6 407.0,1484.9 407.5,1485.0 408.0,1484.8 408.5,1484.6 409.0,1484.7 409.5,1484.8 410.0,1484.8 410.5,1484.6 411.0,1484.8 411.5,1485.0 412.0,1484.8 412.5,1484.6 413.0,1484.6 413.5,1484.6 414.0,1484.8 414.5,1484.6 415.0,1484.8 415.5,1484.9 416.0,1484.9 416.5,1484.7 417.0,1485.0 417.5,1484.8 418.0,1485.0 418.5,1484.8 419.0,1484.6 419.5,1484.8 420.0,1484.7 420.5,1485.0 421.0,1484.9 421.5,1484.7 422.0,1484.6 422.5,1484.6 423.0,1484.8 423.5,1485.0 424.0,1484.7 424.5,1484.7 425.0,1484.6 425.5,1484.9 426.0,1484.7 426.5,1484.5 427.0,1484.4 427.5,1484.5 428.0,1484.8 428.5,1485.0 429.0,1485.0 429.5,1485.2 430.0,1485.2 430.5,1485.0 431.0,1484.8 431.5,1485.0 432.0,1485.0 432.5,1484.7 433.0,1484.8 433.5,1484.8 434.0,1484.7 434.5,1484.7 435.0,1484.6 435.5,1484.4 436.0,1484.5 436.5,1484.5 437.0,1484.8 437.5,1484.6 438.0,1484.9 438.5,1484.7 439.0,1484.7 439.5,1484.9 440.0,1485.0 440.5,1484.9 441.0,1484.6 441.5,1484.7 442.0,1484.7 442.5,1484.9 443.0,1484.7 443.5,1484.7 444.0,1484.9 444.5,1484.6 445.0,1484.7 445.5,1484.9 446.0,1485.0 446.5,1484.7 447.0,1484.5 447.5,1484.4 448.0,1484.8 448.5,1484.7 449.0,1484.8 449.5,1485.0 450.0,1484.8 450.5,1484.7 451.0,1485.0 451.5,1485.0 452.0,1484.8 452.5,1484.9 453.0,1484.8 453.5,1484.7 454.0,1484.5 454.5,1484.7 455.0,1485.0 455.5,1485.0 456.0,1485.1 456.5,1484.7 457.0,1484.6 457.5,1484.7 458.0,1484.9 458.5,1485.1 459.0,1484.9 459.5,1484.8 460.0,1484.7 460.5,1484.8 461.0,1485.0 461.5,1484.7 462.0,1484.9 462.5,1485.0 463.0,1485.1 463.5,1485.1 464.0,1485.0 464.5,1484.8 465.0,1484.7 465.5,1484.7 466.0,1484.9 466.5,1484.6 467.0,1484.5 467.5,1484.8 468.0,1484.6 468.5,1484.5 469.0,1484.4 469.5,1484.6 470.0,1484.6 470.5,1484.9 471.0,1485.0 471.5,1485.2 472.0,1484.9 472.5,1484.6 473.0,1484.5 473.5,1484.6 474.0,1484.8 474.5,1484.7 475.0,1484.6 475.5,1484.6 476.0,1484.7 476.5,1484.8 477.0,1484.9 477.5,1485.0 478.0,1485.0 478.5,1484.7 479.0,1484.9 479.5,1484.7 480.0,1484.7 480.5,1484.7 481.0,1484.8 481.5,1484.6 482.0,1484.5 482.5,1484.4 483.0,1484.3 483.5,1484.6 484.0,1484.5 484.5,1484.1 485.0,1483.7 485.5,1483.2 486.0,1482.0 486.5,1480.3 487.0,1478.4 487.5,1476.2 488.0,1474.3 488.5,1472.4 489.0,1471.8 489.5,1472.5 490.0,1474.2 490.5,1476.4 491.0,1478.3 491.5,1480.2 492.0,1481.7 492.5,1482.7 493.0,1483.8 493.5,1484.3 494.0,1484.7 494.5,1484.6 495.0,1484.8 495.5,1484.8 496.0,1484.6 496.5,1484.8 497.0,1485.0 497.5,1484.7 498.0,1484.8 498.5,1484.8 499.0,1484.6 499.5,1484.6 500.0,1484.5 500.5,1484.5 501.0,1484.5 501.5,1484.6 502.0,1484.8 502.5,1484.6 503.0,1484.4 503.5,1484.5 504.0,1484.7 504.5,1484.6 505.0,1484.6 505.5,1484.5 506.0,1484.8 506.5,1484.8 507.0,1484.6 507.5,1484.5 508.0,1484.5 508.5,1484.7 509.0,1484.8 509.5,1484.6 510.0,1484.5 510.5,1484.7 511.0,1484.7 511.5,1484.6 512.0,1484.6 512.5,1484.9 513.0,1484.8 513.5,1484.8 514.0,1484.7 514.5,1484.7 515.0,1484.9 515.5,1485.1 516.0,1484.9 516.5,1484.7 517.0,1484.9 517.5,1484.7 518.0,1484.5 518.5,1484.8 519.0,1484.8 519.5,1484.9 520.0,1484.8 520.5,1485.0 521.0,1484.9 521.5,1484.7 522.0,1484.5 522.5,1484.6 523.0,1484.8 523.5,1485.0 524.0,1484.7 524.5,1484.8 525.0,1484.7 525.5,1484.8 526.0,1484.6 526.5,1484.6 527.0,1484.7 527.5,1484.9 528.0,1484.7 528.5,1484.7 529.0,1484.9 529.5,1485.1 530.0,1484.8 530.5,1484.6 531.0,1484.9 531.5,1485.1 532.0,1485.0 532.5,1484.7 533.0,1484.9 533.5,1484.8 534.0,1485.0 534.5,1485.0 535.0,1485.1 535.5,1484.8 536.0,1484.9 536.5,1484.7 537.0,1484.7 537.5,1484.9 538.0,1485.0 538.5,1484.8 539.0,1484.6 539.5,1484.6 540.0,1484.5 540.5,1484.4 541.0,1484.0 541.5,1483.8 542.0,1483.8 542.5,1484.0 543.0,1483.8 543.5,1484.1 544.0,1484.4 544.5,1484.4 545.0,1484.7 545.5,1484.6 546.0,1484.7 546.5,1484.8 547.0,1484.8 547.5,1484.7 548.0,1484.7 548.5,1484.8 549.0,1484.8 549.5,1484.8 550.0,1484.8 550.5,1484.8 551.0,1484.5 551.5,1484.7 552.0,1484.7 552.5,1484.6 553.0,1484.8 553.5,1484.9 554.0,1484.9 554.5,1484.7 555.0,1484.7 555.5,1484.6 556.0,1484.5 556.5,1484.6 557.0,1484.5 557.5,1484.6 558.0,1484.6 558.5,1484.5 559.0,1484.6 559.5,1484.4 560.0,1484.5 560.5,1484.5 561.0,1484.2 561.5,1483.6 562.0,1483.4 562.5,1483.2 563.0,1483.5 563.5,1483.5 564.0,1484.1 564.5,1484.6 565.0,1484.8 565.5,1485.0 566.0,1484.8 566.5,1485.0 567.0,1484.9 567.5,1485.1 568.0,1485.2 568.5,1484.9 569.0,1485.0 569.5,1485.1 570.0,1484.8 570.5,1484.7 571.0,1484.9 571.5,1484.7 572.0,1484.9 572.5,1484.7 573.0,1484.9 573.5,1484.7 574.0,1484.7 574.5,1484.9 575.0,1484.7 575.5,1484.5 576.0,1484.5 576.5,1484.2 577.0,1483.7 577.5,1483.4 578.0,1483.0 578.5,1483.3 579.0,1483.5 579.5,1483.9 580.0,1483.9 580.5,1484.2 581.0,1483.9 581.5,1483.7 582.0,1483.6 582.5,1483.3 583.0,1483.4 583.5,1483.6 584.0,1483.9 584.5,1484.4 585.0,1484.4 585.5,1484.8 586.0,1484.9 586.5,1484.8 587.0,1484.9 587.5,1484.8 588.0,1485.0 588.5,1485.0 589.0,1484.8 589.5,1484.9 590.0,1484.9 590.5,1484.7 591.0,1484.8 591.5,1484.6 592.0,1484.8 592.5,1484.7 593.0,1484.8 593.5,1485.0 594.0,1485.0 594.5,1485.0 595.0,1484.8 595.5,1484.6 596.0,1484.4 596.5,1484.4 597.0,1484.6 597.5,1484.7 598.0,1484.7 598.5,1484.9 599.0,1484.7 599.5,1484.6 600.0,1484.8 600.5,1484.5 601.0,1484.4 601.5,1484.5 602.0,1484.4 602.5,1484.5 603.0,1484.5 603.5,1484.7 604.0,1484.8 604.5,1484.6 605.0,1484.8 605.5,1484.8 606.0,1484.6 606.5,1484.9 607.0,1484.7 607.5,1484.6 608.0,1484.5 608.5,1484.7 609.0,1484.9 609.5,1485.0 610.0,1484.9 610.5,1484.7 611.0,1484.5 611.5,1484.7 612.0,1484.8 612.5,1484.7 613.0,1484.8 613.5,1484.8 614.0,1485.0 614.5,1485.0 615.0,1484.8 615.5,1485.0 616.0,1484.7 616.5,1484.8 617.0,1484.7 617.5,1484.6 618.0,1484.5 618.5,1484.7 619.0,1484.5 619.5,1484.7 620.0,1484.9 620.5,1484.7 621.0,1484.6 621.5,1484.7 622.0,1484.8 622.5,1484.8 623.0,1485.0 623.5,1484.7 624.0,1484.7 624.5,1484.6 625.0,1484.5 625.5,1484.8 626.0,1484.9 626.5,1485.0 627.0,1484.7 627.5,1484.9 628.0,1485.0 628.5,1484.9 629.0,1485.0 629.5,1484.9 630.0,1484.7 630.5,1484.6 631.0,1484.5 631.5,1484.4 632.0,1484.5 632.5,1484.7 633.0,1484.9 633.5,1485.0 634.0,1485.0 634.5,1484.8 635.0,1484.8" fill="none" stroke="#7e2470" stroke-width="1.9" stroke-linejoin="round"/>
<path d="M168.00 114.20L174.00 121.30L168.00 128.40L162.00 121.30Z" fill="#000"/>
<path transform="translate(214.50 121.40) scale(13.80 14.60)" d="M0 -0.5C0.12 -0.33 0.5 -0.06 0.5 0.17C0.5 0.33 0.36 0.4 0.22 0.4C0.14 0.4 0.08 0.35 0.05 0.3L0.1 0.5L-0.1 0.5L-0.05 0.3C-0.08 0.35 -0.14 0.4 -0.22 0.4C-0.36 0.4 -0.5 0.33 -0.5 0.17C-0.5 -0.06 -0.12 -0.33 0 -0.5Z" fill="#000"/>
<path transform="translate(269.10 116.30) scale(13.80 14.60)" d="M0 -0.5C0.12 -0.33 0.5 -0.06 0.5 0.17C0.5 0.33 0.36 0.4 0.22 0.4C0.14 0.4 0.08 0.35 0.05 0.3L0.1 0.5L-0.1 0.5L-0.05 0.3C-0.08 0.35 -0.14 0.4 -0.22 0.4C-0.36 0.4 -0.5 0.33 -0.5 0.17C-0.5 -0.06 -0.12 -0.33 0 -0.5Z" fill="#000"/>
<path d="M285.70 114.30L292.50 131.30L278.90 131.30ZM285.16 118.61L280.68 129.80L289.64 129.80Z" fill="#141414" fill-rule="evenodd"/>
<path d="M298.20 17.40L304.20 24.50L298.20 31.60L292.20 24.50Z" fill="#000"/>
<path d="M400.30 119.60L406.30 126.70L400.30 133.80L394.30 126.70Z" fill="#000"/>
<path transform="translate(423.70 127.80) scale(13.50 14.00)" d="M0 0.5C-0.14 0.3 -0.5 0.06 -0.5 -0.2C-0.5 -0.4 -0.36 -0.5 -0.24 -0.5C-0.1 -0.5 -0.02 -0.4 0 -0.3C0.02 -0.4 0.1 -0.5 0.24 -0.5C0.36 -0.5 0.5 -0.4 0.5 -0.2C0.5 0.06 0.14 0.3 0 0.5Z" fill="#000"/>
<path d="M491.50 105.60L497.50 112.70L491.50 119.80L485.50 112.70Z" fill="#000"/>
<path d="M578.50 117.20L584.50 124.30L578.50 131.40L572.50 124.30Z" fill="#000"/>
<path transform="translate(118.80 269.10) scale(13.50 14.00)" d="M0 0.5C-0.14 0.3 -0.5 0.06 -0.5 -0.2C-0.5 -0.4 -0.36 -0.5 -0.24 -0.5C-0.1 -0.5 -0.02 -0.4 0 -0.3C0.02 -0.4 0.1 -0.5 0.24 -0.5C0.36 -0.5 0.5 -0.4 0.5 -0.2C0.5 0.06 0.14 0.3 0 0.5Z" fill="#000"/>
<path d="M170.50 258.20L176.50 265.30L170.50 272.40L164.50 265.30Z" fill="#000"/>
<path transform="translate(215.50 265.60) scale(13.80 14.60)" d="M0 -0.5C0.12 -0.33 0.5 -0.06 0.5 0.17C0.5 0.33 0.36 0.4 0.22 0.4C0.14 0.4 0.08 0.35 0.05 0.3L0.1 0.5L-0.1 0.5L-0.05 0.3C-0.08 0.35 -0.14 0.4 -0.22 0.4C-0.36 0.4 -0.5 0.33 -0.5 0.17C-0.5 -0.06 -0.12 -0.33 0 -0.5Z" fill="#000"/>
<circle cx="271.40" cy="268.10" r="4.60" fill="#000"/>
<path d="M288.00 254.40L293.20 262.70L288.00 271.00L282.80 262.70Z" fill="none" stroke="#222" stroke-width="1.5" stroke-linejoin="miter"/>
<path d="M298.60 155.40L304.60 162.50L298.60 169.60L292.60 162.50Z" fill="#000"/>
<path d="M400.90 262.40L406.90 269.50L400.90 276.60L394.90 269.50Z" fill="#000"/>
<path transform="translate(424.20 268.60) scale(13.50 14.00)" d="M0 0.5C-0.14 0.3 -0.5 0.06 -0.5 -0.2C-0.5 -0.4 -0.36 -0.5 -0.24 -0.5C-0.1 -0.5 -0.02 -0.4 0 -0.3C0.02 -0.4 0.1 -0.5 0.24 -0.5C0.36 -0.5 0.5 -0.4 0.5 -0.2C0.5 0.06 0.14 0.3 0 0.5Z" fill="#000"/>
<path d="M492.30 262.60L498.30 269.70L492.30 276.80L486.30 269.70Z" fill="#000"/>
<path d="M579.70 261.90L585.70 269.00L579.70 276.10L573.70 269.00Z" fill="#000"/>
<path d="M170.10 392.30L176.10 399.40L170.10 406.50L164.10 399.40Z" fill="#000"/>
<path transform="translate(214.00 409.20) scale(13.80 14.60)" d="M0 -0.5C0.12 -0.33 0.5 -0.06 0.5 0.17C0.5 0.33 0.36 0.4 0.22 0.4C0.14 0.4 0.08 0.35 0.05 0.3L0.1 0.5L-0.1 0.5L-0.05 0.3C-0.08 0.35 -0.14 0.4 -0.22 0.4C-0.36 0.4 -0.5 0.33 -0.5 0.17C-0.5 -0.06 -0.12 -0.33 0 -0.5Z" fill="#000"/>
<g transform="translate(286.60 410.50) scale(14.50 15.00)" fill="#000"><ellipse cx="0" cy="-0.29" rx="0.225" ry="0.215"/><ellipse cx="-0.27" cy="0.09" rx="0.23" ry="0.19" transform="rotate(-8 -0.27 0.09)"/><ellipse cx="0.27" cy="0.09" rx="0.23" ry="0.19" transform="rotate(8 0.27 0.09)"/><path d="M-0.2 0.02L0.2 0.02L0 -0.2Z"/><path d="M-0.05 -0.1L0.05 -0.1L0.04 0.36L0.12 0.5L-0.12 0.5L-0.04 0.36Z"/></g>
<path d="M299.60 296.10L305.60 303.20L299.60 310.30L293.60 303.20Z" fill="#000"/>
<path d="M402.30 403.40L408.30 410.50L402.30 417.60L396.30 410.50Z" fill="#000"/>
<path transform="translate(423.00 411.90) scale(13.50 14.00)" d="M0 0.5C-0.14 0.3 -0.5 0.06 -0.5 -0.2C-0.5 -0.4 -0.36 -0.5 -0.24 -0.5C-0.1 -0.5 -0.02 -0.4 0 -0.3C0.02 -0.4 0.1 -0.5 0.24 -0.5C0.36 -0.5 0.5 -0.4 0.5 -0.2C0.5 0.06 0.14 0.3 0 0.5Z" fill="#000"/>
<path d="M492.60 392.20L498.60 399.30L492.60 406.40L486.60 399.30Z" fill="#000"/>
<path d="M167.00 640.20L173.00 647.30L167.00 654.40L161.00 647.30Z" fill="#000"/>
<path transform="translate(213.50 649.70) scale(13.80 14.60)" d="M0 -0.5C0.12 -0.33 0.5 -0.06 0.5 0.17C0.5 0.33 0.36 0.4 0.22 0.4C0.14 0.4 0.08 0.35 0.05 0.3L0.1 0.5L-0.1 0.5L-0.05 0.3C-0.08 0.35 -0.14 0.4 -0.22 0.4C-0.36 0.4 -0.5 0.33 -0.5 0.17C-0.5 -0.06 -0.12 -0.33 0 -0.5Z" fill="#000"/>
<circle cx="266.50" cy="643.00" r="4.60" fill="#000"/>
<path d="M285.00 642.30L290.20 650.60L285.00 658.90L279.80 650.60Z" fill="none" stroke="#222" stroke-width="1.5" stroke-linejoin="miter"/>
<path d="M295.80 548.10L301.80 555.20L295.80 562.30L289.80 555.20Z" fill="#000"/>
<path d="M397.80 645.90L403.80 653.00L397.80 660.10L391.80 653.00Z" fill="#000"/>
<path transform="translate(421.00 654.00) scale(13.50 14.00)" d="M0 0.5C-0.14 0.3 -0.5 0.06 -0.5 -0.2C-0.5 -0.4 -0.36 -0.5 -0.24 -0.5C-0.1 -0.5 -0.02 -0.4 0 -0.3C0.02 -0.4 0.1 -0.5 0.24 -0.5C0.36 -0.5 0.5 -0.4 0.5 -0.2C0.5 0.06 0.14 0.3 0 0.5Z" fill="#000"/>
<path d="M489.90 634.20L495.90 641.30L489.90 648.40L483.90 641.30Z" fill="#000"/>
<path d="M166.20 784.10L172.20 791.20L166.20 798.30L160.20 791.20Z" fill="#000"/>
<path transform="translate(211.40 793.90) scale(13.80 14.60)" d="M0 -0.5C0.12 -0.33 0.5 -0.06 0.5 0.17C0.5 0.33 0.36 0.4 0.22 0.4C0.14 0.4 0.08 0.35 0.05 0.3L0.1 0.5L-0.1 0.5L-0.05 0.3C-0.08 0.35 -0.14 0.4 -0.22 0.4C-0.36 0.4 -0.5 0.33 -0.5 0.17C-0.5 -0.06 -0.12 -0.33 0 -0.5Z" fill="#000"/>
<g transform="translate(229.00 793.80) scale(14.50 15.00)" fill="#000"><ellipse cx="0" cy="-0.29" rx="0.225" ry="0.215"/><ellipse cx="-0.27" cy="0.09" rx="0.23" ry="0.19" transform="rotate(-8 -0.27 0.09)"/><ellipse cx="0.27" cy="0.09" rx="0.23" ry="0.19" transform="rotate(8 0.27 0.09)"/><path d="M-0.2 0.02L0.2 0.02L0 -0.2Z"/><path d="M-0.05 -0.1L0.05 -0.1L0.04 0.36L0.12 0.5L-0.12 0.5L-0.04 0.36Z"/></g>
<path transform="translate(268.30 786.70) scale(13.80 14.60)" d="M0 -0.5C0.12 -0.33 0.5 -0.06 0.5 0.17C0.5 0.33 0.36 0.4 0.22 0.4C0.14 0.4 0.08 0.35 0.05 0.3L0.1 0.5L-0.1 0.5L-0.05 0.3C-0.08 0.35 -0.14 0.4 -0.22 0.4C-0.36 0.4 -0.5 0.33 -0.5 0.17C-0.5 -0.06 -0.12 -0.33 0 -0.5Z" fill="#000"/>
<path d="M284.10 776.90L289.30 785.20L284.10 793.50L278.90 785.20Z" fill="none" stroke="#222" stroke-width="1.5" stroke-linejoin="miter"/>
<path d="M295.40 684.10L301.40 691.20L295.40 698.30L289.40 691.20Z" fill="#000"/>
<path d="M398.10 788.10L404.10 795.20L398.10 802.30L392.10 795.20Z" fill="#000"/>
<path transform="translate(421.00 795.20) scale(13.50 14.00)" d="M0 0.5C-0.14 0.3 -0.5 0.06 -0.5 -0.2C-0.5 -0.4 -0.36 -0.5 -0.24 -0.5C-0.1 -0.5 -0.02 -0.4 0 -0.3C0.02 -0.4 0.1 -0.5 0.24 -0.5C0.36 -0.5 0.5 -0.4 0.5 -0.2C0.5 0.06 0.14 0.3 0 0.5Z" fill="#000"/>
<path d="M488.70 775.50L494.70 782.60L488.70 789.70L482.70 782.60Z" fill="#000"/>
<path d="M167.90 923.70L173.90 930.80L167.90 937.90L161.90 930.80Z" fill="#000"/>
<path transform="translate(211.40 932.10) scale(13.80 14.60)" d="M0 -0.5C0.12 -0.33 0.5 -0.06 0.5 0.17C0.5 0.33 0.36 0.4 0.22 0.4C0.14 0.4 0.08 0.35 0.05 0.3L0.1 0.5L-0.1 0.5L-0.05 0.3C-0.08 0.35 -0.14 0.4 -0.22 0.4C-0.36 0.4 -0.5 0.33 -0.5 0.17C-0.5 -0.06 -0.12 -0.33 0 -0.5Z" fill="#000"/>
<circle cx="266.70" cy="917.90" r="4.60" fill="#000"/>
<path d="M285.70 924.90L290.90 933.20L285.70 941.50L280.50 933.20Z" fill="none" stroke="#222" stroke-width="1.5" stroke-linejoin="miter"/>
<path d="M296.00 824.10L302.00 831.20L296.00 838.30L290.00 831.20Z" fill="#000"/>
<path d="M398.60 931.20L404.60 938.30L398.60 945.40L392.60 938.30Z" fill="#000"/>
<path transform="translate(421.70 937.50) scale(13.50 14.00)" d="M0 0.5C-0.14 0.3 -0.5 0.06 -0.5 -0.2C-0.5 -0.4 -0.36 -0.5 -0.24 -0.5C-0.1 -0.5 -0.02 -0.4 0 -0.3C0.02 -0.4 0.1 -0.5 0.24 -0.5C0.36 -0.5 0.5 -0.4 0.5 -0.2C0.5 0.06 0.14 0.3 0 0.5Z" fill="#000"/>
<path d="M491.00 919.80L497.00 926.90L491.00 934.00L485.00 926.90Z" fill="#000"/>
<path d="M166.90 1168.40L172.90 1175.50L166.90 1182.60L160.90 1175.50Z" fill="#000"/>
<path transform="translate(214.50 1177.40) scale(13.80 14.60)" d="M0 -0.5C0.12 -0.33 0.5 -0.06 0.5 0.17C0.5 0.33 0.36 0.4 0.22 0.4C0.14 0.4 0.08 0.35 0.05 0.3L0.1 0.5L-0.1 0.5L-0.05 0.3C-0.08 0.35 -0.14 0.4 -0.22 0.4C-0.36 0.4 -0.5 0.33 -0.5 0.17C-0.5 -0.06 -0.12 -0.33 0 -0.5Z" fill="#000"/>
<path transform="translate(267.10 1152.90) scale(13.80 14.60)" d="M0 -0.5C0.12 -0.33 0.5 -0.06 0.5 0.17C0.5 0.33 0.36 0.4 0.22 0.4C0.14 0.4 0.08 0.35 0.05 0.3L0.1 0.5L-0.1 0.5L-0.05 0.3C-0.08 0.35 -0.14 0.4 -0.22 0.4C-0.36 0.4 -0.5 0.33 -0.5 0.17C-0.5 -0.06 -0.12 -0.33 0 -0.5Z" fill="#000"/>
<circle cx="287.30" cy="1173.70" r="4.60" fill="#000"/>
<path d="M296.40 1075.90L302.40 1083.00L296.40 1090.10L290.40 1083.00Z" fill="#000"/>
<path transform="translate(358.50 1181.50) scale(13.80 14.60)" d="M0 -0.5C0.12 -0.33 0.5 -0.06 0.5 0.17C0.5 0.33 0.36 0.4 0.22 0.4C0.14 0.4 0.08 0.35 0.05 0.3L0.1 0.5L-0.1 0.5L-0.05 0.3C-0.08 0.35 -0.14 0.4 -0.22 0.4C-0.36 0.4 -0.5 0.33 -0.5 0.17C-0.5 -0.06 -0.12 -0.33 0 -0.5Z" fill="#000"/>
<path d="M398.20 1172.10L404.20 1179.20L398.20 1186.30L392.20 1179.20Z" fill="#000"/>
<path transform="translate(421.60 1185.20) scale(13.50 14.00)" d="M0 0.5C-0.14 0.3 -0.5 0.06 -0.5 -0.2C-0.5 -0.4 -0.36 -0.5 -0.24 -0.5C-0.1 -0.5 -0.02 -0.4 0 -0.3C0.02 -0.4 0.1 -0.5 0.24 -0.5C0.36 -0.5 0.5 -0.4 0.5 -0.2C0.5 0.06 0.14 0.3 0 0.5Z" fill="#000"/>
<path d="M489.10 1155.30L495.10 1162.40L489.10 1169.50L483.10 1162.40Z" fill="#000"/>
<path d="M169.30 1312.20L175.30 1319.30L169.30 1326.40L163.30 1319.30Z" fill="#000"/>
<path transform="translate(215.20 1322.30) scale(13.80 14.60)" d="M0 -0.5C0.12 -0.33 0.5 -0.06 0.5 0.17C0.5 0.33 0.36 0.4 0.22 0.4C0.14 0.4 0.08 0.35 0.05 0.3L0.1 0.5L-0.1 0.5L-0.05 0.3C-0.08 0.35 -0.14 0.4 -0.22 0.4C-0.36 0.4 -0.5 0.33 -0.5 0.17C-0.5 -0.06 -0.12 -0.33 0 -0.5Z" fill="#000"/>
<circle cx="234.00" cy="1333.00" r="4.60" fill="#000"/>
<path transform="translate(269.00 1314.90) scale(13.80 14.60)" d="M0 -0.5C0.12 -0.33 0.5 -0.06 0.5 0.17C0.5 0.33 0.36 0.4 0.22 0.4C0.14 0.4 0.08 0.35 0.05 0.3L0.1 0.5L-0.1 0.5L-0.05 0.3C-0.08 0.35 -0.14 0.4 -0.22 0.4C-0.36 0.4 -0.5 0.33 -0.5 0.17C-0.5 -0.06 -0.12 -0.33 0 -0.5Z" fill="#000"/>
<path d="M297.60 1217.70L303.60 1224.80L297.60 1231.90L291.60 1224.80Z" fill="#000"/>
<path d="M491.00 1307.70L497.00 1314.80L491.00 1321.90L485.00 1314.80Z" fill="#000"/>
<path d="M167.80 1458.50L173.80 1465.60L167.80 1472.70L161.80 1465.60Z" fill="#000"/>
<circle cx="212.00" cy="1473.00" r="4.60" fill="#000"/>
<g transform="translate(232.00 1466.90) scale(14.50 15.00)" fill="#000"><ellipse cx="0" cy="-0.29" rx="0.225" ry="0.215"/><ellipse cx="-0.27" cy="0.09" rx="0.23" ry="0.19" transform="rotate(-8 -0.27 0.09)"/><ellipse cx="0.27" cy="0.09" rx="0.23" ry="0.19" transform="rotate(8 0.27 0.09)"/><path d="M-0.2 0.02L0.2 0.02L0 -0.2Z"/><path d="M-0.05 -0.1L0.05 -0.1L0.04 0.36L0.12 0.5L-0.12 0.5L-0.04 0.36Z"/></g>
<path transform="translate(267.70 1462.00) scale(13.80 14.60)" d="M0 -0.5C0.12 -0.33 0.5 -0.06 0.5 0.17C0.5 0.33 0.36 0.4 0.22 0.4C0.14 0.4 0.08 0.35 0.05 0.3L0.1 0.5L-0.1 0.5L-0.05 0.3C-0.08 0.35 -0.14 0.4 -0.22 0.4C-0.36 0.4 -0.5 0.33 -0.5 0.17C-0.5 -0.06 -0.12 -0.33 0 -0.5Z" fill="#000"/>
<path d="M295.50 1358.90L301.50 1366.00L295.50 1373.10L289.50 1366.00Z" fill="#000"/>
<path d="M398.00 1463.30L404.00 1470.40L398.00 1477.50L392.00 1470.40Z" fill="#000"/>
<path d="M489.90 1454.70L495.90 1461.80L489.90 1468.90L483.90 1461.80Z" fill="#000"/>
<line x1="64.5" y1="34.6" x2="125" y2="34.6" stroke="#2222a0" stroke-width="2"/><text x="131.5" y="43.3" font-size="26.5" fill="#141414">#3</text>
<line x1="64.5" y1="167" x2="125" y2="167" stroke="#dc1e1e" stroke-width="2"/><text x="130.3" y="175.5" font-size="26.5" fill="#141414">#2</text>
<line x1="64.5" y1="308.2" x2="125" y2="308.2" stroke="#111111" stroke-width="2"/><text x="130.3" y="317.4" font-size="26.5" fill="#141414">#1</text>
<line x1="62.5" y1="560.9" x2="123" y2="560.9" stroke="#a9c262" stroke-width="2"/><text x="128.3" y="568.7" font-size="26.5" fill="#141414">#6</text>
<line x1="62.5" y1="702.7" x2="123" y2="702.7" stroke="#d42cc4" stroke-width="2"/><text x="128.3" y="711.1" font-size="26.5" fill="#141414">#5</text>
<line x1="62.5" y1="844.2" x2="123" y2="844.2" stroke="#10d6dc" stroke-width="2"/><text x="128.3" y="853.4" font-size="26.5" fill="#141414">#4</text>
<line x1="64" y1="1091.9" x2="124.2" y2="1091.9" stroke="#bd7a36" stroke-width="2"/><text x="129.7" y="1100.2" font-size="26.5" fill="#141414">#9</text>
<line x1="64" y1="1233.8" x2="124.2" y2="1233.8" stroke="#1a7c7c" stroke-width="2"/><text x="129.7" y="1242.5" font-size="26.5" fill="#141414">#8</text>
<line x1="64" y1="1375.6" x2="124.2" y2="1375.6" stroke="#7e2470" stroke-width="2"/><text x="129.7" y="1384.7" font-size="26.5" fill="#141414">#7</text>
<path d="M352.70 33.10L357.95 39.10L352.70 45.10L347.45 39.10Z" fill="#000"/>
<text x="368" y="44.5" font-size="23" fill="#141414"><tspan>Al</tspan><tspan font-size="15" dy="6.5">0.9</tspan><tspan dy="-6.5">Ni</tspan><tspan font-size="15" dy="6.5">1.1</tspan></text>
<path transform="translate(469.00 39.00) scale(11.50 11.50)" d="M0 0.5C-0.14 0.3 -0.5 0.06 -0.5 -0.2C-0.5 -0.4 -0.36 -0.5 -0.24 -0.5C-0.1 -0.5 -0.02 -0.4 0 -0.3C0.02 -0.4 0.1 -0.5 0.24 -0.5C0.36 -0.5 0.5 -0.4 0.5 -0.2C0.5 0.06 0.14 0.3 0 0.5Z" fill="#000"/>
<text x="484.3" y="44.5" font-size="23" fill="#141414"><tspan>Al</tspan><tspan font-size="15" dy="6.5">2</tspan><tspan dy="-6.5">O</tspan><tspan font-size="15" dy="6.5">3</tspan></text>
<path d="M350.90 64.80L357.60 79.80L344.20 79.80ZM350.41 68.36L345.92 78.40L354.89 78.40Z" fill="#141414" fill-rule="evenodd"/>
<text x="363" y="79.7" font-size="23" fill="#141414"><tspan>Cr</tspan><tspan font-size="15" dy="6.5">2</tspan><tspan dy="-6.5">Fe</tspan><tspan font-size="15" dy="6.5">14</tspan><tspan dy="-6.5">C</tspan></text>
<path transform="translate(470.50 73.30) scale(12.00 12.80)" d="M0 -0.5C0.12 -0.33 0.5 -0.06 0.5 0.17C0.5 0.33 0.36 0.4 0.22 0.4C0.14 0.4 0.08 0.35 0.05 0.3L0.1 0.5L-0.1 0.5L-0.05 0.3C-0.08 0.35 -0.14 0.4 -0.22 0.4C-0.36 0.4 -0.5 0.33 -0.5 0.17C-0.5 -0.06 -0.12 -0.33 0 -0.5Z" fill="#000"/>
<text x="485" y="79.7" font-size="23" fill="#141414"><tspan>TiC</tspan></text>
<path d="M346.70 162.80L351.95 168.80L346.70 174.80L341.45 168.80Z" fill="#000"/>
<text x="361.8" y="174.5" font-size="23" fill="#141414"><tspan>Al</tspan><tspan font-size="15" dy="6.5">0.9</tspan><tspan dy="-6.5">Ni</tspan><tspan font-size="15" dy="6.5">1.1</tspan></text>
<path transform="translate(457.70 168.60) scale(11.50 11.50)" d="M0 0.5C-0.14 0.3 -0.5 0.06 -0.5 -0.2C-0.5 -0.4 -0.36 -0.5 -0.24 -0.5C-0.1 -0.5 -0.02 -0.4 0 -0.3C0.02 -0.4 0.1 -0.5 0.24 -0.5C0.36 -0.5 0.5 -0.4 0.5 -0.2C0.5 0.06 0.14 0.3 0 0.5Z" fill="#000"/>
<text x="473" y="174.5" font-size="23" fill="#141414"><tspan>Al</tspan><tspan font-size="15" dy="6.5">2</tspan><tspan dy="-6.5">O</tspan><tspan font-size="15" dy="6.5">3</tspan></text>
<path d="M344.80 193.70L349.40 201.00L344.80 208.30L340.20 201.00Z" fill="none" stroke="#222" stroke-width="1.3" stroke-linejoin="miter"/>
<text x="361" y="209" font-size="23" fill="#141414"><tspan>Ni</tspan><tspan font-size="15" dy="6.5">17</tspan><tspan dy="-6.5">W</tspan><tspan font-size="15" dy="6.5">3</tspan></text>
<path transform="translate(463.70 203.20) scale(12.00 12.80)" d="M0 -0.5C0.12 -0.33 0.5 -0.06 0.5 0.17C0.5 0.33 0.36 0.4 0.22 0.4C0.14 0.4 0.08 0.35 0.05 0.3L0.1 0.5L-0.1 0.5L-0.05 0.3C-0.08 0.35 -0.14 0.4 -0.22 0.4C-0.36 0.4 -0.5 0.33 -0.5 0.17C-0.5 -0.06 -0.12 -0.33 0 -0.5Z" fill="#000"/>
<text x="478" y="209" font-size="23" fill="#141414"><tspan>TiC</tspan></text>
<circle cx="534.90" cy="203.90" r="4.25" fill="#000"/>
<text x="545" y="209" font-size="23" fill="#141414"><tspan>Ti</tspan><tspan font-size="15" dy="6.5">8</tspan><tspan dy="-6.5">C</tspan><tspan font-size="15" dy="6.5">5</tspan></text>
<path d="M351.80 303.00L357.05 309.00L351.80 315.00L346.55 309.00Z" fill="#000"/>
<text x="366.5" y="314" font-size="23" fill="#141414"><tspan>Al</tspan><tspan font-size="15" dy="6.5">0.42</tspan><tspan dy="-6.5">Ni</tspan><tspan font-size="15" dy="6.5">0.58</tspan></text>
<path transform="translate(494.00 307.70) scale(11.50 11.50)" d="M0 0.5C-0.14 0.3 -0.5 0.06 -0.5 -0.2C-0.5 -0.4 -0.36 -0.5 -0.24 -0.5C-0.1 -0.5 -0.02 -0.4 0 -0.3C0.02 -0.4 0.1 -0.5 0.24 -0.5C0.36 -0.5 0.5 -0.4 0.5 -0.2C0.5 0.06 0.14 0.3 0 0.5Z" fill="#000"/>
<text x="508.3" y="314" font-size="23" fill="#141414"><tspan>Al</tspan><tspan font-size="15" dy="6.5">2</tspan><tspan dy="-6.5">O</tspan><tspan font-size="15" dy="6.5">3</tspan></text>
<path transform="translate(352.00 342.40) scale(12.00 12.80)" d="M0 -0.5C0.12 -0.33 0.5 -0.06 0.5 0.17C0.5 0.33 0.36 0.4 0.22 0.4C0.14 0.4 0.08 0.35 0.05 0.3L0.1 0.5L-0.1 0.5L-0.05 0.3C-0.08 0.35 -0.14 0.4 -0.22 0.4C-0.36 0.4 -0.5 0.33 -0.5 0.17C-0.5 -0.06 -0.12 -0.33 0 -0.5Z" fill="#000"/>
<text x="366.5" y="348.5" font-size="23" fill="#141414"><tspan>TiC</tspan></text>
<g transform="translate(495.30 341.60) scale(12.00 12.80)" fill="#000"><ellipse cx="0" cy="-0.29" rx="0.225" ry="0.215"/><ellipse cx="-0.27" cy="0.09" rx="0.23" ry="0.19" transform="rotate(-8 -0.27 0.09)"/><ellipse cx="0.27" cy="0.09" rx="0.23" ry="0.19" transform="rotate(8 0.27 0.09)"/><path d="M-0.2 0.02L0.2 0.02L0 -0.2Z"/><path d="M-0.05 -0.1L0.05 -0.1L0.04 0.36L0.12 0.5L-0.12 0.5L-0.04 0.36Z"/></g>
<text x="510" y="348.5" font-size="23" fill="#141414"><tspan>FeO</tspan></text>
<path d="M334.80 558.60L340.05 564.60L334.80 570.60L329.55 564.60Z" fill="#000"/>
<text x="349.3" y="570.7" font-size="23" fill="#141414"><tspan>Al</tspan><tspan font-size="15" dy="6.5">0.9</tspan><tspan dy="-6.5">Ni</tspan><tspan font-size="15" dy="6.5">1.1</tspan></text>
<path transform="translate(446.50 565.20) scale(11.50 11.50)" d="M0 0.5C-0.14 0.3 -0.5 0.06 -0.5 -0.2C-0.5 -0.4 -0.36 -0.5 -0.24 -0.5C-0.1 -0.5 -0.02 -0.4 0 -0.3C0.02 -0.4 0.1 -0.5 0.24 -0.5C0.36 -0.5 0.5 -0.4 0.5 -0.2C0.5 0.06 0.14 0.3 0 0.5Z" fill="#000"/>
<text x="461" y="570.7" font-size="23" fill="#141414"><tspan>Al</tspan><tspan font-size="15" dy="6.5">2</tspan><tspan dy="-6.5">O</tspan><tspan font-size="15" dy="6.5">3</tspan></text>
<path d="M336.20 591.30L340.80 598.60L336.20 605.90L331.60 598.60Z" fill="none" stroke="#222" stroke-width="1.3" stroke-linejoin="miter"/>
<text x="352.2" y="604.8" font-size="23" fill="#141414"><tspan>Cr</tspan><tspan font-size="15" dy="6.5">2</tspan><tspan dy="-6.5">Fe</tspan><tspan font-size="15" dy="6.5">14</tspan><tspan dy="-6.5">C</tspan></text>
<path transform="translate(453.10 600.20) scale(12.00 12.80)" d="M0 -0.5C0.12 -0.33 0.5 -0.06 0.5 0.17C0.5 0.33 0.36 0.4 0.22 0.4C0.14 0.4 0.08 0.35 0.05 0.3L0.1 0.5L-0.1 0.5L-0.05 0.3C-0.08 0.35 -0.14 0.4 -0.22 0.4C-0.36 0.4 -0.5 0.33 -0.5 0.17C-0.5 -0.06 -0.12 -0.33 0 -0.5Z" fill="#000"/>
<text x="469" y="604.8" font-size="23" fill="#141414"><tspan>TiC</tspan></text>
<circle cx="514.40" cy="601.20" r="4.25" fill="#000"/>
<text x="525.3" y="604.8" font-size="23" fill="#141414"><tspan>Al</tspan><tspan font-size="15" dy="6.5">84.6</tspan><tspan dy="-6.5">Cr</tspan><tspan font-size="15" dy="6.5">15.4</tspan></text>
<path d="M338.60 684.30L343.85 690.30L338.60 696.30L333.35 690.30Z" fill="#000"/>
<text x="353.6" y="695.5" font-size="23" fill="#141414"><tspan>Al</tspan><tspan font-size="15" dy="6.5">0.9</tspan><tspan dy="-6.5">Ni</tspan><tspan font-size="15" dy="6.5">1.1</tspan></text>
<path transform="translate(455.00 690.40) scale(11.50 11.50)" d="M0 0.5C-0.14 0.3 -0.5 0.06 -0.5 -0.2C-0.5 -0.4 -0.36 -0.5 -0.24 -0.5C-0.1 -0.5 -0.02 -0.4 0 -0.3C0.02 -0.4 0.1 -0.5 0.24 -0.5C0.36 -0.5 0.5 -0.4 0.5 -0.2C0.5 0.06 0.14 0.3 0 0.5Z" fill="#000"/>
<text x="470.2" y="695.5" font-size="23" fill="#141414"><tspan>Al</tspan><tspan font-size="15" dy="6.5">2</tspan><tspan dy="-6.5">O</tspan><tspan font-size="15" dy="6.5">3</tspan></text>
<path d="M339.70 716.20L344.30 723.50L339.70 730.80L335.10 723.50Z" fill="none" stroke="#222" stroke-width="1.3" stroke-linejoin="miter"/>
<text x="356" y="729.8" font-size="23" fill="#141414"><tspan>Ni</tspan><tspan font-size="15" dy="6.5">17</tspan><tspan dy="-6.5">W</tspan><tspan font-size="15" dy="6.5">3</tspan></text>
<path transform="translate(453.00 724.70) scale(12.00 12.80)" d="M0 -0.5C0.12 -0.33 0.5 -0.06 0.5 0.17C0.5 0.33 0.36 0.4 0.22 0.4C0.14 0.4 0.08 0.35 0.05 0.3L0.1 0.5L-0.1 0.5L-0.05 0.3C-0.08 0.35 -0.14 0.4 -0.22 0.4C-0.36 0.4 -0.5 0.33 -0.5 0.17C-0.5 -0.06 -0.12 -0.33 0 -0.5Z" fill="#000"/>
<text x="467.5" y="729.8" font-size="23" fill="#141414"><tspan>TiC</tspan></text>
<g transform="translate(527.20 724.10) scale(12.00 12.80)" fill="#000"><ellipse cx="0" cy="-0.29" rx="0.225" ry="0.215"/><ellipse cx="-0.27" cy="0.09" rx="0.23" ry="0.19" transform="rotate(-8 -0.27 0.09)"/><ellipse cx="0.27" cy="0.09" rx="0.23" ry="0.19" transform="rotate(8 0.27 0.09)"/><path d="M-0.2 0.02L0.2 0.02L0 -0.2Z"/><path d="M-0.05 -0.1L0.05 -0.1L0.04 0.36L0.12 0.5L-0.12 0.5L-0.04 0.36Z"/></g>
<text x="542" y="729.8" font-size="23" fill="#141414"><tspan>FeO</tspan></text>
<path d="M345.20 827.20L350.45 833.20L345.20 839.20L339.95 833.20Z" fill="#000"/>
<text x="359.7" y="839.2" font-size="23" fill="#141414"><tspan>Al</tspan><tspan font-size="15" dy="6.5">0.9</tspan><tspan dy="-6.5">Ni</tspan><tspan font-size="15" dy="6.5">1.1</tspan></text>
<path transform="translate(457.20 833.00) scale(11.50 11.50)" d="M0 0.5C-0.14 0.3 -0.5 0.06 -0.5 -0.2C-0.5 -0.4 -0.36 -0.5 -0.24 -0.5C-0.1 -0.5 -0.02 -0.4 0 -0.3C0.02 -0.4 0.1 -0.5 0.24 -0.5C0.36 -0.5 0.5 -0.4 0.5 -0.2C0.5 0.06 0.14 0.3 0 0.5Z" fill="#000"/>
<text x="470.6" y="839.2" font-size="23" fill="#141414"><tspan>Al</tspan><tspan font-size="15" dy="6.5">2</tspan><tspan dy="-6.5">O</tspan><tspan font-size="15" dy="6.5">3</tspan></text>
<path d="M342.70 860.00L347.30 867.30L342.70 874.60L338.10 867.30Z" fill="none" stroke="#222" stroke-width="1.3" stroke-linejoin="miter"/>
<text x="359.7" y="873.5" font-size="23" fill="#141414"><tspan>AlNi</tspan><tspan font-size="15" dy="6.5">3</tspan></text>
<path transform="translate(453.00 868.70) scale(12.00 12.80)" d="M0 -0.5C0.12 -0.33 0.5 -0.06 0.5 0.17C0.5 0.33 0.36 0.4 0.22 0.4C0.14 0.4 0.08 0.35 0.05 0.3L0.1 0.5L-0.1 0.5L-0.05 0.3C-0.08 0.35 -0.14 0.4 -0.22 0.4C-0.36 0.4 -0.5 0.33 -0.5 0.17C-0.5 -0.06 -0.12 -0.33 0 -0.5Z" fill="#000"/>
<text x="468.4" y="873.5" font-size="23" fill="#141414"><tspan>TiC</tspan></text>
<circle cx="524.30" cy="868.40" r="4.25" fill="#000"/>
<text x="534" y="873.5" font-size="23" fill="#141414"><tspan>Ti</tspan><tspan font-size="15" dy="6.5">8</tspan><tspan dy="-6.5">C</tspan><tspan font-size="15" dy="6.5">5</tspan></text>
<path d="M341.00 1094.10L346.25 1100.10L341.00 1106.10L335.75 1100.10Z" fill="#000"/>
<text x="355.2" y="1105" font-size="23" fill="#141414"><tspan>AlNi</tspan></text>
<path transform="translate(463.50 1099.60) scale(12.00 12.80)" d="M0 -0.5C0.12 -0.33 0.5 -0.06 0.5 0.17C0.5 0.33 0.36 0.4 0.22 0.4C0.14 0.4 0.08 0.35 0.05 0.3L0.1 0.5L-0.1 0.5L-0.05 0.3C-0.08 0.35 -0.14 0.4 -0.22 0.4C-0.36 0.4 -0.5 0.33 -0.5 0.17C-0.5 -0.06 -0.12 -0.33 0 -0.5Z" fill="#000"/>
<text x="477.5" y="1105" font-size="23" fill="#141414"><tspan>TiC</tspan></text>
<path transform="translate(341.90 1128.70) scale(11.50 11.50)" d="M0 0.5C-0.14 0.3 -0.5 0.06 -0.5 -0.2C-0.5 -0.4 -0.36 -0.5 -0.24 -0.5C-0.1 -0.5 -0.02 -0.4 0 -0.3C0.02 -0.4 0.1 -0.5 0.24 -0.5C0.36 -0.5 0.5 -0.4 0.5 -0.2C0.5 0.06 0.14 0.3 0 0.5Z" fill="#000"/>
<text x="349.1" y="1134.5" font-size="23" fill="#141414"><tspan>Al</tspan><tspan font-size="15" dy="6.5">2</tspan><tspan dy="-6.5">O</tspan><tspan font-size="15" dy="6.5">3</tspan></text>
<circle cx="463.00" cy="1129.50" r="4.00" fill="#000"/>
<text x="474" y="1134.5" font-size="23" fill="#141414"><tspan>Cr</tspan><tspan font-size="15" dy="6.5">4</tspan><tspan dy="-6.5">Ni</tspan><tspan font-size="15" dy="6.5">15</tspan><tspan dy="-6.5">W</tspan></text>
<path d="M337.00 1232.60L342.25 1238.60L337.00 1244.60L331.75 1238.60Z" fill="#000"/>
<text x="351.2" y="1244" font-size="23" fill="#141414"><tspan>AlNi</tspan></text>
<path transform="translate(444.00 1239.50) scale(12.00 12.80)" d="M0 -0.5C0.12 -0.33 0.5 -0.06 0.5 0.17C0.5 0.33 0.36 0.4 0.22 0.4C0.14 0.4 0.08 0.35 0.05 0.3L0.1 0.5L-0.1 0.5L-0.05 0.3C-0.08 0.35 -0.14 0.4 -0.22 0.4C-0.36 0.4 -0.5 0.33 -0.5 0.17C-0.5 -0.06 -0.12 -0.33 0 -0.5Z" fill="#000"/>
<text x="457.5" y="1244" font-size="23" fill="#141414"><tspan>TiC</tspan></text>
<circle cx="531.70" cy="1238.80" r="4.25" fill="#000"/>
<text x="541.4" y="1244" font-size="23" fill="#141414"><tspan>NbTiN</tspan><tspan font-size="15" dy="6.5">2</tspan></text>
<path d="M336.20 1365.00L341.45 1371.00L336.20 1377.00L330.95 1371.00Z" fill="#000"/>
<text x="350" y="1376.2" font-size="23" fill="#141414"><tspan>Al</tspan><tspan font-size="15" dy="6.5">0.96</tspan><tspan dy="-6.5">Ni</tspan><tspan font-size="15" dy="6.5">1.04</tspan></text>
<path transform="translate(462.30 1371.00) scale(12.00 12.80)" d="M0 -0.5C0.12 -0.33 0.5 -0.06 0.5 0.17C0.5 0.33 0.36 0.4 0.22 0.4C0.14 0.4 0.08 0.35 0.05 0.3L0.1 0.5L-0.1 0.5L-0.05 0.3C-0.08 0.35 -0.14 0.4 -0.22 0.4C-0.36 0.4 -0.5 0.33 -0.5 0.17C-0.5 -0.06 -0.12 -0.33 0 -0.5Z" fill="#000"/>
<text x="475.4" y="1376.2" font-size="23" fill="#141414"><tspan>NbN</tspan><tspan font-size="15" dy="6.5">0.85</tspan></text>
<circle cx="332.50" cy="1404.00" r="4.25" fill="#000"/>
<text x="343.4" y="1410" font-size="23" fill="#141414"><tspan>NbTiC</tspan><tspan font-size="15" dy="6.5">2</tspan></text>
<g transform="translate(460.40 1404.10) scale(12.00 12.80)" fill="#000"><ellipse cx="0" cy="-0.29" rx="0.225" ry="0.215"/><ellipse cx="-0.27" cy="0.09" rx="0.23" ry="0.19" transform="rotate(-8 -0.27 0.09)"/><ellipse cx="0.27" cy="0.09" rx="0.23" ry="0.19" transform="rotate(8 0.27 0.09)"/><path d="M-0.2 0.02L0.2 0.02L0 -0.2Z"/><path d="M-0.05 -0.1L0.05 -0.1L0.04 0.36L0.12 0.5L-0.12 0.5L-0.04 0.36Z"/></g>
<text x="474" y="1410" font-size="23" fill="#141414"><tspan>Co</tspan><tspan font-size="15" dy="6.5">2</tspan><tspan dy="-6.5">Nb</tspan></text>
<line x1="62.00" y1="441.5" x2="62.00" y2="434.0" stroke="#262626" stroke-width="2"/>
<line x1="85.96" y1="441.5" x2="85.96" y2="437.5" stroke="#262626" stroke-width="2"/>
<line x1="109.92" y1="441.5" x2="109.92" y2="434.0" stroke="#262626" stroke-width="2"/>
<line x1="133.88" y1="441.5" x2="133.88" y2="437.5" stroke="#262626" stroke-width="2"/>
<line x1="157.83" y1="441.5" x2="157.83" y2="434.0" stroke="#262626" stroke-width="2"/>
<line x1="181.79" y1="441.5" x2="181.79" y2="437.5" stroke="#262626" stroke-width="2"/>
<line x1="205.75" y1="441.5" x2="205.75" y2="434.0" stroke="#262626" stroke-width="2"/>
<line x1="229.71" y1="441.5" x2="229.71" y2="437.5" stroke="#262626" stroke-width="2"/>
<line x1="253.67" y1="441.5" x2="253.67" y2="434.0" stroke="#262626" stroke-width="2"/>
<line x1="277.62" y1="441.5" x2="277.62" y2="437.5" stroke="#262626" stroke-width="2"/>
<line x1="301.58" y1="441.5" x2="301.58" y2="434.0" stroke="#262626" stroke-width="2"/>
<line x1="325.54" y1="441.5" x2="325.54" y2="437.5" stroke="#262626" stroke-width="2"/>
<line x1="349.50" y1="441.5" x2="349.50" y2="434.0" stroke="#262626" stroke-width="2"/>
<line x1="373.46" y1="441.5" x2="373.46" y2="437.5" stroke="#262626" stroke-width="2"/>
<line x1="397.42" y1="441.5" x2="397.42" y2="434.0" stroke="#262626" stroke-width="2"/>
<line x1="421.38" y1="441.5" x2="421.38" y2="437.5" stroke="#262626" stroke-width="2"/>
<line x1="445.33" y1="441.5" x2="445.33" y2="434.0" stroke="#262626" stroke-width="2"/>
<line x1="469.29" y1="441.5" x2="469.29" y2="437.5" stroke="#262626" stroke-width="2"/>
<line x1="493.25" y1="441.5" x2="493.25" y2="434.0" stroke="#262626" stroke-width="2"/>
<line x1="517.21" y1="441.5" x2="517.21" y2="437.5" stroke="#262626" stroke-width="2"/>
<line x1="541.17" y1="441.5" x2="541.17" y2="434.0" stroke="#262626" stroke-width="2"/>
<line x1="565.12" y1="441.5" x2="565.12" y2="437.5" stroke="#262626" stroke-width="2"/>
<line x1="589.08" y1="441.5" x2="589.08" y2="434.0" stroke="#262626" stroke-width="2"/>
<line x1="613.04" y1="441.5" x2="613.04" y2="437.5" stroke="#262626" stroke-width="2"/>
<line x1="637.00" y1="441.5" x2="637.00" y2="434.0" stroke="#262626" stroke-width="2"/>
<path d="M62 441.5L637 441.5L637 16L62 16" fill="none" stroke="#262626" stroke-width="2" stroke-linecap="square"/>
<line x1="62" y1="15" x2="62" y2="442.5" stroke="#262626" stroke-width="2"/>
<line x1="60.50" y1="969" x2="60.50" y2="961.5" stroke="#262626" stroke-width="2"/>
<line x1="84.45" y1="969" x2="84.45" y2="965" stroke="#262626" stroke-width="2"/>
<line x1="108.39" y1="969" x2="108.39" y2="961.5" stroke="#262626" stroke-width="2"/>
<line x1="132.34" y1="969" x2="132.34" y2="965" stroke="#262626" stroke-width="2"/>
<line x1="156.28" y1="969" x2="156.28" y2="961.5" stroke="#262626" stroke-width="2"/>
<line x1="180.23" y1="969" x2="180.23" y2="965" stroke="#262626" stroke-width="2"/>
<line x1="204.18" y1="969" x2="204.18" y2="961.5" stroke="#262626" stroke-width="2"/>
<line x1="228.12" y1="969" x2="228.12" y2="965" stroke="#262626" stroke-width="2"/>
<line x1="252.07" y1="969" x2="252.07" y2="961.5" stroke="#262626" stroke-width="2"/>
<line x1="276.01" y1="969" x2="276.01" y2="965" stroke="#262626" stroke-width="2"/>
<line x1="299.96" y1="969" x2="299.96" y2="961.5" stroke="#262626" stroke-width="2"/>
<line x1="323.90" y1="969" x2="323.90" y2="965" stroke="#262626" stroke-width="2"/>
<line x1="347.85" y1="969" x2="347.85" y2="961.5" stroke="#262626" stroke-width="2"/>
<line x1="371.80" y1="969" x2="371.80" y2="965" stroke="#262626" stroke-width="2"/>
<line x1="395.74" y1="969" x2="395.74" y2="961.5" stroke="#262626" stroke-width="2"/>
<line x1="419.69" y1="969" x2="419.69" y2="965" stroke="#262626" stroke-width="2"/>
<line x1="443.63" y1="969" x2="443.63" y2="961.5" stroke="#262626" stroke-width="2"/>
<line x1="467.58" y1="969" x2="467.58" y2="965" stroke="#262626" stroke-width="2"/>
<line x1="491.53" y1="969" x2="491.53" y2="961.5" stroke="#262626" stroke-width="2"/>
<line x1="515.47" y1="969" x2="515.47" y2="965" stroke="#262626" stroke-width="2"/>
<line x1="539.42" y1="969" x2="539.42" y2="961.5" stroke="#262626" stroke-width="2"/>
<line x1="563.36" y1="969" x2="563.36" y2="965" stroke="#262626" stroke-width="2"/>
<line x1="587.31" y1="969" x2="587.31" y2="961.5" stroke="#262626" stroke-width="2"/>
<line x1="611.25" y1="969" x2="611.25" y2="965" stroke="#262626" stroke-width="2"/>
<line x1="635.20" y1="969" x2="635.20" y2="961.5" stroke="#262626" stroke-width="2"/>
<path d="M60.5 969L635.2 969L635.2 543L60.5 543" fill="none" stroke="#262626" stroke-width="2" stroke-linecap="square"/>
<line x1="60.5" y1="542" x2="60.5" y2="970" stroke="#262626" stroke-width="2"/>
<line x1="62.00" y1="1500.5" x2="62.00" y2="1493.0" stroke="#262626" stroke-width="2"/>
<line x1="85.92" y1="1500.5" x2="85.92" y2="1496.5" stroke="#262626" stroke-width="2"/>
<line x1="109.83" y1="1500.5" x2="109.83" y2="1493.0" stroke="#262626" stroke-width="2"/>
<line x1="133.75" y1="1500.5" x2="133.75" y2="1496.5" stroke="#262626" stroke-width="2"/>
<line x1="157.67" y1="1500.5" x2="157.67" y2="1493.0" stroke="#262626" stroke-width="2"/>
<line x1="181.58" y1="1500.5" x2="181.58" y2="1496.5" stroke="#262626" stroke-width="2"/>
<line x1="205.50" y1="1500.5" x2="205.50" y2="1493.0" stroke="#262626" stroke-width="2"/>
<line x1="229.42" y1="1500.5" x2="229.42" y2="1496.5" stroke="#262626" stroke-width="2"/>
<line x1="253.33" y1="1500.5" x2="253.33" y2="1493.0" stroke="#262626" stroke-width="2"/>
<line x1="277.25" y1="1500.5" x2="277.25" y2="1496.5" stroke="#262626" stroke-width="2"/>
<line x1="301.17" y1="1500.5" x2="301.17" y2="1493.0" stroke="#262626" stroke-width="2"/>
<line x1="325.08" y1="1500.5" x2="325.08" y2="1496.5" stroke="#262626" stroke-width="2"/>
<line x1="349.00" y1="1500.5" x2="349.00" y2="1493.0" stroke="#262626" stroke-width="2"/>
<line x1="372.92" y1="1500.5" x2="372.92" y2="1496.5" stroke="#262626" stroke-width="2"/>
<line x1="396.83" y1="1500.5" x2="396.83" y2="1493.0" stroke="#262626" stroke-width="2"/>
<line x1="420.75" y1="1500.5" x2="420.75" y2="1496.5" stroke="#262626" stroke-width="2"/>
<line x1="444.67" y1="1500.5" x2="444.67" y2="1493.0" stroke="#262626" stroke-width="2"/>
<line x1="468.58" y1="1500.5" x2="468.58" y2="1496.5" stroke="#262626" stroke-width="2"/>
<line x1="492.50" y1="1500.5" x2="492.50" y2="1493.0" stroke="#262626" stroke-width="2"/>
<line x1="516.42" y1="1500.5" x2="516.42" y2="1496.5" stroke="#262626" stroke-width="2"/>
<line x1="540.33" y1="1500.5" x2="540.33" y2="1493.0" stroke="#262626" stroke-width="2"/>
<line x1="564.25" y1="1500.5" x2="564.25" y2="1496.5" stroke="#262626" stroke-width="2"/>
<line x1="588.17" y1="1500.5" x2="588.17" y2="1493.0" stroke="#262626" stroke-width="2"/>
<line x1="612.08" y1="1500.5" x2="612.08" y2="1496.5" stroke="#262626" stroke-width="2"/>
<line x1="636.00" y1="1500.5" x2="636.00" y2="1493.0" stroke="#262626" stroke-width="2"/>
<path d="M61.7 1500.5L636 1500.5L636 1074.5L61.7 1074.5" fill="none" stroke="#262626" stroke-width="2" stroke-linecap="square"/>
<line x1="61.7" y1="1073.5" x2="61.7" y2="1501.5" stroke="#5a5a5a" stroke-width="2"/>
<line x1="61.7" y1="1073.5" x2="61.7" y2="1128" stroke="#262626" stroke-width="2"/>
</svg>
</body></html>
